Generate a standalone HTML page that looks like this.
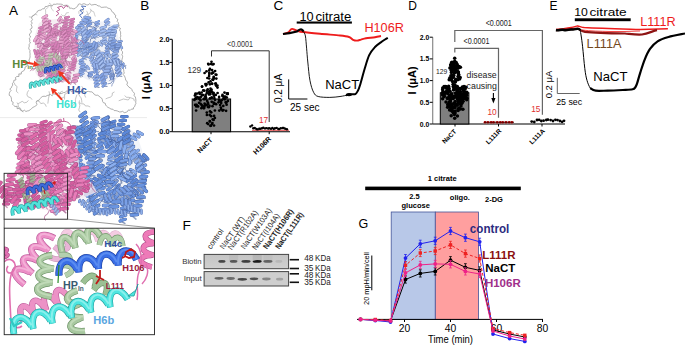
<!DOCTYPE html>
<html><head><meta charset="utf-8"><style>
html,body{margin:0;padding:0;background:#fff;}
svg{display:block;}
text{font-family:"Liberation Sans",sans-serif;}
</style></head><body>
<svg width="685" height="345" viewBox="0 0 685 345">
<defs><path id="r2" d="M-1.00,-0.6 Q-0.75,0.05 -0.45,0.6M0.00,-0.6 Q0.25,0.05 0.55,0.6" fill="none" stroke-linecap="round"/><path id="b2" d="M-0.45,0.6 L0.00,-0.6M0.55,0.6 L1.00,-0.6" fill="none" stroke-linecap="round"/><path id="r3" d="M-1.50,-0.6 Q-1.25,0.05 -0.95,0.6M-0.50,-0.6 Q-0.25,0.05 0.05,0.6M0.50,-0.6 Q0.75,0.05 1.05,0.6" fill="none" stroke-linecap="round"/><path id="b3" d="M-0.95,0.6 L-0.50,-0.6M0.05,0.6 L0.50,-0.6M1.05,0.6 L1.50,-0.6" fill="none" stroke-linecap="round"/><path id="r4" d="M-2.00,-0.6 Q-1.75,0.05 -1.45,0.6M-1.00,-0.6 Q-0.75,0.05 -0.45,0.6M0.00,-0.6 Q0.25,0.05 0.55,0.6M1.00,-0.6 Q1.25,0.05 1.55,0.6" fill="none" stroke-linecap="round"/><path id="b4" d="M-1.45,0.6 L-1.00,-0.6M-0.45,0.6 L0.00,-0.6M0.55,0.6 L1.00,-0.6M1.55,0.6 L2.00,-0.6" fill="none" stroke-linecap="round"/><path id="r5" d="M-2.50,-0.6 Q-2.25,0.05 -1.95,0.6M-1.50,-0.6 Q-1.25,0.05 -0.95,0.6M-0.50,-0.6 Q-0.25,0.05 0.05,0.6M0.50,-0.6 Q0.75,0.05 1.05,0.6M1.50,-0.6 Q1.75,0.05 2.05,0.6" fill="none" stroke-linecap="round"/><path id="b5" d="M-1.95,0.6 L-1.50,-0.6M-0.95,0.6 L-0.50,-0.6M0.05,0.6 L0.50,-0.6M1.05,0.6 L1.50,-0.6M2.05,0.6 L2.50,-0.6" fill="none" stroke-linecap="round"/><path id="r6" d="M-3.00,-0.6 Q-2.75,0.05 -2.45,0.6M-2.00,-0.6 Q-1.75,0.05 -1.45,0.6M-1.00,-0.6 Q-0.75,0.05 -0.45,0.6M0.00,-0.6 Q0.25,0.05 0.55,0.6M1.00,-0.6 Q1.25,0.05 1.55,0.6M2.00,-0.6 Q2.25,0.05 2.55,0.6" fill="none" stroke-linecap="round"/><path id="b6" d="M-2.45,0.6 L-2.00,-0.6M-1.45,0.6 L-1.00,-0.6M-0.45,0.6 L0.00,-0.6M0.55,0.6 L1.00,-0.6M1.55,0.6 L2.00,-0.6M2.55,0.6 L3.00,-0.6" fill="none" stroke-linecap="round"/><path id="r7" d="M-3.50,-0.6 Q-3.25,0.05 -2.95,0.6M-2.50,-0.6 Q-2.25,0.05 -1.95,0.6M-1.50,-0.6 Q-1.25,0.05 -0.95,0.6M-0.50,-0.6 Q-0.25,0.05 0.05,0.6M0.50,-0.6 Q0.75,0.05 1.05,0.6M1.50,-0.6 Q1.75,0.05 2.05,0.6M2.50,-0.6 Q2.75,0.05 3.05,0.6" fill="none" stroke-linecap="round"/><path id="b7" d="M-2.95,0.6 L-2.50,-0.6M-1.95,0.6 L-1.50,-0.6M-0.95,0.6 L-0.50,-0.6M0.05,0.6 L0.50,-0.6M1.05,0.6 L1.50,-0.6M2.05,0.6 L2.50,-0.6M3.05,0.6 L3.50,-0.6" fill="none" stroke-linecap="round"/><path id="r8" d="M-4.00,-0.6 Q-3.75,0.05 -3.45,0.6M-3.00,-0.6 Q-2.75,0.05 -2.45,0.6M-2.00,-0.6 Q-1.75,0.05 -1.45,0.6M-1.00,-0.6 Q-0.75,0.05 -0.45,0.6M0.00,-0.6 Q0.25,0.05 0.55,0.6M1.00,-0.6 Q1.25,0.05 1.55,0.6M2.00,-0.6 Q2.25,0.05 2.55,0.6M3.00,-0.6 Q3.25,0.05 3.55,0.6" fill="none" stroke-linecap="round"/><path id="b8" d="M-3.45,0.6 L-3.00,-0.6M-2.45,0.6 L-2.00,-0.6M-1.45,0.6 L-1.00,-0.6M-0.45,0.6 L0.00,-0.6M0.55,0.6 L1.00,-0.6M1.55,0.6 L2.00,-0.6M2.55,0.6 L3.00,-0.6M3.55,0.6 L4.00,-0.6" fill="none" stroke-linecap="round"/></defs>
<path d="M62.0,4.3 60.3,4.1 58.6,4.1 57.0,3.9 55.3,4.4 53.6,4.1 52.3,5.9 50.4,5.7 48.5,5.4 47.1,6.5 45.3,6.6 44.3,8.7 42.4,8.9 41.0,10.1 39.2,10.3 37.5,11.1 36.8,12.5 35.5,13.8 34.4,15.2 32.3,16.0 31.5,17.9 32.5,19.7 31.1,21.3 32.2,23.1 31.1,24.6 31.9,26.4 32.0,28.1 30.1,29.4 31.3,31.0 31.2,32.5 29.5,33.9 29.6,35.4 30.7,37.0 29.2,38.4 29.9,40.0 29.6,41.5 30.5,43.0 28.9,44.5 29.4,46.0 28.8,47.5 28.8,49.0 30.0,50.5 29.8,52.0 30.1,53.7 30.0,55.4 30.1,57.0 29.6,58.7 28.9,60.3 29.8,62.5 27.9,63.1 27.6,64.8 26.8,66.2 25.1,67.0 24.9,68.7 24.3,70.3 22.9,71.2 21.4,72.0 21.2,74.1 18.8,73.9 19.0,76.4 16.8,76.5 15.4,77.6 16.0,79.8 13.8,80.4 13.7,82.1 12.5,83.3 12.7,85.2 11.9,86.1 11.5,87.6 9.8,88.9 11.1,90.6 9.8,91.9 9.3,93.4 9.2,95.3 10.8,96.4 11.3,97.9 11.5,99.5 11.5,101.2 13.2,102.3 12.7,104.4 13.8,105.5 14.9,106.5 17.1,106.3 17.1,108.7 19.4,108.4 20.0,109.7 21.5,110.4 22.9,111.2 24.5,110.2 25.9,111.5 27.5,110.9 28.8,110.7 30.3,109.7 31.6,108.5 33.0,107.3 34.4,106.7 35.9,105.7 37.1,104.6 36.2,102.5 36.6,101.0 38.5,100.8 39.5,99.1 40.9,97.8 42.2,96.6 44.0,96.2 45.7,96.4 47.2,95.5 48.8,95.2 50.3,94.3 52.2,95.8 53.4,93.7 55.2,94.2 57.0,94.5 58.2,92.7 60.1,93.5 61.8,93.5 63.4,92.6 65.1,92.6 66.5,90.9 68.3,91.2 70.0,90.3 71.7,91.7 73.3,90.6 75.0,90.9 76.7,92.0 78.3,91.7 79.9,91.9 81.7,91.1 83.3,91.3 85.0,92.0 86.7,91.6 88.4,91.4 90.1,91.8 91.8,91.9 93.3,93.0 94.5,94.7 96.1,95.3 97.8,95.2 99.0,96.2 100.2,97.2 101.6,98.1 102.3,99.5 102.6,101.4 103.4,102.7 105.2,103.2 105.6,105.0 106.6,106.2 107.8,107.3 109.5,108.1 111.0,109.1 112.9,109.2 114.2,110.6 116.0,110.6 117.7,111.1 119.3,111.9 121.0,111.9 122.7,111.3 124.2,112.7 126.1,112.3 127.5,111.5 128.4,109.9 130.2,110.3 131.4,109.1 133.3,109.1 133.5,107.6 134.8,106.4 135.1,104.9 135.9,103.6 135.7,102.1 135.9,100.3 135.7,98.7 135.4,97.0 134.1,95.7 134.5,93.6 133.6,92.2 132.3,91.1 131.8,89.4 130.7,88.1 129.0,87.3 128.1,86.0 126.8,84.8 127.5,82.9 127.1,81.4 125.7,80.3 125.5,78.7 125.0,77.3 124.5,76.0 123.2,74.6 124.3,73.0 123.8,71.5 123.8,70.0 123.2,68.5 123.5,67.0 123.7,65.5 123.3,64.0 123.3,62.4 121.8,61.0 122.0,59.4 122.4,57.8 122.7,56.2 121.8,54.7 122.6,53.1 122.4,51.5 121.1,50.1 121.8,48.4 121.2,46.9 120.8,45.4 120.8,43.8 121.1,42.2 120.7,40.7 120.6,39.2 120.2,37.6 120.9,36.0 120.5,34.5 120.7,33.0 120.4,31.5 119.5,30.1 120.5,28.4 118.5,27.2 119.1,25.5 118.6,24.2 118.3,22.6 117.1,21.4 117.9,19.5 116.5,18.4 115.3,17.2 115.8,15.3 114.5,14.6 113.9,12.9 112.5,12.2 111.6,10.9 110.9,9.3 109.6,8.5 108.0,8.2 106.5,7.1 104.7,7.1 102.9,7.3 101.2,7.4 99.7,6.1 98.0,5.9 96.5,4.8 94.9,4.4 93.0,4.8 91.3,5.0 89.8,3.6 88.0,5.0 86.4,4.8 84.8,3.9 83.2,3.8 81.6,4.7 79.8,3.8 78.3,4.4 77.7,6.2 76.3,7.1 75.1,8.5 73.1,8.9 71.6,8.2 69.5,8.2 68.9,6.3 67.2,5.2 65.4,5.3 63.5,5.5 Z" fill="#fff" stroke="#7a7a7a" stroke-width="0.6"/>
<path d="M129.8,97.9 128.3,100.0 125.9,99.5 123.4,99.0 121.1,99.9 118.7,100.8" stroke="#8a8a8a" stroke-width="0.5" fill="none" stroke-linejoin="round"/>
<path d="M28.4,100.4 26.7,102.3 24.3,102.8 22.2,101.3 20.1,102.6 17.9,103.8" stroke="#8a8a8a" stroke-width="0.5" fill="none" stroke-linejoin="round"/>
<path d="M46.3,106.7 45.3,104.4 43.3,103.0 40.8,103.6 39.4,101.5 37.1,100.4" stroke="#8a8a8a" stroke-width="0.5" fill="none" stroke-linejoin="round"/>
<path d="M85.7,97.5 84.7,95.2 85.2,92.7 83.5,90.9 83.2,88.4 81.8,86.3" stroke="#8a8a8a" stroke-width="0.5" fill="none" stroke-linejoin="round"/>
<path d="M77.0,94.7 76.1,97.1 75.4,99.5 75.5,102.0 74.2,104.1 72.5,105.9" stroke="#8a8a8a" stroke-width="0.5" fill="none" stroke-linejoin="round"/>
<path d="M18.3,93.0 16.4,91.4 16.6,88.9 17.1,86.5 15.0,85.0 14.3,82.7" stroke="#8a8a8a" stroke-width="0.5" fill="none" stroke-linejoin="round"/>
<path d="M64.5,99.5 64.6,97.0 64.6,94.5 66.7,93.2 68.4,91.3 69.5,89.1" stroke="#8a8a8a" stroke-width="0.5" fill="none" stroke-linejoin="round"/>
<path d="M114.5,91.9 112.3,93.1 112.2,95.6 110.3,97.2 107.9,97.9 105.6,98.9" stroke="#8a8a8a" stroke-width="0.5" fill="none" stroke-linejoin="round"/>
<path d="M47.8,103.6 48.2,101.1 48.4,98.7 49.0,96.2 49.5,93.8 49.0,91.3" stroke="#8a8a8a" stroke-width="0.5" fill="none" stroke-linejoin="round"/>
<path d="M32.1,99.7 30.6,97.7 28.2,97.0 26.9,94.9 27.4,92.4 28.7,90.3" stroke="#8a8a8a" stroke-width="0.5" fill="none" stroke-linejoin="round"/>
<path d="M17.0,102.5 18.2,104.6 18.3,107.1 20.5,108.2 21.2,110.6 23.3,112.1" stroke="#8a8a8a" stroke-width="0.5" fill="none" stroke-linejoin="round"/>
<path d="M90.2,107.0 88.0,105.9 85.5,106.0 84.0,104.0 81.5,103.7 79.2,102.7" stroke="#8a8a8a" stroke-width="0.5" fill="none" stroke-linejoin="round"/>
<path d="M62.8,91.2 60.5,92.0 59.7,94.4 59.7,96.9 61.8,98.2 64.0,97.0" stroke="#8a8a8a" stroke-width="0.5" fill="none" stroke-linejoin="round"/>
<path d="M81.9,102.8 81.7,100.4 81.1,97.9 79.6,96.0 78.5,93.7 77.4,91.5" stroke="#8a8a8a" stroke-width="0.5" fill="none" stroke-linejoin="round"/>
<path d="M124.7,95.5 126.4,97.3 128.9,97.3 131.3,98.0 133.7,98.8 134.4,101.2" stroke="#8a8a8a" stroke-width="0.5" fill="none" stroke-linejoin="round"/>
<path d="M79.5,100.4 79.0,102.9 79.9,105.2 79.4,107.6 78.7,110.0 80.2,112.1" stroke="#8a8a8a" stroke-width="0.5" fill="none" stroke-linejoin="round"/>
<path d="M53.7,11.0 51.8,9.3 51.0,7.0 51.1,4.5 49.0,3.0" stroke="#9a9a9a" stroke-width="0.5" fill="none" stroke-linejoin="round"/>
<path d="M90.1,8.7 91.4,10.8 93.8,11.8 94.5,14.2 95.3,16.5" stroke="#9a9a9a" stroke-width="0.5" fill="none" stroke-linejoin="round"/>
<path d="M61.2,14.4 63.0,16.0 65.4,15.2 66.3,12.9 68.8,12.6" stroke="#9a9a9a" stroke-width="0.5" fill="none" stroke-linejoin="round"/>
<path d="M91.2,9.8 90.5,12.2 88.9,14.1 86.4,14.4 85.0,16.5" stroke="#9a9a9a" stroke-width="0.5" fill="none" stroke-linejoin="round"/>
<path d="M86.5,10.8 87.7,13.0 88.2,15.5 89.6,17.6 91.5,19.2" stroke="#9a9a9a" stroke-width="0.5" fill="none" stroke-linejoin="round"/>
<path d="M45.5,14.6 45.7,12.2 45.5,9.7 47.3,7.9 49.1,6.2" stroke="#9a9a9a" stroke-width="0.5" fill="none" stroke-linejoin="round"/>
<path d="M83.8,12.6 83.0,10.2 80.6,9.5 78.9,11.3 78.9,13.8" stroke="#9a9a9a" stroke-width="0.5" fill="none" stroke-linejoin="round"/>
<path d="M37.3,15.1 35.1,13.9 33.2,15.5 31.4,17.2 28.9,16.8" stroke="#9a9a9a" stroke-width="0.5" fill="none" stroke-linejoin="round"/>
<path d="M76,27 L80,22 L95,21 L108,22 L116,27 L119,40 L121,60 L120,75 L114,82 L100,82 L88,80 L80,76 L75,65 L73,45 Z" fill="#eceff6" opacity="0.8"/><g transform="translate(93.2,62.3) rotate(68) scale(2.89)"><use href="#b5" stroke="#98a8c8" stroke-width="0.35"/><use href="#r5" stroke="#5670a8" stroke-width="0.80"/><use href="#r5" stroke="#98b4ec" stroke-width="0.60"/></g><g transform="translate(85.3,41.7) rotate(83) scale(3.54)"><use href="#b5" stroke="#98a8c8" stroke-width="0.35"/><use href="#r5" stroke="#6078b0" stroke-width="0.80"/><use href="#r5" stroke="#82a2e2" stroke-width="0.60"/></g><g transform="translate(110.5,73.0) rotate(66) scale(2.86)"><use href="#b5" stroke="#98a8c8" stroke-width="0.35"/><use href="#r5" stroke="#5670a8" stroke-width="0.80"/><use href="#r5" stroke="#98b4ec" stroke-width="0.60"/></g><path d="M118.6,67.9 117.4,71.2 114.8,73.5 113.8,76.8 113.1,80.3 111.1,83.1 107.7,83.9" stroke="#5670a8" stroke-width="0.7" fill="none" stroke-linejoin="round"/><path d="M110.9,75.7 113.0,76.2 113.6,78.3 113.9,80.5 113.5,82.6 112.2,84.3 111.7,86.4" stroke="#6078b0" stroke-width="0.7" fill="none" stroke-linejoin="round"/><g transform="translate(111.4,40.4) rotate(104) scale(3.54)"><use href="#b5" stroke="#8898bb" stroke-width="0.35"/><use href="#r5" stroke="#6078b0" stroke-width="0.80"/><use href="#r5" stroke="#a4bef0" stroke-width="0.60"/></g><path d="M112.8,60.7 113.7,58.2 112.8,55.8 110.6,54.3 108.2,55.5 106.0,54.1 103.5,53.4" stroke="#5670a8" stroke-width="0.7" fill="none" stroke-linejoin="round"/><g transform="translate(75.4,38.0) rotate(91) scale(2.96)"><use href="#b3" stroke="#98a8c8" stroke-width="0.35"/><use href="#r3" stroke="#5670a8" stroke-width="0.80"/><use href="#r3" stroke="#82a2e2" stroke-width="0.60"/></g><g transform="translate(85.9,55.0) rotate(106) scale(2.94)"><use href="#b3" stroke="#98a8c8" stroke-width="0.35"/><use href="#r3" stroke="#6078b0" stroke-width="0.80"/><use href="#r3" stroke="#98b4ec" stroke-width="0.60"/></g><g transform="translate(111.4,35.9) rotate(90) scale(3.55)"><use href="#b5" stroke="#98a8c8" stroke-width="0.35"/><use href="#r5" stroke="#5670a8" stroke-width="0.80"/><use href="#r5" stroke="#a4bef0" stroke-width="0.60"/></g><g transform="translate(93.3,53.0) rotate(178) scale(3.01)"><use href="#b2" stroke="#8898bb" stroke-width="0.35"/><use href="#r2" stroke="#6078b0" stroke-width="0.80"/><use href="#r2" stroke="#98b4ec" stroke-width="0.60"/></g><g transform="translate(108.5,33.3) rotate(108) scale(3.54)"><use href="#b2" stroke="#98a8c8" stroke-width="0.35"/><use href="#r2" stroke="#5670a8" stroke-width="0.80"/><use href="#r2" stroke="#98b4ec" stroke-width="0.60"/></g><path d="M113.2,62.2 113.3,58.9 115.6,56.4 115.4,53.0 115.1,49.6 111.8,48.7" stroke="#6078b0" stroke-width="0.7" fill="none" stroke-linejoin="round"/><g transform="translate(81.5,44.4) rotate(65) scale(2.90)"><use href="#b2" stroke="#98a8c8" stroke-width="0.35"/><use href="#r2" stroke="#5670a8" stroke-width="0.80"/><use href="#r2" stroke="#98b4ec" stroke-width="0.60"/></g><g transform="translate(106.8,55.6) rotate(170) scale(3.34)"><use href="#b2" stroke="#8898bb" stroke-width="0.35"/><use href="#r2" stroke="#5670a8" stroke-width="0.80"/><use href="#r2" stroke="#a4bef0" stroke-width="0.60"/></g><path d="M104.4,67.2 102.6,67.8 100.6,67.7 98.6,68.0" stroke="#5670a8" stroke-width="0.7" fill="none" stroke-linejoin="round"/><g transform="translate(102.3,42.8) rotate(151) scale(3.12)"><use href="#b3" stroke="#98a8c8" stroke-width="0.35"/><use href="#r3" stroke="#5670a8" stroke-width="0.80"/><use href="#r3" stroke="#a4bef0" stroke-width="0.60"/></g><g transform="translate(81.5,62.0) rotate(90) scale(2.91)"><use href="#b2" stroke="#8898bb" stroke-width="0.35"/><use href="#r2" stroke="#5670a8" stroke-width="0.80"/><use href="#r2" stroke="#8caae8" stroke-width="0.60"/></g><path d="M99.4,80.3 97.6,81.2 95.8,80.1 93.8,79.7 92.6,78.1 91.4,76.4 89.4,76.1" stroke="#5670a8" stroke-width="0.7" fill="none" stroke-linejoin="round"/><g transform="translate(96.2,66.4) rotate(68) scale(2.77)"><use href="#b3" stroke="#98a8c8" stroke-width="0.35"/><use href="#r3" stroke="#6078b0" stroke-width="0.80"/><use href="#r3" stroke="#82a2e2" stroke-width="0.60"/></g><g transform="translate(86.2,67.7) rotate(169) scale(2.66)"><use href="#b2" stroke="#8898bb" stroke-width="0.35"/><use href="#r2" stroke="#6078b0" stroke-width="0.80"/><use href="#r2" stroke="#98b4ec" stroke-width="0.60"/></g><g transform="translate(117.6,66.9) rotate(84) scale(2.82)"><use href="#b5" stroke="#98a8c8" stroke-width="0.35"/><use href="#r5" stroke="#6078b0" stroke-width="0.80"/><use href="#r5" stroke="#98b4ec" stroke-width="0.60"/></g><path d="M113.5,56.5 116.0,58.5 116.8,61.6 119.7,62.7" stroke="#6078b0" stroke-width="0.7" fill="none" stroke-linejoin="round"/><path d="M93.4,58.9 94.0,56.7 94.5,54.5 96.7,53.9 98.5,52.5 98.0,50.3 97.1,48.3" stroke="#5670a8" stroke-width="0.7" fill="none" stroke-linejoin="round"/><path d="M85.4,42.8 86.4,40.3 88.8,38.8 90.4,36.6 89.5,34.1 89.5,31.3" stroke="#5670a8" stroke-width="0.7" fill="none" stroke-linejoin="round"/><g transform="translate(107.4,49.3) rotate(95) scale(2.69)"><use href="#b4" stroke="#8898bb" stroke-width="0.35"/><use href="#r4" stroke="#5670a8" stroke-width="0.80"/><use href="#r4" stroke="#8caae8" stroke-width="0.60"/></g><g transform="translate(82.2,71.8) rotate(108) scale(2.85)"><use href="#b3" stroke="#8898bb" stroke-width="0.35"/><use href="#r3" stroke="#5670a8" stroke-width="0.80"/><use href="#r3" stroke="#a4bef0" stroke-width="0.60"/></g><g transform="translate(118.6,71.9) rotate(76) scale(3.37)"><use href="#b3" stroke="#98a8c8" stroke-width="0.35"/><use href="#r3" stroke="#5670a8" stroke-width="0.80"/><use href="#r3" stroke="#98b4ec" stroke-width="0.60"/></g><g transform="translate(118.6,62.5) rotate(35) scale(3.07)"><use href="#b5" stroke="#98a8c8" stroke-width="0.35"/><use href="#r5" stroke="#6078b0" stroke-width="0.80"/><use href="#r5" stroke="#8caae8" stroke-width="0.60"/></g><path d="M100.0,51.7 97.2,51.2 95.7,48.8 93.2,47.5 90.6,48.7" stroke="#5670a8" stroke-width="0.7" fill="none" stroke-linejoin="round"/><g transform="translate(90.4,74.6) rotate(106) scale(2.76)"><use href="#b2" stroke="#8898bb" stroke-width="0.35"/><use href="#r2" stroke="#6078b0" stroke-width="0.80"/><use href="#r2" stroke="#82a2e2" stroke-width="0.60"/></g><g transform="translate(114.7,46.8) rotate(172) scale(3.43)"><use href="#b4" stroke="#8898bb" stroke-width="0.35"/><use href="#r4" stroke="#5670a8" stroke-width="0.80"/><use href="#r4" stroke="#98b4ec" stroke-width="0.60"/></g><g transform="translate(97.2,23.9) rotate(92) scale(2.75)"><use href="#b2" stroke="#98a8c8" stroke-width="0.35"/><use href="#r2" stroke="#6078b0" stroke-width="0.80"/><use href="#r2" stroke="#8caae8" stroke-width="0.60"/></g><path d="M100.9,34.6 102.7,32.8 105.2,33.1 107.8,33.6" stroke="#6078b0" stroke-width="0.7" fill="none" stroke-linejoin="round"/><g transform="translate(95.6,46.9) rotate(67) scale(3.16)"><use href="#b2" stroke="#98a8c8" stroke-width="0.35"/><use href="#r2" stroke="#6078b0" stroke-width="0.80"/><use href="#r2" stroke="#82a2e2" stroke-width="0.60"/></g><g transform="translate(104.5,39.7) rotate(94) scale(2.66)"><use href="#b3" stroke="#98a8c8" stroke-width="0.35"/><use href="#r3" stroke="#6078b0" stroke-width="0.80"/><use href="#r3" stroke="#a4bef0" stroke-width="0.60"/></g><g transform="translate(85.0,35.0) rotate(72) scale(3.41)"><use href="#b3" stroke="#8898bb" stroke-width="0.35"/><use href="#r3" stroke="#6078b0" stroke-width="0.80"/><use href="#r3" stroke="#98b4ec" stroke-width="0.60"/></g><g transform="translate(84.6,33.2) rotate(74) scale(3.35)"><use href="#b3" stroke="#8898bb" stroke-width="0.35"/><use href="#r3" stroke="#6078b0" stroke-width="0.80"/><use href="#r3" stroke="#a4bef0" stroke-width="0.60"/></g><g transform="translate(84.0,52.2) rotate(86) scale(3.24)"><use href="#b3" stroke="#8898bb" stroke-width="0.35"/><use href="#r3" stroke="#6078b0" stroke-width="0.80"/><use href="#r3" stroke="#98b4ec" stroke-width="0.60"/></g><g transform="translate(115.2,55.7) rotate(89) scale(3.49)"><use href="#b4" stroke="#8898bb" stroke-width="0.35"/><use href="#r4" stroke="#5670a8" stroke-width="0.80"/><use href="#r4" stroke="#98b4ec" stroke-width="0.60"/></g><g transform="translate(93.6,33.3) rotate(81) scale(3.19)"><use href="#b3" stroke="#98a8c8" stroke-width="0.35"/><use href="#r3" stroke="#6078b0" stroke-width="0.80"/><use href="#r3" stroke="#a4bef0" stroke-width="0.60"/></g><path d="M114.2,74.8 112.2,74.2 110.6,75.6 109.9,77.5 110.7,79.4 109.4,81.1" stroke="#6078b0" stroke-width="0.7" fill="none" stroke-linejoin="round"/><g transform="translate(113.3,44.8) rotate(98) scale(2.99)"><use href="#b3" stroke="#98a8c8" stroke-width="0.35"/><use href="#r3" stroke="#6078b0" stroke-width="0.80"/><use href="#r3" stroke="#82a2e2" stroke-width="0.60"/></g><g transform="translate(78.6,30.7) rotate(83) scale(3.31)"><use href="#b3" stroke="#98a8c8" stroke-width="0.35"/><use href="#r3" stroke="#6078b0" stroke-width="0.80"/><use href="#r3" stroke="#98b4ec" stroke-width="0.60"/></g><g transform="translate(89.1,34.3) rotate(73) scale(3.47)"><use href="#b2" stroke="#98a8c8" stroke-width="0.35"/><use href="#r2" stroke="#6078b0" stroke-width="0.80"/><use href="#r2" stroke="#82a2e2" stroke-width="0.60"/></g><g transform="translate(98.9,58.3) rotate(114) scale(3.27)"><use href="#b4" stroke="#8898bb" stroke-width="0.35"/><use href="#r4" stroke="#6078b0" stroke-width="0.80"/><use href="#r4" stroke="#98b4ec" stroke-width="0.60"/></g><g transform="translate(117.9,46.8) rotate(111) scale(2.64)"><use href="#b5" stroke="#98a8c8" stroke-width="0.35"/><use href="#r5" stroke="#5670a8" stroke-width="0.80"/><use href="#r5" stroke="#8caae8" stroke-width="0.60"/></g><g transform="translate(81.4,70.3) rotate(107) scale(2.68)"><use href="#b5" stroke="#8898bb" stroke-width="0.35"/><use href="#r5" stroke="#6078b0" stroke-width="0.80"/><use href="#r5" stroke="#8caae8" stroke-width="0.60"/></g><path d="M113.4,74.4 113.2,71.5 112.4,68.7 111.1,66.1 112.8,63.8 112.2,61.0" stroke="#5670a8" stroke-width="0.7" fill="none" stroke-linejoin="round"/><path d="M95.4,48.0 93.2,49.2 90.8,49.2 89.4,51.2 87.6,52.8 86.0,54.6" stroke="#6078b0" stroke-width="0.7" fill="none" stroke-linejoin="round"/><path d="M87.5,31.2 87.4,28.2 86.6,25.4 88.6,23.1" stroke="#5670a8" stroke-width="0.7" fill="none" stroke-linejoin="round"/><g transform="translate(106.3,69.5) rotate(83) scale(3.35)"><use href="#b2" stroke="#8898bb" stroke-width="0.35"/><use href="#r2" stroke="#5670a8" stroke-width="0.80"/><use href="#r2" stroke="#8caae8" stroke-width="0.60"/></g><g transform="translate(102.3,62.0) rotate(83) scale(3.40)"><use href="#b2" stroke="#98a8c8" stroke-width="0.35"/><use href="#r2" stroke="#6078b0" stroke-width="0.80"/><use href="#r2" stroke="#8caae8" stroke-width="0.60"/></g><path d="M111.0,68.1 109.9,69.9 110.3,71.9 108.6,73.1 106.6,72.6 104.7,73.4" stroke="#5670a8" stroke-width="0.7" fill="none" stroke-linejoin="round"/><path d="M115.5,43.8 114.1,45.8 114.8,48.1 116.6,49.6 118.8,48.6 120.0,46.5" stroke="#6078b0" stroke-width="0.7" fill="none" stroke-linejoin="round"/><g transform="translate(96.6,81.3) rotate(84) scale(3.15)"><use href="#b4" stroke="#8898bb" stroke-width="0.35"/><use href="#r4" stroke="#6078b0" stroke-width="0.80"/><use href="#r4" stroke="#8caae8" stroke-width="0.60"/></g><g transform="translate(79.5,53.1) rotate(73) scale(3.32)"><use href="#b2" stroke="#98a8c8" stroke-width="0.35"/><use href="#r2" stroke="#5670a8" stroke-width="0.80"/><use href="#r2" stroke="#a4bef0" stroke-width="0.60"/></g><path d="M90.4,25.6 91.9,27.2 94.0,26.8 95.2,28.6 96.2,30.5 97.5,32.2 99.5,33.0" stroke="#5670a8" stroke-width="0.7" fill="none" stroke-linejoin="round"/><g transform="translate(112.1,62.2) rotate(4) scale(3.44)"><use href="#b5" stroke="#98a8c8" stroke-width="0.35"/><use href="#r5" stroke="#5670a8" stroke-width="0.80"/><use href="#r5" stroke="#a4bef0" stroke-width="0.60"/></g><path d="M95.3,30.5 97.1,27.5 95.6,24.5 93.1,22.1 89.8,23.0" stroke="#6078b0" stroke-width="0.7" fill="none" stroke-linejoin="round"/><g transform="translate(99.3,66.9) rotate(14) scale(3.00)"><use href="#b4" stroke="#98a8c8" stroke-width="0.35"/><use href="#r4" stroke="#6078b0" stroke-width="0.80"/><use href="#r4" stroke="#98b4ec" stroke-width="0.60"/></g><g transform="translate(106.2,71.6) rotate(110) scale(3.53)"><use href="#b5" stroke="#98a8c8" stroke-width="0.35"/><use href="#r5" stroke="#6078b0" stroke-width="0.80"/><use href="#r5" stroke="#98b4ec" stroke-width="0.60"/></g><g transform="translate(96.5,71.7) rotate(27) scale(2.74)"><use href="#b2" stroke="#8898bb" stroke-width="0.35"/><use href="#r2" stroke="#6078b0" stroke-width="0.80"/><use href="#r2" stroke="#82a2e2" stroke-width="0.60"/></g><g transform="translate(107.2,22.6) rotate(78) scale(3.13)"><use href="#b2" stroke="#98a8c8" stroke-width="0.35"/><use href="#r2" stroke="#6078b0" stroke-width="0.80"/><use href="#r2" stroke="#98b4ec" stroke-width="0.60"/></g><g transform="translate(113.6,31.7) rotate(109) scale(2.84)"><use href="#b5" stroke="#8898bb" stroke-width="0.35"/><use href="#r5" stroke="#5670a8" stroke-width="0.80"/><use href="#r5" stroke="#a4bef0" stroke-width="0.60"/></g><g transform="translate(100.0,60.1) rotate(70) scale(3.55)"><use href="#b5" stroke="#8898bb" stroke-width="0.35"/><use href="#r5" stroke="#5670a8" stroke-width="0.80"/><use href="#r5" stroke="#a4bef0" stroke-width="0.60"/></g><path d="M118.9,62.5 119.8,64.5 122.0,64.3 123.8,65.5 125.6,66.7 125.6,68.9" stroke="#6078b0" stroke-width="0.7" fill="none" stroke-linejoin="round"/><path d="M106.4,64.1 105.6,66.0 104.6,67.8 102.6,68.3" stroke="#6078b0" stroke-width="0.7" fill="none" stroke-linejoin="round"/><path d="M87.4,54.7 88.9,53.1 90.7,51.8 92.6,50.7 92.6,48.5 93.8,46.7 93.1,44.6" stroke="#6078b0" stroke-width="0.7" fill="none" stroke-linejoin="round"/><path d="M81.0,69.1 83.8,69.9 86.3,71.3 88.6,73.1 88.4,76.0 89.3,78.7" stroke="#6078b0" stroke-width="0.7" fill="none" stroke-linejoin="round"/><g transform="translate(76.1,46.8) rotate(70) scale(3.38)"><use href="#b4" stroke="#98a8c8" stroke-width="0.35"/><use href="#r4" stroke="#5670a8" stroke-width="0.80"/><use href="#r4" stroke="#82a2e2" stroke-width="0.60"/></g><g transform="translate(96.4,34.6) rotate(89) scale(2.99)"><use href="#b2" stroke="#98a8c8" stroke-width="0.35"/><use href="#r2" stroke="#5670a8" stroke-width="0.80"/><use href="#r2" stroke="#98b4ec" stroke-width="0.60"/></g><path d="M96.1,39.2 93.4,38.0 90.6,38.9 90.2,41.8 89.3,44.6 88.6,47.5" stroke="#5670a8" stroke-width="0.7" fill="none" stroke-linejoin="round"/><g transform="translate(90.9,48.5) rotate(89) scale(3.02)"><use href="#b3" stroke="#98a8c8" stroke-width="0.35"/><use href="#r3" stroke="#6078b0" stroke-width="0.80"/><use href="#r3" stroke="#82a2e2" stroke-width="0.60"/></g><g transform="translate(88.9,22.6) rotate(80) scale(3.10)"><use href="#b3" stroke="#8898bb" stroke-width="0.35"/><use href="#r3" stroke="#6078b0" stroke-width="0.80"/><use href="#r3" stroke="#82a2e2" stroke-width="0.60"/></g><path d="M78.9,48.8 81.9,48.7 84.8,47.9 87.8,47.3 90.7,46.4 93.6,46.0 96.7,45.8" stroke="#5670a8" stroke-width="0.7" fill="none" stroke-linejoin="round"/><g transform="translate(102.6,31.8) rotate(98) scale(3.54)"><use href="#b3" stroke="#98a8c8" stroke-width="0.35"/><use href="#r3" stroke="#5670a8" stroke-width="0.80"/><use href="#r3" stroke="#a4bef0" stroke-width="0.60"/></g><g transform="translate(103.0,80.8) rotate(71) scale(3.30)"><use href="#b4" stroke="#8898bb" stroke-width="0.35"/><use href="#r4" stroke="#6078b0" stroke-width="0.80"/><use href="#r4" stroke="#82a2e2" stroke-width="0.60"/></g><g transform="translate(95.4,45.7) rotate(42) scale(3.26)"><use href="#b2" stroke="#8898bb" stroke-width="0.35"/><use href="#r2" stroke="#6078b0" stroke-width="0.80"/><use href="#r2" stroke="#8caae8" stroke-width="0.60"/></g><g transform="translate(83.5,22.3) rotate(126) scale(3.39)"><use href="#b4" stroke="#8898bb" stroke-width="0.35"/><use href="#r4" stroke="#5670a8" stroke-width="0.80"/><use href="#r4" stroke="#8caae8" stroke-width="0.60"/></g>
<path d="M39,23 L45,20 L58,19 L70,21 L74,26 L75,35 L75,50 L76,62 L79,74 L76,80 L68,79 L60,77 L50,80 L40,80 L35,72 L34,55 L35,35 Z" fill="#f3e9ef" opacity="0.8"/><g transform="translate(42.0,73.6) rotate(77) scale(2.80)"><use href="#b2" stroke="#b87aa4" stroke-width="0.35"/><use href="#r2" stroke="#a8608e" stroke-width="0.80"/><use href="#r2" stroke="#eaaad2" stroke-width="0.60"/></g><g transform="translate(49.9,34.8) rotate(85) scale(3.31)"><use href="#b3" stroke="#c89ab8" stroke-width="0.35"/><use href="#r3" stroke="#a8608e" stroke-width="0.80"/><use href="#r3" stroke="#de8ec2" stroke-width="0.60"/></g><g transform="translate(48.7,24.2) rotate(81) scale(3.04)"><use href="#b2" stroke="#b87aa4" stroke-width="0.35"/><use href="#r2" stroke="#a8608e" stroke-width="0.80"/><use href="#r2" stroke="#de8ec2" stroke-width="0.60"/></g><g transform="translate(54.5,38.0) rotate(105) scale(2.83)"><use href="#b4" stroke="#c89ab8" stroke-width="0.35"/><use href="#r4" stroke="#b06a98" stroke-width="0.80"/><use href="#r4" stroke="#e59dca" stroke-width="0.60"/></g><g transform="translate(47.5,66.3) rotate(91) scale(2.77)"><use href="#b4" stroke="#c89ab8" stroke-width="0.35"/><use href="#r4" stroke="#b06a98" stroke-width="0.80"/><use href="#r4" stroke="#de8ec2" stroke-width="0.60"/></g><g transform="translate(60.0,75.8) rotate(79) scale(3.27)"><use href="#b4" stroke="#c89ab8" stroke-width="0.35"/><use href="#r4" stroke="#a8608e" stroke-width="0.80"/><use href="#r4" stroke="#d680b8" stroke-width="0.60"/></g><path d="M57.7,59.6 54.9,60.8 51.8,61.2 49.0,60.1 46.4,61.6" stroke="#a8608e" stroke-width="0.7" fill="none" stroke-linejoin="round"/><path d="M42.7,76.0 40.6,76.8 38.8,75.6 38.8,73.5 38.6,71.3" stroke="#a8608e" stroke-width="0.7" fill="none" stroke-linejoin="round"/><g transform="translate(54.7,54.4) rotate(114) scale(3.08)"><use href="#b5" stroke="#c89ab8" stroke-width="0.35"/><use href="#r5" stroke="#a8608e" stroke-width="0.80"/><use href="#r5" stroke="#eaaad2" stroke-width="0.60"/></g><g transform="translate(71.1,34.7) rotate(134) scale(2.96)"><use href="#b4" stroke="#b87aa4" stroke-width="0.35"/><use href="#r4" stroke="#b06a98" stroke-width="0.80"/><use href="#r4" stroke="#eaaad2" stroke-width="0.60"/></g><g transform="translate(69.5,30.5) rotate(88) scale(3.34)"><use href="#b2" stroke="#c89ab8" stroke-width="0.35"/><use href="#r2" stroke="#a8608e" stroke-width="0.80"/><use href="#r2" stroke="#de8ec2" stroke-width="0.60"/></g><g transform="translate(40.1,35.6) rotate(110) scale(3.36)"><use href="#b2" stroke="#b87aa4" stroke-width="0.35"/><use href="#r2" stroke="#a8608e" stroke-width="0.80"/><use href="#r2" stroke="#d680b8" stroke-width="0.60"/></g><g transform="translate(43.0,63.1) rotate(64) scale(2.73)"><use href="#b3" stroke="#b87aa4" stroke-width="0.35"/><use href="#r3" stroke="#a8608e" stroke-width="0.80"/><use href="#r3" stroke="#d680b8" stroke-width="0.60"/></g><g transform="translate(74.3,59.3) rotate(65) scale(2.86)"><use href="#b2" stroke="#b87aa4" stroke-width="0.35"/><use href="#r2" stroke="#b06a98" stroke-width="0.80"/><use href="#r2" stroke="#e59dca" stroke-width="0.60"/></g><path d="M71.5,36.5 69.6,34.0 66.5,34.6 64.2,36.7 62.4,39.2 60.0,41.2 56.9,41.3" stroke="#a8608e" stroke-width="0.7" fill="none" stroke-linejoin="round"/><path d="M39.1,65.6 36.9,67.2 34.5,68.5 31.9,69.1 30.2,71.2" stroke="#a8608e" stroke-width="0.7" fill="none" stroke-linejoin="round"/><g transform="translate(54.7,64.3) rotate(103) scale(2.94)"><use href="#b3" stroke="#c89ab8" stroke-width="0.35"/><use href="#r3" stroke="#b06a98" stroke-width="0.80"/><use href="#r3" stroke="#d680b8" stroke-width="0.60"/></g><g transform="translate(43.6,36.5) rotate(78) scale(2.80)"><use href="#b2" stroke="#b87aa4" stroke-width="0.35"/><use href="#r2" stroke="#b06a98" stroke-width="0.80"/><use href="#r2" stroke="#eaaad2" stroke-width="0.60"/></g><g transform="translate(67.2,77.2) rotate(104) scale(3.12)"><use href="#b3" stroke="#b87aa4" stroke-width="0.35"/><use href="#r3" stroke="#a8608e" stroke-width="0.80"/><use href="#r3" stroke="#eaaad2" stroke-width="0.60"/></g><path d="M70.3,42.6 73.8,42.4 76.2,39.9 79.6,40.0 82.7,41.5 84.2,44.6" stroke="#b06a98" stroke-width="0.7" fill="none" stroke-linejoin="round"/><g transform="translate(40.4,52.9) rotate(8) scale(3.10)"><use href="#b4" stroke="#c89ab8" stroke-width="0.35"/><use href="#r4" stroke="#a8608e" stroke-width="0.80"/><use href="#r4" stroke="#d680b8" stroke-width="0.60"/></g><path d="M42.8,64.1 41.7,66.9 42.6,69.8 45.4,70.8 47.6,68.7 50.4,69.7 50.9,72.7" stroke="#b06a98" stroke-width="0.7" fill="none" stroke-linejoin="round"/><path d="M51.5,26.6 51.9,28.7 50.3,30.1 49.0,31.7" stroke="#b06a98" stroke-width="0.7" fill="none" stroke-linejoin="round"/><g transform="translate(65.9,44.0) rotate(170) scale(3.39)"><use href="#b5" stroke="#c89ab8" stroke-width="0.35"/><use href="#r5" stroke="#a8608e" stroke-width="0.80"/><use href="#r5" stroke="#eaaad2" stroke-width="0.60"/></g><g transform="translate(48.6,71.7) rotate(101) scale(3.21)"><use href="#b2" stroke="#b87aa4" stroke-width="0.35"/><use href="#r2" stroke="#b06a98" stroke-width="0.80"/><use href="#r2" stroke="#de8ec2" stroke-width="0.60"/></g><path d="M63.3,52.0 62.9,49.8 64.0,47.8 62.9,45.8 64.2,44.0 66.5,44.2" stroke="#a8608e" stroke-width="0.7" fill="none" stroke-linejoin="round"/><g transform="translate(57.6,72.6) rotate(84) scale(3.48)"><use href="#b3" stroke="#b87aa4" stroke-width="0.35"/><use href="#r3" stroke="#b06a98" stroke-width="0.80"/><use href="#r3" stroke="#d680b8" stroke-width="0.60"/></g><path d="M50.2,60.9 49.8,63.6 48.0,65.6 45.5,66.7 43.2,68.3 40.7,67.4 38.7,69.3" stroke="#b06a98" stroke-width="0.7" fill="none" stroke-linejoin="round"/><g transform="translate(50.2,29.7) rotate(44) scale(3.47)"><use href="#b5" stroke="#b87aa4" stroke-width="0.35"/><use href="#r5" stroke="#b06a98" stroke-width="0.80"/><use href="#r5" stroke="#de8ec2" stroke-width="0.60"/></g><g transform="translate(63.2,30.6) rotate(91) scale(3.56)"><use href="#b2" stroke="#b87aa4" stroke-width="0.35"/><use href="#r2" stroke="#a8608e" stroke-width="0.80"/><use href="#r2" stroke="#e59dca" stroke-width="0.60"/></g><g transform="translate(47.8,41.8) rotate(65) scale(2.85)"><use href="#b4" stroke="#c89ab8" stroke-width="0.35"/><use href="#r4" stroke="#a8608e" stroke-width="0.80"/><use href="#r4" stroke="#de8ec2" stroke-width="0.60"/></g><path d="M55.3,73.8 55.2,70.9 56.5,68.4 56.9,65.7" stroke="#b06a98" stroke-width="0.7" fill="none" stroke-linejoin="round"/><path d="M58.1,71.4 59.7,69.7 61.8,68.7 64.1,68.5" stroke="#a8608e" stroke-width="0.7" fill="none" stroke-linejoin="round"/><g transform="translate(69.8,69.1) rotate(109) scale(2.68)"><use href="#b2" stroke="#b87aa4" stroke-width="0.35"/><use href="#r2" stroke="#b06a98" stroke-width="0.80"/><use href="#r2" stroke="#e59dca" stroke-width="0.60"/></g><g transform="translate(45.0,47.8) rotate(92) scale(3.20)"><use href="#b3" stroke="#c89ab8" stroke-width="0.35"/><use href="#r3" stroke="#a8608e" stroke-width="0.80"/><use href="#r3" stroke="#de8ec2" stroke-width="0.60"/></g><g transform="translate(71.4,24.2) rotate(99) scale(2.82)"><use href="#b4" stroke="#c89ab8" stroke-width="0.35"/><use href="#r4" stroke="#a8608e" stroke-width="0.80"/><use href="#r4" stroke="#d680b8" stroke-width="0.60"/></g><g transform="translate(60.6,20.6) rotate(61) scale(3.01)"><use href="#b2" stroke="#b87aa4" stroke-width="0.35"/><use href="#r2" stroke="#a8608e" stroke-width="0.80"/><use href="#r2" stroke="#eaaad2" stroke-width="0.60"/></g><g transform="translate(40.8,38.2) rotate(142) scale(2.77)"><use href="#b4" stroke="#c89ab8" stroke-width="0.35"/><use href="#r4" stroke="#b06a98" stroke-width="0.80"/><use href="#r4" stroke="#eaaad2" stroke-width="0.60"/></g><g transform="translate(71.6,48.4) rotate(114) scale(3.51)"><use href="#b5" stroke="#c89ab8" stroke-width="0.35"/><use href="#r5" stroke="#a8608e" stroke-width="0.80"/><use href="#r5" stroke="#eaaad2" stroke-width="0.60"/></g><g transform="translate(60.1,33.4) rotate(17) scale(3.27)"><use href="#b5" stroke="#c89ab8" stroke-width="0.35"/><use href="#r5" stroke="#a8608e" stroke-width="0.80"/><use href="#r5" stroke="#de8ec2" stroke-width="0.60"/></g><path d="M44.6,66.9 45.1,64.8 46.1,62.9 48.1,62.4" stroke="#b06a98" stroke-width="0.7" fill="none" stroke-linejoin="round"/><g transform="translate(57.0,60.0) rotate(78) scale(3.39)"><use href="#b4" stroke="#c89ab8" stroke-width="0.35"/><use href="#r4" stroke="#a8608e" stroke-width="0.80"/><use href="#r4" stroke="#e59dca" stroke-width="0.60"/></g><g transform="translate(62.3,39.3) rotate(111) scale(3.45)"><use href="#b5" stroke="#b87aa4" stroke-width="0.35"/><use href="#r5" stroke="#a8608e" stroke-width="0.80"/><use href="#r5" stroke="#e59dca" stroke-width="0.60"/></g><path d="M59.9,26.0 60.8,29.2 59.2,32.2 56.3,33.8 52.9,33.3" stroke="#b06a98" stroke-width="0.7" fill="none" stroke-linejoin="round"/><path d="M50.5,58.7 48.9,57.6 46.8,57.5 45.0,56.6 43.0,56.3 41.8,57.9 42.1,59.9" stroke="#b06a98" stroke-width="0.7" fill="none" stroke-linejoin="round"/><g transform="translate(47.0,60.3) rotate(175) scale(3.42)"><use href="#b5" stroke="#b87aa4" stroke-width="0.35"/><use href="#r5" stroke="#b06a98" stroke-width="0.80"/><use href="#r5" stroke="#eaaad2" stroke-width="0.60"/></g><g transform="translate(53.5,48.4) rotate(92) scale(3.30)"><use href="#b3" stroke="#b87aa4" stroke-width="0.35"/><use href="#r3" stroke="#a8608e" stroke-width="0.80"/><use href="#r3" stroke="#d680b8" stroke-width="0.60"/></g><g transform="translate(63.2,52.8) rotate(90) scale(2.94)"><use href="#b3" stroke="#c89ab8" stroke-width="0.35"/><use href="#r3" stroke="#b06a98" stroke-width="0.80"/><use href="#r3" stroke="#e59dca" stroke-width="0.60"/></g><path d="M59.8,61.7 63.1,61.9 64.8,64.7 68.0,65.1" stroke="#a8608e" stroke-width="0.7" fill="none" stroke-linejoin="round"/><path d="M69.6,75.8 70.5,78.8 71.4,81.9 70.6,85.0" stroke="#b06a98" stroke-width="0.7" fill="none" stroke-linejoin="round"/><g transform="translate(62.7,67.5) rotate(89) scale(2.88)"><use href="#b4" stroke="#b87aa4" stroke-width="0.35"/><use href="#r4" stroke="#a8608e" stroke-width="0.80"/><use href="#r4" stroke="#de8ec2" stroke-width="0.60"/></g><g transform="translate(73.4,39.5) rotate(178) scale(2.65)"><use href="#b2" stroke="#c89ab8" stroke-width="0.35"/><use href="#r2" stroke="#b06a98" stroke-width="0.80"/><use href="#r2" stroke="#d680b8" stroke-width="0.60"/></g><g transform="translate(55.7,28.2) rotate(96) scale(2.68)"><use href="#b3" stroke="#b87aa4" stroke-width="0.35"/><use href="#r3" stroke="#b06a98" stroke-width="0.80"/><use href="#r3" stroke="#de8ec2" stroke-width="0.60"/></g><g transform="translate(64.8,55.7) rotate(102) scale(2.94)"><use href="#b5" stroke="#b87aa4" stroke-width="0.35"/><use href="#r5" stroke="#b06a98" stroke-width="0.80"/><use href="#r5" stroke="#e59dca" stroke-width="0.60"/></g><path d="M51.4,27.0 49.6,25.6 47.6,26.7 45.4,27.3" stroke="#a8608e" stroke-width="0.7" fill="none" stroke-linejoin="round"/><g transform="translate(65.9,51.6) rotate(104) scale(3.43)"><use href="#b5" stroke="#c89ab8" stroke-width="0.35"/><use href="#r5" stroke="#b06a98" stroke-width="0.80"/><use href="#r5" stroke="#de8ec2" stroke-width="0.60"/></g><g transform="translate(70.4,63.7) rotate(1) scale(2.76)"><use href="#b4" stroke="#c89ab8" stroke-width="0.35"/><use href="#r4" stroke="#a8608e" stroke-width="0.80"/><use href="#r4" stroke="#eaaad2" stroke-width="0.60"/></g><path d="M56.3,49.1 55.6,51.8 57.7,53.7 57.5,56.5 59.8,58.2 62.2,56.7 63.9,54.4" stroke="#a8608e" stroke-width="0.7" fill="none" stroke-linejoin="round"/><g transform="translate(50.4,56.1) rotate(106) scale(3.55)"><use href="#b2" stroke="#c89ab8" stroke-width="0.35"/><use href="#r2" stroke="#b06a98" stroke-width="0.80"/><use href="#r2" stroke="#eaaad2" stroke-width="0.60"/></g><g transform="translate(75.3,78.9) rotate(107) scale(3.33)"><use href="#b3" stroke="#c89ab8" stroke-width="0.35"/><use href="#r3" stroke="#a8608e" stroke-width="0.80"/><use href="#r3" stroke="#e59dca" stroke-width="0.60"/></g><g transform="translate(39.8,68.1) rotate(81) scale(2.92)"><use href="#b5" stroke="#c89ab8" stroke-width="0.35"/><use href="#r5" stroke="#b06a98" stroke-width="0.80"/><use href="#r5" stroke="#de8ec2" stroke-width="0.60"/></g><path d="M53.0,47.7 52.3,50.1 51.4,52.4 49.4,53.9 47.2,55.1 44.8,55.8" stroke="#a8608e" stroke-width="0.7" fill="none" stroke-linejoin="round"/><g transform="translate(73.5,65.4) rotate(100) scale(2.71)"><use href="#b4" stroke="#b87aa4" stroke-width="0.35"/><use href="#r4" stroke="#b06a98" stroke-width="0.80"/><use href="#r4" stroke="#d680b8" stroke-width="0.60"/></g><g transform="translate(45.5,24.4) rotate(85) scale(3.42)"><use href="#b5" stroke="#c89ab8" stroke-width="0.35"/><use href="#r5" stroke="#a8608e" stroke-width="0.80"/><use href="#r5" stroke="#eaaad2" stroke-width="0.60"/></g><g transform="translate(67.4,33.9) rotate(102) scale(2.98)"><use href="#b3" stroke="#b87aa4" stroke-width="0.35"/><use href="#r3" stroke="#b06a98" stroke-width="0.80"/><use href="#r3" stroke="#d680b8" stroke-width="0.60"/></g><path d="M71.6,42.3 73.0,44.1 71.9,46.2 71.9,48.4 73.9,49.5 76.1,50.1" stroke="#b06a98" stroke-width="0.7" fill="none" stroke-linejoin="round"/><path d="M67.6,76.0 68.5,78.0 68.3,80.2 69.4,82.2 71.5,82.9" stroke="#a8608e" stroke-width="0.7" fill="none" stroke-linejoin="round"/><g transform="translate(50.0,75.0) rotate(108) scale(3.44)"><use href="#b5" stroke="#b87aa4" stroke-width="0.35"/><use href="#r5" stroke="#b06a98" stroke-width="0.80"/><use href="#r5" stroke="#e59dca" stroke-width="0.60"/></g><g transform="translate(59.2,64.3) rotate(98) scale(2.74)"><use href="#b5" stroke="#b87aa4" stroke-width="0.35"/><use href="#r5" stroke="#b06a98" stroke-width="0.80"/><use href="#r5" stroke="#de8ec2" stroke-width="0.60"/></g><g transform="translate(38.1,57.8) rotate(74) scale(2.95)"><use href="#b2" stroke="#b87aa4" stroke-width="0.35"/><use href="#r2" stroke="#a8608e" stroke-width="0.80"/><use href="#r2" stroke="#de8ec2" stroke-width="0.60"/></g><g transform="translate(41.1,29.5) rotate(93) scale(2.99)"><use href="#b2" stroke="#c89ab8" stroke-width="0.35"/><use href="#r2" stroke="#b06a98" stroke-width="0.80"/><use href="#r2" stroke="#d680b8" stroke-width="0.60"/></g><g transform="translate(65.6,23.6) rotate(102) scale(2.89)"><use href="#b5" stroke="#c89ab8" stroke-width="0.35"/><use href="#r5" stroke="#a8608e" stroke-width="0.80"/><use href="#r5" stroke="#d680b8" stroke-width="0.60"/></g><g transform="translate(53.4,75.8) rotate(54) scale(3.26)"><use href="#b5" stroke="#b87aa4" stroke-width="0.35"/><use href="#r5" stroke="#b06a98" stroke-width="0.80"/><use href="#r5" stroke="#d680b8" stroke-width="0.60"/></g><g transform="translate(59.5,48.3) rotate(49) scale(3.28)"><use href="#b4" stroke="#c89ab8" stroke-width="0.35"/><use href="#r4" stroke="#b06a98" stroke-width="0.80"/><use href="#r4" stroke="#d680b8" stroke-width="0.60"/></g><g transform="translate(41.9,69.2) rotate(20) scale(3.12)"><use href="#b3" stroke="#b87aa4" stroke-width="0.35"/><use href="#r3" stroke="#a8608e" stroke-width="0.80"/><use href="#r3" stroke="#eaaad2" stroke-width="0.60"/></g><g transform="translate(74.7,50.4) rotate(96) scale(3.38)"><use href="#b3" stroke="#c89ab8" stroke-width="0.35"/><use href="#r3" stroke="#a8608e" stroke-width="0.80"/><use href="#r3" stroke="#de8ec2" stroke-width="0.60"/></g><g transform="translate(66.0,39.4) rotate(74) scale(3.26)"><use href="#b5" stroke="#b87aa4" stroke-width="0.35"/><use href="#r5" stroke="#a8608e" stroke-width="0.80"/><use href="#r5" stroke="#de8ec2" stroke-width="0.60"/></g><path d="M69.6,54.9 66.7,54.8 65.0,57.1 65.6,59.9 66.3,62.7" stroke="#a8608e" stroke-width="0.7" fill="none" stroke-linejoin="round"/><g transform="translate(38.9,43.8) rotate(56) scale(3.43)"><use href="#b4" stroke="#b87aa4" stroke-width="0.35"/><use href="#r4" stroke="#b06a98" stroke-width="0.80"/><use href="#r4" stroke="#eaaad2" stroke-width="0.60"/></g><path d="M49.7,44.2 47.5,46.6 44.3,46.3 42.8,43.4 39.6,43.3 36.3,43.6" stroke="#a8608e" stroke-width="0.7" fill="none" stroke-linejoin="round"/><path d="M70.0,78.3 66.9,79.8 63.5,79.1 60.3,80.3 57.2,78.6 57.2,75.2 60.2,73.4" stroke="#b06a98" stroke-width="0.7" fill="none" stroke-linejoin="round"/><path d="M43.9,58.0 42.0,60.9 40.1,63.7 38.3,66.6 35.4,68.5 32.6,70.5" stroke="#b06a98" stroke-width="0.7" fill="none" stroke-linejoin="round"/><g transform="translate(48.1,54.8) rotate(105) scale(3.29)"><use href="#b3" stroke="#c89ab8" stroke-width="0.35"/><use href="#r3" stroke="#b06a98" stroke-width="0.80"/><use href="#r3" stroke="#eaaad2" stroke-width="0.60"/></g>
<path d="M56,16 L59,13.5 L56.5,11.5 L60,9.5 L57.5,7.5 L61.5,6 L63.5,8.5 L66,5.5 L68,7" stroke="#b04888" stroke-width="0.9" fill="none"/>
<path d="M82,18 L79.5,15 L83,13 L80,10.5 L84,9 L81.5,6 L86,6.5" stroke="#4a6ab4" stroke-width="0.9" fill="none"/>
<g opacity="0.75"><g transform="translate(57.9,66.3) rotate(177) scale(3.11)"><use href="#b3" stroke="#9aaa96" stroke-width="0.35"/><use href="#r3" stroke="#7a9a72" stroke-width="0.75"/><use href="#r3" stroke="#b8d4b0" stroke-width="0.60"/></g><g transform="translate(40.8,68.5) rotate(0) scale(3.09)"><use href="#b3" stroke="#9aaa96" stroke-width="0.35"/><use href="#r3" stroke="#7a9a72" stroke-width="0.75"/><use href="#r3" stroke="#b8d4b0" stroke-width="0.60"/></g><g transform="translate(46.8,64.5) rotate(113) scale(2.85)"><use href="#b3" stroke="#9aaa96" stroke-width="0.35"/><use href="#r3" stroke="#7a9a72" stroke-width="0.75"/><use href="#r3" stroke="#b8d4b0" stroke-width="0.60"/></g><g transform="translate(40.0,61.0) rotate(124) scale(2.85)"><use href="#b3" stroke="#9aaa96" stroke-width="0.35"/><use href="#r3" stroke="#7a9a72" stroke-width="0.75"/><use href="#r3" stroke="#b8d4b0" stroke-width="0.60"/></g><g transform="translate(57.9,57.7) rotate(43) scale(2.63)"><use href="#b3" stroke="#9aaa96" stroke-width="0.35"/><use href="#r3" stroke="#7a9a72" stroke-width="0.75"/><use href="#r3" stroke="#b8d4b0" stroke-width="0.60"/></g><g transform="translate(54.3,71.4) rotate(11) scale(2.54)"><use href="#b2" stroke="#9aaa96" stroke-width="0.35"/><use href="#r2" stroke="#7a9a72" stroke-width="0.75"/><use href="#r2" stroke="#a8c8a0" stroke-width="0.60"/></g><g transform="translate(50.5,62.6) rotate(33) scale(2.60)"><use href="#b2" stroke="#9aaa96" stroke-width="0.35"/><use href="#r2" stroke="#7a9a72" stroke-width="0.75"/><use href="#r2" stroke="#b8d4b0" stroke-width="0.60"/></g><g transform="translate(50.7,56.4) rotate(98) scale(2.75)"><use href="#b2" stroke="#9aaa96" stroke-width="0.35"/><use href="#r2" stroke="#7a9a72" stroke-width="0.75"/><use href="#r2" stroke="#b8d4b0" stroke-width="0.60"/></g><g transform="translate(49.4,68.1) rotate(87) scale(2.98)"><use href="#b2" stroke="#9aaa96" stroke-width="0.35"/><use href="#r2" stroke="#7a9a72" stroke-width="0.75"/><use href="#r2" stroke="#b8d4b0" stroke-width="0.60"/></g></g>
<path d="M45.6,73.2 C44.3,67.6 47.2,66.6 49.3,71.3M49.7,72.1 C48.5,66.5 51.3,65.5 53.5,70.2M53.9,71.0 C52.6,65.4 55.5,64.4 57.6,69.1M58.1,69.9 C56.8,64.3 59.6,63.3 61.8,68.0" stroke="#1f3f98" stroke-width="2.9" fill="none" stroke-linecap="butt"/><path d="M45.6,73.2 C44.3,67.6 47.2,66.6 49.3,71.3M49.7,72.1 C48.5,66.5 51.3,65.5 53.5,70.2M53.9,71.0 C52.6,65.4 55.5,64.4 57.6,69.1M58.1,69.9 C56.8,64.3 59.6,63.3 61.8,68.0" stroke="#3f6ad8" stroke-width="1.7" fill="none" stroke-linecap="butt"/>
<path d="M30.6,88.5 C29.3,82.2 32.4,81.2 34.6,86.5M35.1,87.5 C33.8,81.1 36.9,80.1 39.1,85.5M39.6,86.4 C38.3,80.1 41.4,79.1 43.6,84.4M44.0,85.4 C42.8,79.0 45.8,78.0 48.0,83.4M48.5,84.3 C47.2,78.0 50.3,77.0 52.5,82.3M53.0,83.3 C51.7,76.9 54.8,75.9 57.0,81.3M57.5,82.2 C56.2,75.9 59.3,74.9 61.5,80.2" stroke="#2a9a98" stroke-width="3.0" fill="none" stroke-linecap="butt"/><path d="M30.6,88.5 C29.3,82.2 32.4,81.2 34.6,86.5M35.1,87.5 C33.8,81.1 36.9,80.1 39.1,85.5M39.6,86.4 C38.3,80.1 41.4,79.1 43.6,84.4M44.0,85.4 C42.8,79.0 45.8,78.0 48.0,83.4M48.5,84.3 C47.2,78.0 50.3,77.0 52.5,82.3M53.0,83.3 C51.7,76.9 54.8,75.9 57.0,81.3M57.5,82.2 C56.2,75.9 59.3,74.9 61.5,80.2" stroke="#5ee2da" stroke-width="1.8" fill="none" stroke-linecap="butt"/>
<line x1="22.6" y1="61.7" x2="33.6" y2="63.9" stroke="#f0341e" stroke-width="2.0"/><path d="M39.5,65 L33.0,67.0 L34.2,60.7 Z" fill="#f0341e"/>
<line x1="69.7" y1="83.9" x2="62.0" y2="75.2" stroke="#f0341e" stroke-width="2.0"/><path d="M58,70.7 L64.4,73.1 L59.6,77.3 Z" fill="#f0341e"/>
<line x1="62.1" y1="99.9" x2="54.9" y2="92.1" stroke="#f0341e" stroke-width="2.0"/><path d="M50.8,87.7 L57.2,89.9 L52.5,94.3 Z" fill="#f0341e"/>
<text x="12.3" y="67.9" font-size="11" font-weight="bold" fill="#5b8a3a">HP<tspan font-size="6" dy="1.5">in</tspan></text>
<text x="67" y="93.7" font-size="10.8" font-weight="bold" fill="#3a5ba6">H4c</text>
<text x="56.2" y="108.4" font-size="10.8" font-weight="bold" fill="#3fe3d2">H6b</text>
<line x1="0" y1="117.6" x2="147" y2="117.6" stroke="#e6e6e6" stroke-width="0.8"/>
<path d="M86,124 L100,121 L115,122 L128,127 L137,135 L142,150 L145,170 L146,190 L143,207 L132,214 L115,212 L100,208 L84,203 L78,192 L76,175 L72,150 L72,138 L78,128 Z" fill="#eef1f8" opacity="0.8"/><g transform="translate(119.3,147.5) rotate(35) scale(5.25)"><use href="#b5" stroke="#8898bb" stroke-width="0.35"/><use href="#r5" stroke="#46629e" stroke-width="0.75"/><use href="#r5" stroke="#8aaeee" stroke-width="0.60"/></g><g transform="translate(120.4,171.8) rotate(77) scale(4.42)"><use href="#b3" stroke="#98a8c8" stroke-width="0.35"/><use href="#r3" stroke="#46629e" stroke-width="0.75"/><use href="#r3" stroke="#7aa0e6" stroke-width="0.60"/></g><path d="M79.1,136.1 81.1,138.8 79.4,141.6 80.3,144.8" stroke="#46629e" stroke-width="0.7" fill="none" stroke-linejoin="round"/><g transform="translate(116.0,139.9) rotate(34) scale(4.56)"><use href="#b4" stroke="#8898bb" stroke-width="0.35"/><use href="#r4" stroke="#3b5793" stroke-width="0.75"/><use href="#r4" stroke="#7aa0e6" stroke-width="0.60"/></g><g transform="translate(118.8,163.5) rotate(88) scale(4.68)"><use href="#b2" stroke="#98a8c8" stroke-width="0.35"/><use href="#r2" stroke="#3b5793" stroke-width="0.75"/><use href="#r2" stroke="#8aaeee" stroke-width="0.60"/></g><g transform="translate(142.4,163.2) rotate(82) scale(4.63)"><use href="#b3" stroke="#98a8c8" stroke-width="0.35"/><use href="#r3" stroke="#3b5793" stroke-width="0.75"/><use href="#r3" stroke="#7aa0e6" stroke-width="0.60"/></g><g transform="translate(114.4,182.0) rotate(66) scale(4.69)"><use href="#b4" stroke="#8898bb" stroke-width="0.35"/><use href="#r4" stroke="#46629e" stroke-width="0.75"/><use href="#r4" stroke="#6a94e0" stroke-width="0.60"/></g><g transform="translate(110.0,148.2) rotate(73) scale(4.71)"><use href="#b2" stroke="#98a8c8" stroke-width="0.35"/><use href="#r2" stroke="#46629e" stroke-width="0.75"/><use href="#r2" stroke="#5c88d8" stroke-width="0.60"/></g><g transform="translate(90.0,182.0) rotate(72) scale(4.11)"><use href="#b5" stroke="#98a8c8" stroke-width="0.35"/><use href="#r5" stroke="#3b5793" stroke-width="0.75"/><use href="#r5" stroke="#7aa0e6" stroke-width="0.60"/></g><g transform="translate(109.8,166.1) rotate(104) scale(4.22)"><use href="#b4" stroke="#98a8c8" stroke-width="0.35"/><use href="#r4" stroke="#3b5793" stroke-width="0.75"/><use href="#r4" stroke="#8aaeee" stroke-width="0.60"/></g><path d="M139.8,159.5 142.5,157.6 145.8,158.3 146.5,161.6" stroke="#3b5793" stroke-width="0.7" fill="none" stroke-linejoin="round"/><g transform="translate(128.2,178.8) rotate(67) scale(3.92)"><use href="#b2" stroke="#98a8c8" stroke-width="0.35"/><use href="#r2" stroke="#3b5793" stroke-width="0.75"/><use href="#r2" stroke="#5c88d8" stroke-width="0.60"/></g><g transform="translate(104.9,134.2) rotate(96) scale(4.67)"><use href="#b4" stroke="#8898bb" stroke-width="0.35"/><use href="#r4" stroke="#3b5793" stroke-width="0.75"/><use href="#r4" stroke="#6a94e0" stroke-width="0.60"/></g><path d="M122.6,178.9 121.6,181.8 120.3,184.5 117.5,185.7 116.4,188.5 114.4,190.8" stroke="#46629e" stroke-width="0.7" fill="none" stroke-linejoin="round"/><g transform="translate(124.7,198.9) rotate(84) scale(4.67)"><use href="#b5" stroke="#8898bb" stroke-width="0.35"/><use href="#r5" stroke="#3b5793" stroke-width="0.75"/><use href="#r5" stroke="#6a94e0" stroke-width="0.60"/></g><g transform="translate(93.1,156.8) rotate(93) scale(5.21)"><use href="#b2" stroke="#8898bb" stroke-width="0.35"/><use href="#r2" stroke="#46629e" stroke-width="0.75"/><use href="#r2" stroke="#5c88d8" stroke-width="0.60"/></g><g transform="translate(112.0,125.4) rotate(94) scale(4.31)"><use href="#b2" stroke="#98a8c8" stroke-width="0.35"/><use href="#r2" stroke="#3b5793" stroke-width="0.75"/><use href="#r2" stroke="#5c88d8" stroke-width="0.60"/></g><g transform="translate(105.5,127.1) rotate(88) scale(4.87)"><use href="#b4" stroke="#8898bb" stroke-width="0.35"/><use href="#r4" stroke="#46629e" stroke-width="0.75"/><use href="#r4" stroke="#6a94e0" stroke-width="0.60"/></g><path d="M115.9,144.1 117.6,141.9 119.8,140.1 122.6,139.9" stroke="#46629e" stroke-width="0.7" fill="none" stroke-linejoin="round"/><g transform="translate(100.8,177.7) rotate(140) scale(5.07)"><use href="#b5" stroke="#98a8c8" stroke-width="0.35"/><use href="#r5" stroke="#46629e" stroke-width="0.75"/><use href="#r5" stroke="#5c88d8" stroke-width="0.60"/></g><path d="M120.3,174.9 121.6,171.9 123.1,169.1 125.7,167.3 126.4,164.1 129.3,162.8 132.4,163.4" stroke="#3b5793" stroke-width="0.7" fill="none" stroke-linejoin="round"/><g transform="translate(74.6,159.5) rotate(97) scale(4.10)"><use href="#b5" stroke="#8898bb" stroke-width="0.35"/><use href="#r5" stroke="#3b5793" stroke-width="0.75"/><use href="#r5" stroke="#6a94e0" stroke-width="0.60"/></g><g transform="translate(118.9,157.5) rotate(79) scale(4.99)"><use href="#b4" stroke="#98a8c8" stroke-width="0.35"/><use href="#r4" stroke="#46629e" stroke-width="0.75"/><use href="#r4" stroke="#5c88d8" stroke-width="0.60"/></g><path d="M136.6,190.8 137.1,193.7 137.4,196.5 138.9,199.0" stroke="#3b5793" stroke-width="0.7" fill="none" stroke-linejoin="round"/><g transform="translate(85.0,125.2) rotate(78) scale(4.96)"><use href="#b5" stroke="#98a8c8" stroke-width="0.35"/><use href="#r5" stroke="#3b5793" stroke-width="0.75"/><use href="#r5" stroke="#6a94e0" stroke-width="0.60"/></g><g transform="translate(128.9,141.4) rotate(67) scale(4.18)"><use href="#b5" stroke="#8898bb" stroke-width="0.35"/><use href="#r5" stroke="#3b5793" stroke-width="0.75"/><use href="#r5" stroke="#6a94e0" stroke-width="0.60"/></g><g transform="translate(75.7,138.9) rotate(113) scale(4.79)"><use href="#b5" stroke="#8898bb" stroke-width="0.35"/><use href="#r5" stroke="#46629e" stroke-width="0.75"/><use href="#r5" stroke="#5c88d8" stroke-width="0.60"/></g><g transform="translate(142.7,185.4) rotate(96) scale(3.92)"><use href="#b3" stroke="#8898bb" stroke-width="0.35"/><use href="#r3" stroke="#46629e" stroke-width="0.75"/><use href="#r3" stroke="#5c88d8" stroke-width="0.60"/></g><path d="M100.6,188.7 97.9,186.7 95.1,184.8 92.0,183.4 89.3,185.4" stroke="#46629e" stroke-width="0.7" fill="none" stroke-linejoin="round"/><g transform="translate(88.0,154.9) rotate(71) scale(4.48)"><use href="#b2" stroke="#98a8c8" stroke-width="0.35"/><use href="#r2" stroke="#46629e" stroke-width="0.75"/><use href="#r2" stroke="#6a94e0" stroke-width="0.60"/></g><g transform="translate(92.5,144.0) rotate(83) scale(4.29)"><use href="#b2" stroke="#8898bb" stroke-width="0.35"/><use href="#r2" stroke="#3b5793" stroke-width="0.75"/><use href="#r2" stroke="#7aa0e6" stroke-width="0.60"/></g><path d="M103.2,168.5 100.6,170.8 97.2,170.9 94.9,168.3 91.4,168.8 89.7,165.8" stroke="#46629e" stroke-width="0.7" fill="none" stroke-linejoin="round"/><g transform="translate(88.7,190.9) rotate(101) scale(4.23)"><use href="#b3" stroke="#8898bb" stroke-width="0.35"/><use href="#r3" stroke="#3b5793" stroke-width="0.75"/><use href="#r3" stroke="#5c88d8" stroke-width="0.60"/></g><g transform="translate(90.6,197.9) rotate(81) scale(4.61)"><use href="#b4" stroke="#98a8c8" stroke-width="0.35"/><use href="#r4" stroke="#46629e" stroke-width="0.75"/><use href="#r4" stroke="#8aaeee" stroke-width="0.60"/></g><g transform="translate(127.1,175.7) rotate(143) scale(4.37)"><use href="#b4" stroke="#8898bb" stroke-width="0.35"/><use href="#r4" stroke="#3b5793" stroke-width="0.75"/><use href="#r4" stroke="#8aaeee" stroke-width="0.60"/></g><g transform="translate(130.4,202.0) rotate(101) scale(4.70)"><use href="#b5" stroke="#8898bb" stroke-width="0.35"/><use href="#r5" stroke="#3b5793" stroke-width="0.75"/><use href="#r5" stroke="#6a94e0" stroke-width="0.60"/></g><path d="M91.0,203.7 89.3,201.6 90.1,199.0 88.8,196.7 89.6,194.2 89.0,191.6 86.5,190.8" stroke="#3b5793" stroke-width="0.7" fill="none" stroke-linejoin="round"/><g transform="translate(78.9,182.3) rotate(115) scale(4.85)"><use href="#b4" stroke="#8898bb" stroke-width="0.35"/><use href="#r4" stroke="#46629e" stroke-width="0.75"/><use href="#r4" stroke="#8aaeee" stroke-width="0.60"/></g><g transform="translate(141.1,169.5) rotate(47) scale(4.31)"><use href="#b3" stroke="#98a8c8" stroke-width="0.35"/><use href="#r3" stroke="#46629e" stroke-width="0.75"/><use href="#r3" stroke="#6a94e0" stroke-width="0.60"/></g><path d="M138.6,189.8 140.9,192.0 140.5,195.2 143.1,197.1 146.0,198.5" stroke="#46629e" stroke-width="0.7" fill="none" stroke-linejoin="round"/><g transform="translate(91.0,171.3) rotate(82) scale(5.22)"><use href="#b2" stroke="#8898bb" stroke-width="0.35"/><use href="#r2" stroke="#3b5793" stroke-width="0.75"/><use href="#r2" stroke="#6a94e0" stroke-width="0.60"/></g><path d="M79.9,127.9 78.7,126.2 76.7,126.1 74.7,125.8 72.6,125.6 70.9,126.8" stroke="#3b5793" stroke-width="0.7" fill="none" stroke-linejoin="round"/><path d="M94.0,168.9 92.8,166.9 91.7,165.0 89.5,164.7 87.8,163.2" stroke="#46629e" stroke-width="0.7" fill="none" stroke-linejoin="round"/><path d="M93.7,155.6 95.9,155.1 97.5,156.7 99.2,158.2 99.5,160.4 97.8,161.9" stroke="#46629e" stroke-width="0.7" fill="none" stroke-linejoin="round"/><path d="M116.5,199.7 115.3,201.9 113.5,203.7 112.3,205.8 113.7,207.9 115.8,209.3" stroke="#3b5793" stroke-width="0.7" fill="none" stroke-linejoin="round"/><g transform="translate(103.4,142.4) rotate(174) scale(4.12)"><use href="#b3" stroke="#98a8c8" stroke-width="0.35"/><use href="#r3" stroke="#46629e" stroke-width="0.75"/><use href="#r3" stroke="#6a94e0" stroke-width="0.60"/></g><g transform="translate(135.1,192.5) rotate(161) scale(4.45)"><use href="#b5" stroke="#98a8c8" stroke-width="0.35"/><use href="#r5" stroke="#3b5793" stroke-width="0.75"/><use href="#r5" stroke="#6a94e0" stroke-width="0.60"/></g><g transform="translate(123.5,212.7) rotate(96) scale(4.21)"><use href="#b5" stroke="#8898bb" stroke-width="0.35"/><use href="#r5" stroke="#46629e" stroke-width="0.75"/><use href="#r5" stroke="#6a94e0" stroke-width="0.60"/></g><path d="M112.3,174.5 114.3,172.4 116.9,171.2 119.3,172.8 120.9,175.2" stroke="#3b5793" stroke-width="0.7" fill="none" stroke-linejoin="round"/><g transform="translate(102.5,197.8) rotate(96) scale(4.08)"><use href="#b2" stroke="#98a8c8" stroke-width="0.35"/><use href="#r2" stroke="#46629e" stroke-width="0.75"/><use href="#r2" stroke="#8aaeee" stroke-width="0.60"/></g><g transform="translate(142.4,179.9) rotate(109) scale(4.68)"><use href="#b4" stroke="#98a8c8" stroke-width="0.35"/><use href="#r4" stroke="#3b5793" stroke-width="0.75"/><use href="#r4" stroke="#6a94e0" stroke-width="0.60"/></g><path d="M119.5,135.6 122.1,137.3 121.9,140.4 124.6,141.9 126.3,144.6 129.3,144.0" stroke="#3b5793" stroke-width="0.7" fill="none" stroke-linejoin="round"/><g transform="translate(90.8,148.0) rotate(85) scale(4.79)"><use href="#b3" stroke="#98a8c8" stroke-width="0.35"/><use href="#r3" stroke="#46629e" stroke-width="0.75"/><use href="#r3" stroke="#8aaeee" stroke-width="0.60"/></g><path d="M117.3,165.7 119.6,167.4 122.1,168.9 125.0,168.7 126.6,171.1 129.5,170.5 132.4,170.5" stroke="#46629e" stroke-width="0.7" fill="none" stroke-linejoin="round"/><path d="M80.9,148.6 84.0,150.3 87.4,151.2 90.7,150.1 94.0,151.0 97.5,151.0 99.0,147.9" stroke="#46629e" stroke-width="0.7" fill="none" stroke-linejoin="round"/><path d="M90.9,153.1 88.2,152.3 85.5,152.1 83.1,153.5 80.3,153.4" stroke="#46629e" stroke-width="0.7" fill="none" stroke-linejoin="round"/><path d="M111.7,134.7 113.3,136.3 113.6,138.6 111.9,140.1 109.7,139.7 107.8,138.4" stroke="#3b5793" stroke-width="0.7" fill="none" stroke-linejoin="round"/><g transform="translate(135.9,136.1) rotate(143) scale(4.18)"><use href="#b3" stroke="#98a8c8" stroke-width="0.35"/><use href="#r3" stroke="#46629e" stroke-width="0.75"/><use href="#r3" stroke="#8aaeee" stroke-width="0.60"/></g><g transform="translate(123.0,201.5) rotate(21) scale(4.17)"><use href="#b5" stroke="#8898bb" stroke-width="0.35"/><use href="#r5" stroke="#46629e" stroke-width="0.75"/><use href="#r5" stroke="#7aa0e6" stroke-width="0.60"/></g><g transform="translate(105.1,172.1) rotate(52) scale(4.21)"><use href="#b3" stroke="#8898bb" stroke-width="0.35"/><use href="#r3" stroke="#3b5793" stroke-width="0.75"/><use href="#r3" stroke="#7aa0e6" stroke-width="0.60"/></g><g transform="translate(110.1,191.1) rotate(80) scale(4.03)"><use href="#b4" stroke="#98a8c8" stroke-width="0.35"/><use href="#r4" stroke="#46629e" stroke-width="0.75"/><use href="#r4" stroke="#6a94e0" stroke-width="0.60"/></g><g transform="translate(110.3,178.1) rotate(107) scale(5.24)"><use href="#b3" stroke="#98a8c8" stroke-width="0.35"/><use href="#r3" stroke="#3b5793" stroke-width="0.75"/><use href="#r3" stroke="#6a94e0" stroke-width="0.60"/></g><g transform="translate(79.4,166.5) rotate(83) scale(4.09)"><use href="#b5" stroke="#8898bb" stroke-width="0.35"/><use href="#r5" stroke="#46629e" stroke-width="0.75"/><use href="#r5" stroke="#6a94e0" stroke-width="0.60"/></g><g transform="translate(79.3,150.3) rotate(107) scale(5.07)"><use href="#b4" stroke="#98a8c8" stroke-width="0.35"/><use href="#r4" stroke="#3b5793" stroke-width="0.75"/><use href="#r4" stroke="#5c88d8" stroke-width="0.60"/></g><path d="M129.6,205.4 127.7,207.1 127.6,209.7 125.4,211.1" stroke="#3b5793" stroke-width="0.7" fill="none" stroke-linejoin="round"/><g transform="translate(106.4,206.5) rotate(114) scale(4.83)"><use href="#b3" stroke="#98a8c8" stroke-width="0.35"/><use href="#r3" stroke="#46629e" stroke-width="0.75"/><use href="#r3" stroke="#7aa0e6" stroke-width="0.60"/></g><g transform="translate(137.3,207.0) rotate(110) scale(4.70)"><use href="#b5" stroke="#98a8c8" stroke-width="0.35"/><use href="#r5" stroke="#3b5793" stroke-width="0.75"/><use href="#r5" stroke="#6a94e0" stroke-width="0.60"/></g><g transform="translate(138.2,161.3) rotate(77) scale(4.27)"><use href="#b5" stroke="#8898bb" stroke-width="0.35"/><use href="#r5" stroke="#46629e" stroke-width="0.75"/><use href="#r5" stroke="#8aaeee" stroke-width="0.60"/></g><g transform="translate(121.8,141.5) rotate(83) scale(4.64)"><use href="#b2" stroke="#8898bb" stroke-width="0.35"/><use href="#r2" stroke="#46629e" stroke-width="0.75"/><use href="#r2" stroke="#6a94e0" stroke-width="0.60"/></g><g transform="translate(120.7,125.2) rotate(113) scale(4.21)"><use href="#b5" stroke="#98a8c8" stroke-width="0.35"/><use href="#r5" stroke="#46629e" stroke-width="0.75"/><use href="#r5" stroke="#5c88d8" stroke-width="0.60"/></g><g transform="translate(100.2,148.1) rotate(82) scale(4.18)"><use href="#b2" stroke="#98a8c8" stroke-width="0.35"/><use href="#r2" stroke="#46629e" stroke-width="0.75"/><use href="#r2" stroke="#6a94e0" stroke-width="0.60"/></g><g transform="translate(98.4,166.0) rotate(83) scale(5.15)"><use href="#b2" stroke="#98a8c8" stroke-width="0.35"/><use href="#r2" stroke="#3b5793" stroke-width="0.75"/><use href="#r2" stroke="#6a94e0" stroke-width="0.60"/></g><g transform="translate(76.1,175.1) rotate(91) scale(4.16)"><use href="#b2" stroke="#98a8c8" stroke-width="0.35"/><use href="#r2" stroke="#3b5793" stroke-width="0.75"/><use href="#r2" stroke="#5c88d8" stroke-width="0.60"/></g><g transform="translate(130.4,188.1) rotate(114) scale(4.61)"><use href="#b4" stroke="#8898bb" stroke-width="0.35"/><use href="#r4" stroke="#46629e" stroke-width="0.75"/><use href="#r4" stroke="#7aa0e6" stroke-width="0.60"/></g><path d="M99.0,131.6 96.6,131.7 95.2,129.8 92.9,129.9 90.6,129.2 89.4,127.2" stroke="#46629e" stroke-width="0.7" fill="none" stroke-linejoin="round"/><g transform="translate(129.0,159.8) rotate(33) scale(4.88)"><use href="#b2" stroke="#98a8c8" stroke-width="0.35"/><use href="#r2" stroke="#46629e" stroke-width="0.75"/><use href="#r2" stroke="#8aaeee" stroke-width="0.60"/></g><path d="M126.2,179.4 124.3,176.5 122.1,173.9 122.5,170.6" stroke="#3b5793" stroke-width="0.7" fill="none" stroke-linejoin="round"/><g transform="translate(95.3,203.6) rotate(78) scale(4.76)"><use href="#b5" stroke="#98a8c8" stroke-width="0.35"/><use href="#r5" stroke="#3b5793" stroke-width="0.75"/><use href="#r5" stroke="#6a94e0" stroke-width="0.60"/></g><g transform="translate(134.1,181.9) rotate(82) scale(3.97)"><use href="#b3" stroke="#8898bb" stroke-width="0.35"/><use href="#r3" stroke="#46629e" stroke-width="0.75"/><use href="#r3" stroke="#5c88d8" stroke-width="0.60"/></g><g transform="translate(101.8,136.5) rotate(97) scale(4.42)"><use href="#b2" stroke="#98a8c8" stroke-width="0.35"/><use href="#r2" stroke="#46629e" stroke-width="0.75"/><use href="#r2" stroke="#5c88d8" stroke-width="0.60"/></g><g transform="translate(92.6,127.4) rotate(108) scale(4.45)"><use href="#b5" stroke="#8898bb" stroke-width="0.35"/><use href="#r5" stroke="#3b5793" stroke-width="0.75"/><use href="#r5" stroke="#7aa0e6" stroke-width="0.60"/></g><g transform="translate(132.2,151.7) rotate(74) scale(4.28)"><use href="#b4" stroke="#8898bb" stroke-width="0.35"/><use href="#r4" stroke="#46629e" stroke-width="0.75"/><use href="#r4" stroke="#8aaeee" stroke-width="0.60"/></g><g transform="translate(123.6,147.7) rotate(39) scale(4.85)"><use href="#b2" stroke="#98a8c8" stroke-width="0.35"/><use href="#r2" stroke="#46629e" stroke-width="0.75"/><use href="#r2" stroke="#8aaeee" stroke-width="0.60"/></g><path d="M83.4,190.8 81.8,188.0 83.5,185.3 86.8,184.9" stroke="#46629e" stroke-width="0.7" fill="none" stroke-linejoin="round"/><g transform="translate(101.3,187.6) rotate(95) scale(4.55)"><use href="#b4" stroke="#98a8c8" stroke-width="0.35"/><use href="#r4" stroke="#3b5793" stroke-width="0.75"/><use href="#r4" stroke="#6a94e0" stroke-width="0.60"/></g><g transform="translate(111.7,154.0) rotate(83) scale(4.70)"><use href="#b2" stroke="#98a8c8" stroke-width="0.35"/><use href="#r2" stroke="#46629e" stroke-width="0.75"/><use href="#r2" stroke="#7aa0e6" stroke-width="0.60"/></g><path d="M110.7,123.8 110.3,121.4 108.4,119.9 109.2,117.7 107.7,115.8" stroke="#3b5793" stroke-width="0.7" fill="none" stroke-linejoin="round"/><path d="M137.0,195.6 137.6,193.7 136.6,191.9 135.0,190.7 133.7,189.1 131.9,188.2" stroke="#46629e" stroke-width="0.7" fill="none" stroke-linejoin="round"/><path d="M118.4,142.7 115.9,142.1 114.0,140.4 111.5,141.1 109.1,142.1" stroke="#3b5793" stroke-width="0.7" fill="none" stroke-linejoin="round"/><g transform="translate(117.2,193.9) rotate(66) scale(4.68)"><use href="#b2" stroke="#98a8c8" stroke-width="0.35"/><use href="#r2" stroke="#46629e" stroke-width="0.75"/><use href="#r2" stroke="#6a94e0" stroke-width="0.60"/></g><g transform="translate(116.1,133.1) rotate(112) scale(4.26)"><use href="#b3" stroke="#8898bb" stroke-width="0.35"/><use href="#r3" stroke="#46629e" stroke-width="0.75"/><use href="#r3" stroke="#8aaeee" stroke-width="0.60"/></g><g transform="translate(100.8,154.7) rotate(114) scale(4.67)"><use href="#b2" stroke="#8898bb" stroke-width="0.35"/><use href="#r2" stroke="#46629e" stroke-width="0.75"/><use href="#r2" stroke="#7aa0e6" stroke-width="0.60"/></g><g transform="translate(98.1,186.2) rotate(87) scale(4.72)"><use href="#b2" stroke="#98a8c8" stroke-width="0.35"/><use href="#r2" stroke="#46629e" stroke-width="0.75"/><use href="#r2" stroke="#6a94e0" stroke-width="0.60"/></g><path d="M82.8,199.7 84.9,200.7 85.3,203.0 84.7,205.3 84.2,207.6" stroke="#3b5793" stroke-width="0.7" fill="none" stroke-linejoin="round"/><g transform="translate(114.5,205.3) rotate(113) scale(5.28)"><use href="#b2" stroke="#98a8c8" stroke-width="0.35"/><use href="#r2" stroke="#3b5793" stroke-width="0.75"/><use href="#r2" stroke="#6a94e0" stroke-width="0.60"/></g><g transform="translate(88.8,167.3) rotate(111) scale(4.01)"><use href="#b5" stroke="#8898bb" stroke-width="0.35"/><use href="#r5" stroke="#46629e" stroke-width="0.75"/><use href="#r5" stroke="#7aa0e6" stroke-width="0.60"/></g><g transform="translate(123.4,163.7) rotate(101) scale(4.32)"><use href="#b2" stroke="#8898bb" stroke-width="0.35"/><use href="#r2" stroke="#3b5793" stroke-width="0.75"/><use href="#r2" stroke="#7aa0e6" stroke-width="0.60"/></g><g transform="translate(92.3,132.2) rotate(78) scale(3.91)"><use href="#b4" stroke="#8898bb" stroke-width="0.35"/><use href="#r4" stroke="#3b5793" stroke-width="0.75"/><use href="#r4" stroke="#6a94e0" stroke-width="0.60"/></g><g transform="translate(142.8,158.0) rotate(160) scale(4.38)"><use href="#b2" stroke="#98a8c8" stroke-width="0.35"/><use href="#r2" stroke="#3b5793" stroke-width="0.75"/><use href="#r2" stroke="#5c88d8" stroke-width="0.60"/></g><path d="M104.0,194.2 103.7,197.2 102.5,200.0 100.6,202.3 98.9,204.8" stroke="#46629e" stroke-width="0.7" fill="none" stroke-linejoin="round"/><g transform="translate(78.4,134.5) rotate(90) scale(3.94)"><use href="#b4" stroke="#98a8c8" stroke-width="0.35"/><use href="#r4" stroke="#3b5793" stroke-width="0.75"/><use href="#r4" stroke="#6a94e0" stroke-width="0.60"/></g><g transform="translate(122.0,190.5) rotate(159) scale(4.21)"><use href="#b3" stroke="#98a8c8" stroke-width="0.35"/><use href="#r3" stroke="#46629e" stroke-width="0.75"/><use href="#r3" stroke="#7aa0e6" stroke-width="0.60"/></g><g transform="translate(113.5,172.5) rotate(83) scale(4.35)"><use href="#b4" stroke="#8898bb" stroke-width="0.35"/><use href="#r4" stroke="#3b5793" stroke-width="0.75"/><use href="#r4" stroke="#8aaeee" stroke-width="0.60"/></g><g transform="translate(80.0,185.4) rotate(67) scale(4.31)"><use href="#b3" stroke="#8898bb" stroke-width="0.35"/><use href="#r3" stroke="#46629e" stroke-width="0.75"/><use href="#r3" stroke="#8aaeee" stroke-width="0.60"/></g><g transform="translate(87.7,141.7) rotate(90) scale(5.14)"><use href="#b4" stroke="#98a8c8" stroke-width="0.35"/><use href="#r4" stroke="#46629e" stroke-width="0.75"/><use href="#r4" stroke="#5c88d8" stroke-width="0.60"/></g><g transform="translate(83.1,169.6) rotate(67) scale(3.93)"><use href="#b2" stroke="#98a8c8" stroke-width="0.35"/><use href="#r2" stroke="#46629e" stroke-width="0.75"/><use href="#r2" stroke="#7aa0e6" stroke-width="0.60"/></g><path d="M94.5,125.0 97.5,124.6 99.0,127.2 101.4,129.2 102.1,132.1" stroke="#3b5793" stroke-width="0.7" fill="none" stroke-linejoin="round"/><g transform="translate(126.3,135.9) rotate(86) scale(4.61)"><use href="#b4" stroke="#8898bb" stroke-width="0.35"/><use href="#r4" stroke="#3b5793" stroke-width="0.75"/><use href="#r4" stroke="#5c88d8" stroke-width="0.60"/></g><g transform="translate(108.8,197.7) rotate(2) scale(4.08)"><use href="#b2" stroke="#8898bb" stroke-width="0.35"/><use href="#r2" stroke="#3b5793" stroke-width="0.75"/><use href="#r2" stroke="#7aa0e6" stroke-width="0.60"/></g>
<path d="M22,132 L30,128 L45,125 L60,125 L72,128 L76,138 L78,150 L79,165 L80,176 L92,183 L97,192 L85,197 L72,202 L68,210 L58,212 L45,210 L30,208 L18,206 L8,202 L2,195 L6,186 L14,178 L20,160 L20,140 Z" fill="#f6e8f0" opacity="0.8"/><g transform="translate(51.9,193.8) rotate(79) scale(5.07)"><use href="#b3" stroke="#c89ab8" stroke-width="0.35"/><use href="#r3" stroke="#a85088" stroke-width="0.75"/><use href="#r3" stroke="#e06aaa" stroke-width="0.60"/></g><path d="M56.8,131.0 56.8,133.8 59.1,135.5 62.0,135.2" stroke="#a04a80" stroke-width="0.7" fill="none" stroke-linejoin="round"/><g transform="translate(9.0,185.7) rotate(105) scale(4.94)"><use href="#b5" stroke="#b87aa4" stroke-width="0.35"/><use href="#r5" stroke="#a04a80" stroke-width="0.75"/><use href="#r5" stroke="#e06aaa" stroke-width="0.60"/></g><path d="M58.7,193.2 56.1,192.3 53.3,192.9 50.8,193.9 48.0,193.8" stroke="#a85088" stroke-width="0.7" fill="none" stroke-linejoin="round"/><g transform="translate(74.7,184.6) rotate(134) scale(4.09)"><use href="#b3" stroke="#c89ab8" stroke-width="0.35"/><use href="#r3" stroke="#a85088" stroke-width="0.75"/><use href="#r3" stroke="#e06aaa" stroke-width="0.60"/></g><g transform="translate(3.4,192.8) rotate(59) scale(5.06)"><use href="#b4" stroke="#c89ab8" stroke-width="0.35"/><use href="#r4" stroke="#a85088" stroke-width="0.75"/><use href="#r4" stroke="#d45c9e" stroke-width="0.60"/></g><path d="M44.5,186.6 41.7,185.1 39.7,182.6 37.6,180.3 37.8,177.1" stroke="#a04a80" stroke-width="0.7" fill="none" stroke-linejoin="round"/><path d="M81.8,183.3 82.7,185.5 82.8,187.9 81.5,190.0 79.2,190.6" stroke="#a85088" stroke-width="0.7" fill="none" stroke-linejoin="round"/><path d="M57.6,187.8 54.7,185.9 51.7,187.7 49.7,190.5 46.6,192.1" stroke="#a04a80" stroke-width="0.7" fill="none" stroke-linejoin="round"/><g transform="translate(69.1,141.4) rotate(76) scale(4.62)"><use href="#b4" stroke="#b87aa4" stroke-width="0.35"/><use href="#r4" stroke="#a04a80" stroke-width="0.75"/><use href="#r4" stroke="#ec90c4" stroke-width="0.60"/></g><path d="M55.6,151.3 57.7,151.8 59.4,153.3 61.4,154.1 62.3,156.1" stroke="#a04a80" stroke-width="0.7" fill="none" stroke-linejoin="round"/><g transform="translate(21.2,192.6) rotate(81) scale(5.25)"><use href="#b2" stroke="#c89ab8" stroke-width="0.35"/><use href="#r2" stroke="#a04a80" stroke-width="0.75"/><use href="#r2" stroke="#e87cb8" stroke-width="0.60"/></g><g transform="translate(26.8,134.7) rotate(104) scale(4.57)"><use href="#b3" stroke="#c89ab8" stroke-width="0.35"/><use href="#r3" stroke="#a04a80" stroke-width="0.75"/><use href="#r3" stroke="#e06aaa" stroke-width="0.60"/></g><g transform="translate(74.7,170.7) rotate(72) scale(5.02)"><use href="#b2" stroke="#c89ab8" stroke-width="0.35"/><use href="#r2" stroke="#a04a80" stroke-width="0.75"/><use href="#r2" stroke="#e06aaa" stroke-width="0.60"/></g><g transform="translate(50.8,132.2) rotate(74) scale(4.65)"><use href="#b4" stroke="#c89ab8" stroke-width="0.35"/><use href="#r4" stroke="#a85088" stroke-width="0.75"/><use href="#r4" stroke="#e06aaa" stroke-width="0.60"/></g><g transform="translate(56.9,159.0) rotate(74) scale(3.95)"><use href="#b4" stroke="#b87aa4" stroke-width="0.35"/><use href="#r4" stroke="#a85088" stroke-width="0.75"/><use href="#r4" stroke="#d45c9e" stroke-width="0.60"/></g><g transform="translate(21.5,149.2) rotate(93) scale(4.40)"><use href="#b4" stroke="#c89ab8" stroke-width="0.35"/><use href="#r4" stroke="#a04a80" stroke-width="0.75"/><use href="#r4" stroke="#ec90c4" stroke-width="0.60"/></g><g transform="translate(86.6,185.1) rotate(85) scale(4.07)"><use href="#b2" stroke="#c89ab8" stroke-width="0.35"/><use href="#r2" stroke="#a85088" stroke-width="0.75"/><use href="#r2" stroke="#d45c9e" stroke-width="0.60"/></g><g transform="translate(27.2,171.8) rotate(6) scale(4.31)"><use href="#b3" stroke="#c89ab8" stroke-width="0.35"/><use href="#r3" stroke="#a04a80" stroke-width="0.75"/><use href="#r3" stroke="#ec90c4" stroke-width="0.60"/></g><path d="M64.2,145.8 62.1,146.8 60.2,145.2 58.1,146.2 55.7,146.7 53.9,148.3" stroke="#a85088" stroke-width="0.7" fill="none" stroke-linejoin="round"/><g transform="translate(52.1,204.1) rotate(28) scale(4.52)"><use href="#b5" stroke="#c89ab8" stroke-width="0.35"/><use href="#r5" stroke="#a85088" stroke-width="0.75"/><use href="#r5" stroke="#e06aaa" stroke-width="0.60"/></g><g transform="translate(78.9,180.9) rotate(84) scale(4.35)"><use href="#b3" stroke="#b87aa4" stroke-width="0.35"/><use href="#r3" stroke="#a85088" stroke-width="0.75"/><use href="#r3" stroke="#e87cb8" stroke-width="0.60"/></g><g transform="translate(57.7,167.0) rotate(133) scale(4.74)"><use href="#b4" stroke="#b87aa4" stroke-width="0.35"/><use href="#r4" stroke="#a85088" stroke-width="0.75"/><use href="#r4" stroke="#d45c9e" stroke-width="0.60"/></g><g transform="translate(53.5,173.1) rotate(114) scale(4.85)"><use href="#b4" stroke="#b87aa4" stroke-width="0.35"/><use href="#r4" stroke="#a04a80" stroke-width="0.75"/><use href="#r4" stroke="#ec90c4" stroke-width="0.60"/></g><g transform="translate(69.9,139.8) rotate(46) scale(4.68)"><use href="#b4" stroke="#c89ab8" stroke-width="0.35"/><use href="#r4" stroke="#a85088" stroke-width="0.75"/><use href="#r4" stroke="#d45c9e" stroke-width="0.60"/></g><g transform="translate(61.6,200.0) rotate(127) scale(3.96)"><use href="#b4" stroke="#c89ab8" stroke-width="0.35"/><use href="#r4" stroke="#a85088" stroke-width="0.75"/><use href="#r4" stroke="#ec90c4" stroke-width="0.60"/></g><g transform="translate(33.6,174.3) rotate(100) scale(4.23)"><use href="#b5" stroke="#b87aa4" stroke-width="0.35"/><use href="#r5" stroke="#a04a80" stroke-width="0.75"/><use href="#r5" stroke="#ec90c4" stroke-width="0.60"/></g><g transform="translate(42.7,157.1) rotate(70) scale(5.28)"><use href="#b4" stroke="#c89ab8" stroke-width="0.35"/><use href="#r4" stroke="#a85088" stroke-width="0.75"/><use href="#r4" stroke="#e87cb8" stroke-width="0.60"/></g><path d="M62.4,148.3 62.0,145.7 59.5,145.0 58.3,142.7 56.9,140.5 54.4,140.3 52.4,138.5" stroke="#a04a80" stroke-width="0.7" fill="none" stroke-linejoin="round"/><g transform="translate(33.5,204.0) rotate(173) scale(5.02)"><use href="#b4" stroke="#c89ab8" stroke-width="0.35"/><use href="#r4" stroke="#a85088" stroke-width="0.75"/><use href="#r4" stroke="#d45c9e" stroke-width="0.60"/></g><g transform="translate(21.5,135.9) rotate(111) scale(4.43)"><use href="#b3" stroke="#b87aa4" stroke-width="0.35"/><use href="#r3" stroke="#a85088" stroke-width="0.75"/><use href="#r3" stroke="#d45c9e" stroke-width="0.60"/></g><g transform="translate(34.4,134.3) rotate(114) scale(4.24)"><use href="#b5" stroke="#c89ab8" stroke-width="0.35"/><use href="#r5" stroke="#a04a80" stroke-width="0.75"/><use href="#r5" stroke="#ec90c4" stroke-width="0.60"/></g><path d="M62.3,189.1 63.6,187.2 65.7,186.2 66.9,184.2 69.2,184.5 71.1,185.9 70.9,188.2" stroke="#a85088" stroke-width="0.7" fill="none" stroke-linejoin="round"/><path d="M47.4,194.5 45.1,196.1 45.6,198.9 46.8,201.5 48.8,203.6 51.6,203.3" stroke="#a04a80" stroke-width="0.7" fill="none" stroke-linejoin="round"/><path d="M48.2,209.5 46.1,207.9 46.1,205.1 44.5,202.9 42.9,200.6 41.2,198.4" stroke="#a85088" stroke-width="0.7" fill="none" stroke-linejoin="round"/><path d="M50.1,159.2 47.5,158.4 45.8,156.3 46.5,153.6 45.8,151.0" stroke="#a04a80" stroke-width="0.7" fill="none" stroke-linejoin="round"/><g transform="translate(42.9,153.3) rotate(106) scale(4.70)"><use href="#b5" stroke="#b87aa4" stroke-width="0.35"/><use href="#r5" stroke="#a85088" stroke-width="0.75"/><use href="#r5" stroke="#e87cb8" stroke-width="0.60"/></g><path d="M53.8,147.0 51.7,147.4 50.4,149.1 51.2,151.0 49.8,152.5 48.9,154.4" stroke="#a04a80" stroke-width="0.7" fill="none" stroke-linejoin="round"/><g transform="translate(28.7,185.6) rotate(110) scale(5.04)"><use href="#b4" stroke="#c89ab8" stroke-width="0.35"/><use href="#r4" stroke="#a85088" stroke-width="0.75"/><use href="#r4" stroke="#d45c9e" stroke-width="0.60"/></g><g transform="translate(71.6,155.5) rotate(91) scale(4.52)"><use href="#b2" stroke="#c89ab8" stroke-width="0.35"/><use href="#r2" stroke="#a85088" stroke-width="0.75"/><use href="#r2" stroke="#e06aaa" stroke-width="0.60"/></g><g transform="translate(25.7,145.0) rotate(87) scale(4.88)"><use href="#b5" stroke="#b87aa4" stroke-width="0.35"/><use href="#r5" stroke="#a04a80" stroke-width="0.75"/><use href="#r5" stroke="#d45c9e" stroke-width="0.60"/></g><g transform="translate(67.9,158.3) rotate(90) scale(4.51)"><use href="#b2" stroke="#c89ab8" stroke-width="0.35"/><use href="#r2" stroke="#a04a80" stroke-width="0.75"/><use href="#r2" stroke="#ec90c4" stroke-width="0.60"/></g><g transform="translate(8.2,199.4) rotate(114) scale(3.94)"><use href="#b4" stroke="#c89ab8" stroke-width="0.35"/><use href="#r4" stroke="#a04a80" stroke-width="0.75"/><use href="#r4" stroke="#d45c9e" stroke-width="0.60"/></g><g transform="translate(55.9,207.9) rotate(112) scale(4.47)"><use href="#b3" stroke="#c89ab8" stroke-width="0.35"/><use href="#r3" stroke="#a85088" stroke-width="0.75"/><use href="#r3" stroke="#ec90c4" stroke-width="0.60"/></g><g transform="translate(38.0,148.9) rotate(164) scale(4.66)"><use href="#b2" stroke="#c89ab8" stroke-width="0.35"/><use href="#r2" stroke="#a04a80" stroke-width="0.75"/><use href="#r2" stroke="#e87cb8" stroke-width="0.60"/></g><g transform="translate(66.8,153.7) rotate(174) scale(4.75)"><use href="#b5" stroke="#b87aa4" stroke-width="0.35"/><use href="#r5" stroke="#a04a80" stroke-width="0.75"/><use href="#r5" stroke="#e87cb8" stroke-width="0.60"/></g><path d="M23.0,178.5 23.6,175.9 21.7,174.1 19.1,174.3 16.7,173.2" stroke="#a04a80" stroke-width="0.7" fill="none" stroke-linejoin="round"/><g transform="translate(43.5,139.3) rotate(73) scale(4.87)"><use href="#b4" stroke="#c89ab8" stroke-width="0.35"/><use href="#r4" stroke="#a85088" stroke-width="0.75"/><use href="#r4" stroke="#ec90c4" stroke-width="0.60"/></g><g transform="translate(42.9,129.2) rotate(96) scale(4.12)"><use href="#b4" stroke="#b87aa4" stroke-width="0.35"/><use href="#r4" stroke="#a04a80" stroke-width="0.75"/><use href="#r4" stroke="#d45c9e" stroke-width="0.60"/></g><g transform="translate(17.2,193.8) rotate(114) scale(4.51)"><use href="#b5" stroke="#c89ab8" stroke-width="0.35"/><use href="#r5" stroke="#a04a80" stroke-width="0.75"/><use href="#r5" stroke="#d45c9e" stroke-width="0.60"/></g><g transform="translate(28.9,153.9) rotate(108) scale(4.87)"><use href="#b3" stroke="#c89ab8" stroke-width="0.35"/><use href="#r3" stroke="#a85088" stroke-width="0.75"/><use href="#r3" stroke="#e06aaa" stroke-width="0.60"/></g><g transform="translate(29.8,187.7) rotate(105) scale(5.10)"><use href="#b3" stroke="#c89ab8" stroke-width="0.35"/><use href="#r3" stroke="#a04a80" stroke-width="0.75"/><use href="#r3" stroke="#e87cb8" stroke-width="0.60"/></g><g transform="translate(23.7,161.3) rotate(67) scale(5.23)"><use href="#b5" stroke="#b87aa4" stroke-width="0.35"/><use href="#r5" stroke="#a85088" stroke-width="0.75"/><use href="#r5" stroke="#e87cb8" stroke-width="0.60"/></g><g transform="translate(34.7,162.0) rotate(73) scale(4.14)"><use href="#b5" stroke="#c89ab8" stroke-width="0.35"/><use href="#r5" stroke="#a04a80" stroke-width="0.75"/><use href="#r5" stroke="#ec90c4" stroke-width="0.60"/></g><g transform="translate(54.9,139.5) rotate(25) scale(4.17)"><use href="#b4" stroke="#b87aa4" stroke-width="0.35"/><use href="#r4" stroke="#a85088" stroke-width="0.75"/><use href="#r4" stroke="#ec90c4" stroke-width="0.60"/></g><g transform="translate(73.6,158.4) rotate(96) scale(5.01)"><use href="#b2" stroke="#b87aa4" stroke-width="0.35"/><use href="#r2" stroke="#a04a80" stroke-width="0.75"/><use href="#r2" stroke="#ec90c4" stroke-width="0.60"/></g><g transform="translate(84.9,187.2) rotate(14) scale(5.26)"><use href="#b2" stroke="#c89ab8" stroke-width="0.35"/><use href="#r2" stroke="#a04a80" stroke-width="0.75"/><use href="#r2" stroke="#e87cb8" stroke-width="0.60"/></g><g transform="translate(38.8,173.7) rotate(94) scale(4.42)"><use href="#b3" stroke="#b87aa4" stroke-width="0.35"/><use href="#r3" stroke="#a04a80" stroke-width="0.75"/><use href="#r3" stroke="#d45c9e" stroke-width="0.60"/></g><g transform="translate(66.8,136.6) rotate(93) scale(4.97)"><use href="#b2" stroke="#b87aa4" stroke-width="0.35"/><use href="#r2" stroke="#a85088" stroke-width="0.75"/><use href="#r2" stroke="#e87cb8" stroke-width="0.60"/></g><path d="M49.6,209.6 48.6,212.0 47.3,214.3 45.0,215.6 44.3,218.1 45.5,220.5" stroke="#a85088" stroke-width="0.7" fill="none" stroke-linejoin="round"/><g transform="translate(57.5,199.8) rotate(20) scale(4.37)"><use href="#b2" stroke="#b87aa4" stroke-width="0.35"/><use href="#r2" stroke="#a85088" stroke-width="0.75"/><use href="#r2" stroke="#e06aaa" stroke-width="0.60"/></g><path d="M31.1,172.2 29.0,173.2 27.2,171.8 25.6,170.2" stroke="#a85088" stroke-width="0.7" fill="none" stroke-linejoin="round"/><path d="M24.7,187.7 26.9,186.9 28.6,185.2 29.1,183.0 30.3,181.0 29.5,178.8" stroke="#a04a80" stroke-width="0.7" fill="none" stroke-linejoin="round"/><g transform="translate(66.5,203.3) rotate(111) scale(4.55)"><use href="#b4" stroke="#b87aa4" stroke-width="0.35"/><use href="#r4" stroke="#a85088" stroke-width="0.75"/><use href="#r4" stroke="#e06aaa" stroke-width="0.60"/></g><g transform="translate(58.8,177.7) rotate(80) scale(4.74)"><use href="#b5" stroke="#b87aa4" stroke-width="0.35"/><use href="#r5" stroke="#a04a80" stroke-width="0.75"/><use href="#r5" stroke="#e06aaa" stroke-width="0.60"/></g><g transform="translate(70.4,131.0) rotate(109) scale(4.78)"><use href="#b2" stroke="#b87aa4" stroke-width="0.35"/><use href="#r2" stroke="#a04a80" stroke-width="0.75"/><use href="#r2" stroke="#d45c9e" stroke-width="0.60"/></g><path d="M67.5,202.6 64.7,202.5 62.0,203.0 59.4,204.0 56.7,204.6" stroke="#a04a80" stroke-width="0.7" fill="none" stroke-linejoin="round"/><g transform="translate(49.4,146.8) rotate(10) scale(4.47)"><use href="#b2" stroke="#b87aa4" stroke-width="0.35"/><use href="#r2" stroke="#a85088" stroke-width="0.75"/><use href="#r2" stroke="#e06aaa" stroke-width="0.60"/></g><g transform="translate(17.6,186.3) rotate(110) scale(4.36)"><use href="#b3" stroke="#c89ab8" stroke-width="0.35"/><use href="#r3" stroke="#a85088" stroke-width="0.75"/><use href="#r3" stroke="#d45c9e" stroke-width="0.60"/></g><path d="M29.0,151.7 32.2,153.1 35.2,154.9 38.0,152.8 39.8,149.8 42.0,147.1 45.5,147.6" stroke="#a85088" stroke-width="0.7" fill="none" stroke-linejoin="round"/><g transform="translate(77.2,176.0) rotate(72) scale(4.72)"><use href="#b5" stroke="#c89ab8" stroke-width="0.35"/><use href="#r5" stroke="#a04a80" stroke-width="0.75"/><use href="#r5" stroke="#e06aaa" stroke-width="0.60"/></g><g transform="translate(59.8,130.7) rotate(75) scale(4.82)"><use href="#b4" stroke="#c89ab8" stroke-width="0.35"/><use href="#r4" stroke="#a04a80" stroke-width="0.75"/><use href="#r4" stroke="#ec90c4" stroke-width="0.60"/></g><path d="M72.5,189.6 72.4,192.5 73.6,195.1 73.6,198.0 73.9,200.9" stroke="#a85088" stroke-width="0.7" fill="none" stroke-linejoin="round"/><g transform="translate(65.0,171.8) rotate(69) scale(4.74)"><use href="#b5" stroke="#b87aa4" stroke-width="0.35"/><use href="#r5" stroke="#a04a80" stroke-width="0.75"/><use href="#r5" stroke="#e06aaa" stroke-width="0.60"/></g><path d="M27.8,152.9 27.8,156.2 27.7,159.5 29.5,162.2 28.0,165.2 25.8,167.6 25.0,170.8" stroke="#a04a80" stroke-width="0.7" fill="none" stroke-linejoin="round"/><g transform="translate(79.9,191.7) rotate(141) scale(4.30)"><use href="#b4" stroke="#c89ab8" stroke-width="0.35"/><use href="#r4" stroke="#a04a80" stroke-width="0.75"/><use href="#r4" stroke="#d45c9e" stroke-width="0.60"/></g><g transform="translate(47.3,200.5) rotate(105) scale(4.38)"><use href="#b2" stroke="#c89ab8" stroke-width="0.35"/><use href="#r2" stroke="#a04a80" stroke-width="0.75"/><use href="#r2" stroke="#e87cb8" stroke-width="0.60"/></g><g transform="translate(19.6,168.4) rotate(102) scale(4.08)"><use href="#b3" stroke="#b87aa4" stroke-width="0.35"/><use href="#r3" stroke="#a85088" stroke-width="0.75"/><use href="#r3" stroke="#e87cb8" stroke-width="0.60"/></g><path d="M34.6,155.0 36.7,157.1 39.6,157.4 42.5,156.4 45.5,156.4" stroke="#a04a80" stroke-width="0.7" fill="none" stroke-linejoin="round"/><g transform="translate(34.6,142.1) rotate(81) scale(5.14)"><use href="#b3" stroke="#c89ab8" stroke-width="0.35"/><use href="#r3" stroke="#a04a80" stroke-width="0.75"/><use href="#r3" stroke="#e06aaa" stroke-width="0.60"/></g><g transform="translate(48.9,182.3) rotate(88) scale(5.07)"><use href="#b3" stroke="#c89ab8" stroke-width="0.35"/><use href="#r3" stroke="#a04a80" stroke-width="0.75"/><use href="#r3" stroke="#d45c9e" stroke-width="0.60"/></g><g transform="translate(58.7,141.4) rotate(173) scale(4.41)"><use href="#b3" stroke="#b87aa4" stroke-width="0.35"/><use href="#r3" stroke="#a04a80" stroke-width="0.75"/><use href="#r3" stroke="#e87cb8" stroke-width="0.60"/></g><path d="M30.9,149.9 33.6,150.5 36.3,150.0 37.7,147.6 39.5,145.5" stroke="#a04a80" stroke-width="0.7" fill="none" stroke-linejoin="round"/><g transform="translate(25.9,195.1) rotate(73) scale(4.04)"><use href="#b3" stroke="#b87aa4" stroke-width="0.35"/><use href="#r3" stroke="#a04a80" stroke-width="0.75"/><use href="#r3" stroke="#d45c9e" stroke-width="0.60"/></g><g transform="translate(63.1,165.6) rotate(88) scale(3.94)"><use href="#b5" stroke="#c89ab8" stroke-width="0.35"/><use href="#r5" stroke="#a85088" stroke-width="0.75"/><use href="#r5" stroke="#d45c9e" stroke-width="0.60"/></g><g transform="translate(39.3,202.7) rotate(18) scale(4.52)"><use href="#b3" stroke="#b87aa4" stroke-width="0.35"/><use href="#r3" stroke="#a85088" stroke-width="0.75"/><use href="#r3" stroke="#e87cb8" stroke-width="0.60"/></g><g transform="translate(70.5,191.4) rotate(89) scale(4.39)"><use href="#b4" stroke="#b87aa4" stroke-width="0.35"/><use href="#r4" stroke="#a85088" stroke-width="0.75"/><use href="#r4" stroke="#d45c9e" stroke-width="0.60"/></g><path d="M36.1,178.1 38.5,179.2 40.5,177.5 40.9,175.0" stroke="#a85088" stroke-width="0.7" fill="none" stroke-linejoin="round"/><path d="M51.4,150.4 50.9,152.9 50.4,155.4 48.5,157.0 48.6,159.5 49.0,162.0 48.7,164.5" stroke="#a85088" stroke-width="0.7" fill="none" stroke-linejoin="round"/><g transform="translate(37.4,183.5) rotate(66) scale(5.07)"><use href="#b3" stroke="#c89ab8" stroke-width="0.35"/><use href="#r3" stroke="#a85088" stroke-width="0.75"/><use href="#r3" stroke="#ec90c4" stroke-width="0.60"/></g><g transform="translate(39.4,166.4) rotate(90) scale(5.21)"><use href="#b4" stroke="#c89ab8" stroke-width="0.35"/><use href="#r4" stroke="#a04a80" stroke-width="0.75"/><use href="#r4" stroke="#ec90c4" stroke-width="0.60"/></g><g transform="translate(50.7,161.1) rotate(90) scale(4.59)"><use href="#b5" stroke="#c89ab8" stroke-width="0.35"/><use href="#r5" stroke="#a04a80" stroke-width="0.75"/><use href="#r5" stroke="#ec90c4" stroke-width="0.60"/></g><g transform="translate(58.9,189.9) rotate(97) scale(5.19)"><use href="#b2" stroke="#b87aa4" stroke-width="0.35"/><use href="#r2" stroke="#a04a80" stroke-width="0.75"/><use href="#r2" stroke="#e87cb8" stroke-width="0.60"/></g><g transform="translate(53.3,186.1) rotate(146) scale(3.97)"><use href="#b5" stroke="#b87aa4" stroke-width="0.35"/><use href="#r5" stroke="#a04a80" stroke-width="0.75"/><use href="#r5" stroke="#e06aaa" stroke-width="0.60"/></g><path d="M95.7,192.3 93.5,190.2 91.8,187.5 91.6,184.4 92.2,181.3" stroke="#a85088" stroke-width="0.7" fill="none" stroke-linejoin="round"/><path d="M33.0,185.6 31.5,183.9 29.3,183.5 27.1,184.3" stroke="#a04a80" stroke-width="0.7" fill="none" stroke-linejoin="round"/><path d="M66.6,163.3 69.2,164.2 71.7,164.9 73.5,166.8 76.1,167.4 77.7,165.3 77.7,162.6" stroke="#a04a80" stroke-width="0.7" fill="none" stroke-linejoin="round"/><g transform="translate(46.6,164.7) rotate(71) scale(4.40)"><use href="#b4" stroke="#c89ab8" stroke-width="0.35"/><use href="#r4" stroke="#a04a80" stroke-width="0.75"/><use href="#r4" stroke="#e06aaa" stroke-width="0.60"/></g><g transform="translate(17.9,197.6) rotate(107) scale(4.19)"><use href="#b3" stroke="#c89ab8" stroke-width="0.35"/><use href="#r3" stroke="#a04a80" stroke-width="0.75"/><use href="#r3" stroke="#d45c9e" stroke-width="0.60"/></g><g transform="translate(82.0,177.5) rotate(106) scale(4.48)"><use href="#b5" stroke="#b87aa4" stroke-width="0.35"/><use href="#r5" stroke="#a04a80" stroke-width="0.75"/><use href="#r5" stroke="#e87cb8" stroke-width="0.60"/></g><g transform="translate(25.0,169.1) rotate(89) scale(4.95)"><use href="#b2" stroke="#b87aa4" stroke-width="0.35"/><use href="#r2" stroke="#a04a80" stroke-width="0.75"/><use href="#r2" stroke="#e06aaa" stroke-width="0.60"/></g><path d="M30.9,165.3 29.1,168.1 25.8,168.2 22.7,166.8 19.5,167.6" stroke="#a04a80" stroke-width="0.7" fill="none" stroke-linejoin="round"/><g transform="translate(29.9,130.4) rotate(113) scale(4.89)"><use href="#b3" stroke="#b87aa4" stroke-width="0.35"/><use href="#r3" stroke="#a85088" stroke-width="0.75"/><use href="#r3" stroke="#ec90c4" stroke-width="0.60"/></g><g transform="translate(43.9,187.9) rotate(71) scale(4.57)"><use href="#b2" stroke="#c89ab8" stroke-width="0.35"/><use href="#r2" stroke="#a85088" stroke-width="0.75"/><use href="#r2" stroke="#d45c9e" stroke-width="0.60"/></g><g transform="translate(36.8,199.5) rotate(72) scale(4.72)"><use href="#b3" stroke="#c89ab8" stroke-width="0.35"/><use href="#r3" stroke="#a04a80" stroke-width="0.75"/><use href="#r3" stroke="#d45c9e" stroke-width="0.60"/></g><g transform="translate(73.8,195.3) rotate(40) scale(4.97)"><use href="#b2" stroke="#b87aa4" stroke-width="0.35"/><use href="#r2" stroke="#a04a80" stroke-width="0.75"/><use href="#r2" stroke="#e87cb8" stroke-width="0.60"/></g><path d="M45.4,180.4 45.3,178.3 44.7,176.3 42.6,175.8 40.5,175.4" stroke="#a04a80" stroke-width="0.7" fill="none" stroke-linejoin="round"/><g transform="translate(15.3,202.7) rotate(65) scale(4.73)"><use href="#b2" stroke="#c89ab8" stroke-width="0.35"/><use href="#r2" stroke="#a85088" stroke-width="0.75"/><use href="#r2" stroke="#e06aaa" stroke-width="0.60"/></g><g transform="translate(43.9,144.9) rotate(82) scale(4.50)"><use href="#b5" stroke="#c89ab8" stroke-width="0.35"/><use href="#r5" stroke="#a85088" stroke-width="0.75"/><use href="#r5" stroke="#d45c9e" stroke-width="0.60"/></g><g transform="translate(66.8,180.2) rotate(98) scale(4.47)"><use href="#b5" stroke="#b87aa4" stroke-width="0.35"/><use href="#r5" stroke="#a85088" stroke-width="0.75"/><use href="#r5" stroke="#ec90c4" stroke-width="0.60"/></g><g transform="translate(56.6,153.2) rotate(82) scale(5.09)"><use href="#b3" stroke="#b87aa4" stroke-width="0.35"/><use href="#r3" stroke="#a04a80" stroke-width="0.75"/><use href="#r3" stroke="#e06aaa" stroke-width="0.60"/></g>
<path d="M28,131 C30,126 36,124 43,125.4 C50,124 56,122 64.5,121.3 C70,122 72,126 70,130 M63.6,118 L64,122" stroke="#c0508a" stroke-width="0.9" fill="none"/>
<path d="M90.5,118.2 C92,121 95,122 98,124 C104,122 110,121 116,124" stroke="#4a6ab4" stroke-width="0.9" fill="none"/>
<g opacity="0.85"><g transform="translate(43.0,184.4) rotate(72) scale(3.74)"><use href="#b3" stroke="#9aaa96" stroke-width="0.35"/><use href="#r3" stroke="#6a8a64" stroke-width="0.75"/><use href="#r3" stroke="#b0cca9" stroke-width="0.60"/></g><g transform="translate(26.0,196.5) rotate(12) scale(3.08)"><use href="#b2" stroke="#9aaa96" stroke-width="0.35"/><use href="#r2" stroke="#5e805a" stroke-width="0.75"/><use href="#r2" stroke="#98b990" stroke-width="0.60"/></g><g transform="translate(32.5,178.2) rotate(92) scale(3.08)"><use href="#b3" stroke="#9aaa96" stroke-width="0.35"/><use href="#r3" stroke="#5e805a" stroke-width="0.75"/><use href="#r3" stroke="#98b990" stroke-width="0.60"/></g><g transform="translate(21.7,183.3) rotate(72) scale(3.24)"><use href="#b3" stroke="#9aaa96" stroke-width="0.35"/><use href="#r3" stroke="#5e805a" stroke-width="0.75"/><use href="#r3" stroke="#98b990" stroke-width="0.60"/></g><g transform="translate(44.8,194.4) rotate(158) scale(3.52)"><use href="#b2" stroke="#9aaa96" stroke-width="0.35"/><use href="#r2" stroke="#6a8a64" stroke-width="0.75"/><use href="#r2" stroke="#98b990" stroke-width="0.60"/></g><g transform="translate(27.0,194.1) rotate(112) scale(3.24)"><use href="#b2" stroke="#9aaa96" stroke-width="0.35"/><use href="#r2" stroke="#6a8a64" stroke-width="0.75"/><use href="#r2" stroke="#b0cca9" stroke-width="0.60"/></g><g transform="translate(40.7,189.9) rotate(169) scale(2.94)"><use href="#b2" stroke="#9aaa96" stroke-width="0.35"/><use href="#r2" stroke="#6a8a64" stroke-width="0.75"/><use href="#r2" stroke="#a3c29b" stroke-width="0.60"/></g><g transform="translate(29.5,202.3) rotate(88) scale(3.37)"><use href="#b2" stroke="#9aaa96" stroke-width="0.35"/><use href="#r2" stroke="#5e805a" stroke-width="0.75"/><use href="#r2" stroke="#a3c29b" stroke-width="0.60"/></g><g transform="translate(44.2,201.3) rotate(80) scale(3.08)"><use href="#b3" stroke="#9aaa96" stroke-width="0.35"/><use href="#r3" stroke="#6a8a64" stroke-width="0.75"/><use href="#r3" stroke="#98b990" stroke-width="0.60"/></g></g>
<path d="M27.8,195.1 C26.1,187.3 30.4,185.8 33.5,192.3M34.1,193.4 C32.4,185.6 36.7,184.1 39.7,190.6M40.4,191.7 C38.6,183.9 43.0,182.4 46.0,188.9M46.7,190.1 C44.9,182.3 49.2,180.8 52.3,187.2" stroke="#1f3f98" stroke-width="3.7" fill="none" stroke-linecap="butt"/><path d="M27.8,195.1 C26.1,187.3 30.4,185.8 33.5,192.3M34.1,193.4 C32.4,185.6 36.7,184.1 39.7,190.6M40.4,191.7 C38.6,183.9 43.0,182.4 46.0,188.9M46.7,190.1 C44.9,182.3 49.2,180.8 52.3,187.2" stroke="#3f6ad8" stroke-width="2.5" fill="none" stroke-linecap="butt"/>
<path d="M12.9,215.3 C11.0,207.0 15.5,205.4 18.8,212.3M19.4,213.5 C17.6,205.2 22.1,203.7 25.3,210.6M26.0,211.8 C24.2,203.5 28.7,201.9 31.9,208.8M32.6,210.1 C30.7,201.8 35.3,200.2 38.5,207.1M39.2,208.3 C37.3,200.0 41.8,198.5 45.1,205.3M45.7,206.6 C43.9,198.3 48.4,196.7 51.6,203.6M52.3,204.8 C50.5,196.5 55.0,195.0 58.2,201.9" stroke="#1f9c9c" stroke-width="3.8" fill="none" stroke-linecap="butt"/><path d="M12.9,215.3 C11.0,207.0 15.5,205.4 18.8,212.3M19.4,213.5 C17.6,205.2 22.1,203.7 25.3,210.6M26.0,211.8 C24.2,203.5 28.7,201.9 31.9,208.8M32.6,210.1 C30.7,201.8 35.3,200.2 38.5,207.1M39.2,208.3 C37.3,200.0 41.8,198.5 45.1,205.3M45.7,206.6 C43.9,198.3 48.4,196.7 51.6,203.6M52.3,204.8 C50.5,196.5 55.0,195.0 58.2,201.9" stroke="#52e2da" stroke-width="2.6" fill="none" stroke-linecap="butt"/>
<path d="M52,183 l2,-2 l2,1 l-1,3 z" fill="#d02020"/><path d="M44,190 l1,4" stroke="#c02020" stroke-width="1.2"/>
<path d="M51.2,206.5 51.6,206.6 52.1,206.4 52.9,206.2 53.6,206.0 54.2,205.8 54.6,205.9M53.0,208.9 53.4,209.0 53.9,208.8 54.7,208.6 55.5,208.4 56.0,208.2 56.4,208.3M54.8,211.3 55.2,211.4 55.8,211.2 56.5,211.0 57.2,210.8 57.8,210.6 58.2,210.7M56.6,213.7 56.7,213.7 56.7,213.8 56.8,213.8 56.8,213.8 56.9,213.8 57.0,213.8" stroke="#7090c8" stroke-width="0.7" fill="none" stroke-linecap="round"/><path d="M52.0,205.0 51.8,205.3 51.5,205.6 51.4,205.9 51.3,206.2 51.2,206.4 51.2,206.5M54.6,205.9 54.5,206.2 54.2,206.8 53.8,207.4 53.4,208.0 53.1,208.6 53.0,208.9M56.4,208.3 56.3,208.6 56.1,209.2 55.6,209.8 55.1,210.4 54.9,211.0 54.8,211.3M58.2,210.7 58.1,211.0 57.8,211.6 57.4,212.2 56.9,212.8 56.7,213.4 56.6,213.7" stroke="#7090c8" stroke-width="2.3" fill="none" stroke-linecap="round"/><path d="M52.0,205.0 51.8,205.3 51.5,205.6 51.4,205.9 51.3,206.2 51.2,206.4 51.2,206.5M54.6,205.9 54.5,206.2 54.2,206.8 53.8,207.4 53.4,208.0 53.1,208.6 53.0,208.9M56.4,208.3 56.3,208.6 56.1,209.2 55.6,209.8 55.1,210.4 54.9,211.0 54.8,211.3M58.2,210.7 58.1,211.0 57.8,211.6 57.4,212.2 56.9,212.8 56.7,213.4 56.6,213.7" stroke="#a8c0ea" stroke-width="1.3" fill="none" stroke-linecap="round"/>
<rect x="4.1" y="173.3" width="63.5" height="45.9" fill="none" stroke="#222" stroke-width="0.9"/>
<line x1="67.6" y1="219.2" x2="154.5" y2="228.2" stroke="#555" stroke-width="0.6"/>
<line x1="4.2" y1="219.2" x2="4.2" y2="228.2" stroke="#333" stroke-width="0.8"/>
<path d="M90.3,210.0 90.7,209.8 91.1,209.3 91.7,208.5 92.2,207.7 92.7,207.2 93.0,207.0M93.7,211.0 94.0,210.8 94.5,210.3 95.0,209.5 95.6,208.7 96.0,208.2 96.4,208.0M97.0,212.0 97.4,211.8 97.8,211.3 98.4,210.5 98.9,209.7 99.4,209.2 99.7,209.0M100.4,213.0 100.7,212.8 101.2,212.3 101.7,211.5 102.3,210.7 102.7,210.2 103.1,210.0M103.7,214.0 104.1,213.9 104.5,213.3 105.1,212.5 105.6,211.7 106.1,211.2 106.4,211.1M107.1,215.0 107.4,214.9 107.9,214.3 108.4,213.5 109.0,212.8 109.4,212.2 109.8,212.1" stroke="#5a78b8" stroke-width="0.9" fill="none" stroke-linecap="round"/><path d="M90.0,208.0 90.0,208.5 90.0,208.9 90.1,209.3 90.1,209.7 90.2,209.9 90.3,210.0M93.0,207.0 93.2,207.3 93.3,208.1 93.4,209.0 93.4,210.0 93.5,210.7 93.7,211.0M96.4,208.0 96.6,208.4 96.7,209.1 96.7,210.0 96.7,211.0 96.8,211.7 97.0,212.0M99.7,209.0 99.9,209.4 100.0,210.1 100.1,211.0 100.1,212.0 100.2,212.7 100.4,213.0M103.1,210.0 103.3,210.4 103.4,211.1 103.4,212.0 103.4,213.0 103.5,213.7 103.7,214.0M106.4,211.1 106.7,211.4 106.7,212.1 106.8,213.0 106.8,214.0 106.9,214.7 107.1,215.0M109.8,212.1 109.9,212.1 110.0,212.3 110.0,212.5 110.1,212.9 110.1,213.2 110.1,213.6" stroke="#5a78b8" stroke-width="2.6" fill="none" stroke-linecap="round"/><path d="M90.0,208.0 90.0,208.5 90.0,208.9 90.1,209.3 90.1,209.7 90.2,209.9 90.3,210.0M93.0,207.0 93.2,207.3 93.3,208.1 93.4,209.0 93.4,210.0 93.5,210.7 93.7,211.0M96.4,208.0 96.6,208.4 96.7,209.1 96.7,210.0 96.7,211.0 96.8,211.7 97.0,212.0M99.7,209.0 99.9,209.4 100.0,210.1 100.1,211.0 100.1,212.0 100.2,212.7 100.4,213.0M103.1,210.0 103.3,210.4 103.4,211.1 103.4,212.0 103.4,213.0 103.5,213.7 103.7,214.0M106.4,211.1 106.7,211.4 106.7,212.1 106.8,213.0 106.8,214.0 106.9,214.7 107.1,215.0M109.8,212.1 109.9,212.1 110.0,212.3 110.0,212.5 110.1,212.9 110.1,213.2 110.1,213.6" stroke="#8fb0ea" stroke-width="1.6" fill="none" stroke-linecap="round"/>
<path d="M108.5,211.9 108.8,211.8 109.3,211.2 109.7,210.3 110.2,209.5 110.6,208.9 110.9,208.7M111.9,212.6 112.3,212.4 112.7,211.9 113.1,211.0 113.6,210.2 114.0,209.6 114.4,209.4M115.4,213.3 115.7,213.1 116.1,212.5 116.6,211.7 117.0,210.9 117.5,210.3 117.8,210.1M118.8,214.0 119.1,213.8 119.5,213.2 120.0,212.4 120.5,211.6 120.9,211.0 121.2,210.8M122.2,214.7 122.6,214.5 123.0,213.9 123.4,213.1 123.9,212.3 124.3,211.7 124.7,211.5M125.7,215.4 126.0,215.2 126.4,214.6 126.9,213.8 127.3,212.9 127.8,212.4 128.1,212.2" stroke="#5a78b8" stroke-width="0.9" fill="none" stroke-linecap="round"/><path d="M108.0,210.0 108.1,210.5 108.1,210.9 108.2,211.3 108.3,211.6 108.4,211.8 108.5,211.9M110.9,208.7 111.2,209.0 111.3,209.7 111.4,210.7 111.5,211.6 111.7,212.3 111.9,212.6M114.4,209.4 114.6,209.7 114.8,210.4 114.9,211.4 115.0,212.3 115.1,213.0 115.4,213.3M117.8,210.1 118.0,210.4 118.2,211.1 118.3,212.1 118.4,213.0 118.6,213.7 118.8,214.0M121.2,210.8 121.5,211.1 121.6,211.8 121.7,212.7 121.8,213.7 122.0,214.4 122.2,214.7M124.7,211.5 124.9,211.8 125.1,212.5 125.2,213.4 125.3,214.4 125.4,215.1 125.7,215.4M128.1,212.2 128.1,212.2 128.2,212.2 128.2,212.3 128.2,212.3 128.3,212.4 128.3,212.4" stroke="#5a78b8" stroke-width="2.6" fill="none" stroke-linecap="round"/><path d="M108.0,210.0 108.1,210.5 108.1,210.9 108.2,211.3 108.3,211.6 108.4,211.8 108.5,211.9M110.9,208.7 111.2,209.0 111.3,209.7 111.4,210.7 111.5,211.6 111.7,212.3 111.9,212.6M114.4,209.4 114.6,209.7 114.8,210.4 114.9,211.4 115.0,212.3 115.1,213.0 115.4,213.3M117.8,210.1 118.0,210.4 118.2,211.1 118.3,212.1 118.4,213.0 118.6,213.7 118.8,214.0M121.2,210.8 121.5,211.1 121.6,211.8 121.7,212.7 121.8,213.7 122.0,214.4 122.2,214.7M124.7,211.5 124.9,211.8 125.1,212.5 125.2,213.4 125.3,214.4 125.4,215.1 125.7,215.4M128.1,212.2 128.1,212.2 128.2,212.2 128.2,212.3 128.2,212.3 128.3,212.4 128.3,212.4" stroke="#8fb0ea" stroke-width="1.6" fill="none" stroke-linecap="round"/>
<path d="M125.2,208.0 125.6,207.9 126.1,207.3 126.7,206.6 127.2,205.8 127.7,205.3 128.1,205.2M128.5,209.2 128.9,209.0 129.4,208.5 130.0,207.7 130.5,207.0 131.0,206.5 131.4,206.3M131.8,210.3 132.2,210.2 132.7,209.7 133.3,208.9 133.8,208.2 134.3,207.6 134.7,207.5M135.1,211.5 135.5,211.4 136.0,210.8 136.6,210.1 137.1,209.3 137.6,208.8 138.0,208.7M138.4,212.6 138.8,212.5 139.3,212.0 139.9,211.2 140.4,210.5 140.9,210.0 141.3,209.8" stroke="#5a78b8" stroke-width="0.9" fill="none" stroke-linecap="round"/><path d="M125.0,206.0 125.0,206.5 125.0,206.9 125.0,207.3 125.0,207.7 125.1,207.9 125.2,208.0M128.1,205.2 128.3,205.5 128.3,206.2 128.3,207.2 128.3,208.1 128.3,208.8 128.5,209.2M131.4,206.3 131.6,206.7 131.6,207.4 131.6,208.3 131.6,209.3 131.6,210.0 131.8,210.3M134.7,207.5 134.9,207.8 134.9,208.5 134.9,209.5 134.9,210.4 134.9,211.2 135.1,211.5M138.0,208.7 138.2,209.0 138.2,209.7 138.2,210.7 138.2,211.6 138.2,212.3 138.4,212.6M141.3,209.8 141.4,210.1 141.5,210.6 141.5,211.2 141.5,212.0 141.5,212.8 141.5,213.4" stroke="#5a78b8" stroke-width="2.6" fill="none" stroke-linecap="round"/><path d="M125.0,206.0 125.0,206.5 125.0,206.9 125.0,207.3 125.0,207.7 125.1,207.9 125.2,208.0M128.1,205.2 128.3,205.5 128.3,206.2 128.3,207.2 128.3,208.1 128.3,208.8 128.5,209.2M131.4,206.3 131.6,206.7 131.6,207.4 131.6,208.3 131.6,209.3 131.6,210.0 131.8,210.3M134.7,207.5 134.9,207.8 134.9,208.5 134.9,209.5 134.9,210.4 134.9,211.2 135.1,211.5M138.0,208.7 138.2,209.0 138.2,209.7 138.2,210.7 138.2,211.6 138.2,212.3 138.4,212.6M141.3,209.8 141.4,210.1 141.5,210.6 141.5,211.2 141.5,212.0 141.5,212.8 141.5,213.4" stroke="#8fb0ea" stroke-width="1.6" fill="none" stroke-linecap="round"/>
<path d="M79.3,201.9 79.7,201.9 80.4,201.7 81.2,201.2 82.1,200.8 82.8,200.5 83.1,200.6M81.8,204.4 82.2,204.4 82.9,204.1 83.7,203.7 84.6,203.3 85.2,203.0 85.6,203.1M84.3,206.8 84.7,206.9 85.3,206.6 86.2,206.2 87.0,205.8 87.7,205.5 88.1,205.5M86.8,209.3 87.1,209.4 87.8,209.1 88.7,208.7 89.5,208.2 90.2,208.0 90.6,208.0M89.2,211.8 89.6,211.8 90.3,211.6 91.1,211.1 92.0,210.7 92.7,210.4 93.0,210.5" stroke="#5a78b8" stroke-width="0.9" fill="none" stroke-linecap="round"/><path d="M80.0,200.0 79.8,200.4 79.6,200.8 79.4,201.2 79.3,201.5 79.3,201.7 79.3,201.9M83.1,200.6 83.2,201.0 82.9,201.6 82.5,202.5 82.0,203.3 81.8,204.0 81.8,204.4M85.6,203.1 85.6,203.4 85.4,204.1 84.9,204.9 84.5,205.8 84.3,206.5 84.3,206.8M88.1,205.5 88.1,205.9 87.9,206.6 87.4,207.4 87.0,208.3 86.7,208.9 86.8,209.3M90.6,208.0 90.6,208.4 90.3,209.1 89.9,209.9 89.5,210.7 89.2,211.4 89.2,211.8M93.0,210.5 93.1,210.5 93.1,210.6 93.1,210.7 93.1,210.8 93.1,210.9 93.0,211.0" stroke="#5a78b8" stroke-width="2.6" fill="none" stroke-linecap="round"/><path d="M80.0,200.0 79.8,200.4 79.6,200.8 79.4,201.2 79.3,201.5 79.3,201.7 79.3,201.9M83.1,200.6 83.2,201.0 82.9,201.6 82.5,202.5 82.0,203.3 81.8,204.0 81.8,204.4M85.6,203.1 85.6,203.4 85.4,204.1 84.9,204.9 84.5,205.8 84.3,206.5 84.3,206.8M88.1,205.5 88.1,205.9 87.9,206.6 87.4,207.4 87.0,208.3 86.7,208.9 86.8,209.3M90.6,208.0 90.6,208.4 90.3,209.1 89.9,209.9 89.5,210.7 89.2,211.4 89.2,211.8M93.0,210.5 93.1,210.5 93.1,210.6 93.1,210.7 93.1,210.8 93.1,210.9 93.0,211.0" stroke="#8fb0ea" stroke-width="1.6" fill="none" stroke-linecap="round"/>
<defs><clipPath id="zc"><rect x="4.2" y="228.2" width="150.3" height="106.5"/></clipPath></defs>
<g clip-path="url(#zc)">
<path d="M61.8,241.0 C62.8,228.5 71.2,228.3 73.3,239.3M73.8,241.4 C74.8,228.9 83.2,228.6 85.3,239.7M85.8,241.7 C86.8,229.2 95.2,229.0 97.3,240.1M97.8,242.1 C98.8,229.6 107.2,229.4 109.3,240.4M109.8,242.5 C110.8,230.0 119.2,229.7 121.3,240.8" stroke="#dcb0cc" stroke-width="5.2" fill="none" stroke-linecap="butt"/><path d="M61.8,241.0 C62.8,228.5 71.2,228.3 73.3,239.3M73.8,241.4 C74.8,228.9 83.2,228.6 85.3,239.7M85.8,241.7 C86.8,229.2 95.2,229.0 97.3,240.1M97.8,242.1 C98.8,229.6 107.2,229.4 109.3,240.4M109.8,242.5 C110.8,230.0 119.2,229.7 121.3,240.8" stroke="#f4cce2" stroke-width="4.0" fill="none" stroke-linecap="butt"/>
<path d="M61.1,236.6 C73.1,245.6 68.8,252.9 56.6,247.3M54.2,246.5 C66.2,255.5 61.9,262.7 49.7,257.2" stroke="#c898b8" stroke-width="5.7" fill="none" stroke-linecap="butt"/><path d="M61.1,236.6 C73.1,245.6 68.8,252.9 56.6,247.3M54.2,246.5 C66.2,255.5 61.9,262.7 49.7,257.2" stroke="#e8b4d6" stroke-width="4.5" fill="none" stroke-linecap="butt"/>
<path d="M24.5,284.7 C8.7,272.4 13.9,264.0 29.7,272.1M32.7,273.4 C17.0,261.1 22.1,252.7 38.0,260.8M41.0,262.1 C25.2,249.7 30.4,241.4 46.2,249.5M49.2,250.8 C33.5,238.4 38.6,230.1 54.5,238.2" stroke="#b85a98" stroke-width="6.7" fill="none" stroke-linecap="butt"/><path d="M24.5,284.7 C8.7,272.4 13.9,264.0 29.7,272.1M32.7,273.4 C17.0,261.1 22.1,252.7 38.0,260.8M41.0,262.1 C25.2,249.7 30.4,241.4 46.2,249.5M49.2,250.8 C33.5,238.4 38.6,230.1 54.5,238.2" stroke="#ec8ec6" stroke-width="5.5" fill="none" stroke-linecap="butt"/><path d="M24.5,284.7 C8.7,272.4 13.9,264.0 29.7,272.1M32.7,273.4 C17.0,261.1 22.1,252.7 38.0,260.8M41.0,262.1 C25.2,249.7 30.4,241.4 46.2,249.5M49.2,250.8 C33.5,238.4 38.6,230.1 54.5,238.2" stroke="#f4b0d8" stroke-width="1.9" fill="none" stroke-linecap="butt" transform="translate(0,-1)"/>
<path d="M4,262 C10,256 18,262 14,270 C10,276 4,272 8,266 M12,272 C8,282 10,300 11,322 C12,328 18,329 22,326" stroke="#e070b0" stroke-width="1.6" fill="none"/>
<path d="M1.0,248.4 C8.5,247.6 9.3,251.0 2.9,253.0M1.7,253.4 C9.2,252.6 10.0,256.0 3.6,257.9" stroke="#a04080" stroke-width="3.7" fill="none" stroke-linecap="butt"/><path d="M1.0,248.4 C8.5,247.6 9.3,251.0 2.9,253.0M1.7,253.4 C9.2,252.6 10.0,256.0 3.6,257.9" stroke="#e070b0" stroke-width="2.5" fill="none" stroke-linecap="butt"/>
<path d="M22.9,321.4 C16.2,305.2 24.2,300.8 33.0,313.7M34.7,315.9 C28.0,299.8 36.0,295.3 44.8,308.2M46.5,310.5 C39.8,294.3 47.8,289.9 56.6,302.8M58.4,305.1 C51.6,288.9 59.6,284.5 68.4,297.4" stroke="#b85a98" stroke-width="6.2" fill="none" stroke-linecap="butt"/><path d="M22.9,321.4 C16.2,305.2 24.2,300.8 33.0,313.7M34.7,315.9 C28.0,299.8 36.0,295.3 44.8,308.2M46.5,310.5 C39.8,294.3 47.8,289.9 56.6,302.8M58.4,305.1 C51.6,288.9 59.6,284.5 68.4,297.4" stroke="#ec92c6" stroke-width="5.0" fill="none" stroke-linecap="butt"/>
<path d="M151.9,267.0 C137.2,263.9 138.1,255.5 151.5,255.4M154.0,255.2 C139.3,252.0 140.2,243.7 153.6,243.6M156.0,243.4 C141.4,240.2 142.2,231.8 155.6,231.8" stroke="#b2508c" stroke-width="5.7" fill="none" stroke-linecap="butt"/><path d="M151.9,267.0 C137.2,263.9 138.1,255.5 151.5,255.4M154.0,255.2 C139.3,252.0 140.2,243.7 153.6,243.6M156.0,243.4 C141.4,240.2 142.2,231.8 155.6,231.8" stroke="#ee7ab8" stroke-width="4.5" fill="none" stroke-linecap="butt"/>
<path d="M136,244 C142,250 143,262 139,272 C135,282 139,292 137,300 M146,264 C150,272 146,280 142,284" stroke="#e070b0" stroke-width="1.5" fill="none"/>
<path d="M51.5,296.6 C32.9,294.3 33.0,284.5 49.6,283.1M52.7,282.7 C34.1,280.4 34.2,270.6 50.8,269.2M53.9,268.8 C35.3,266.4 35.4,256.6 52.1,255.2" stroke="#6a9064" stroke-width="6.7" fill="none" stroke-linecap="butt"/><path d="M51.5,296.6 C32.9,294.3 33.0,284.5 49.6,283.1M52.7,282.7 C34.1,280.4 34.2,270.6 50.8,269.2M53.9,268.8 C35.3,266.4 35.4,256.6 52.1,255.2" stroke="#a8c8a0" stroke-width="5.5" fill="none" stroke-linecap="butt"/><path d="M51.5,296.6 C32.9,294.3 33.0,284.5 49.6,283.1M52.7,282.7 C34.1,280.4 34.2,270.6 50.8,269.2M53.9,268.8 C35.3,266.4 35.4,256.6 52.1,255.2" stroke="#c0dab8" stroke-width="1.9" fill="none" stroke-linecap="butt" transform="translate(0,-1)"/>
<path d="M62.3,252.6 C57.3,235.8 66.3,232.0 73.9,245.7M75.5,248.1 C70.5,231.3 79.6,227.5 87.2,241.2M88.8,243.6 C83.8,226.8 92.8,223.0 100.4,236.6" stroke="#6a9064" stroke-width="6.7" fill="none" stroke-linecap="butt"/><path d="M62.3,252.6 C57.3,235.8 66.3,232.0 73.9,245.7M75.5,248.1 C70.5,231.3 79.6,227.5 87.2,241.2M88.8,243.6 C83.8,226.8 92.8,223.0 100.4,236.6" stroke="#a8c8a0" stroke-width="5.5" fill="none" stroke-linecap="butt"/><path d="M62.3,252.6 C57.3,235.8 66.3,232.0 73.9,245.7M75.5,248.1 C70.5,231.3 79.6,227.5 87.2,241.2M88.8,243.6 C83.8,226.8 92.8,223.0 100.4,236.6" stroke="#c0dab8" stroke-width="1.9" fill="none" stroke-linecap="butt" transform="translate(0,-1)"/>
<path d="M99.3,245.0 C101.6,232.6 110.0,233.3 110.9,244.5M111.2,246.5 C113.5,234.2 121.9,234.8 122.8,246.1" stroke="#7a9a72" stroke-width="5.7" fill="none" stroke-linecap="butt"/><path d="M99.3,245.0 C101.6,232.6 110.0,233.3 110.9,244.5M111.2,246.5 C113.5,234.2 121.9,234.8 122.8,246.1" stroke="#b0d0a8" stroke-width="4.5" fill="none" stroke-linecap="butt"/>
<path d="M85.0,331.2 C67.5,332.6 65.6,322.9 80.6,318.3M83.3,317.3 C65.8,318.7 64.0,309.0 78.9,304.4M81.6,303.4 C64.2,304.8 62.3,295.1 77.2,290.5" stroke="#6a9064" stroke-width="6.7" fill="none" stroke-linecap="butt"/><path d="M85.0,331.2 C67.5,332.6 65.6,322.9 80.6,318.3M83.3,317.3 C65.8,318.7 64.0,309.0 78.9,304.4M81.6,303.4 C64.2,304.8 62.3,295.1 77.2,290.5" stroke="#a8c8a0" stroke-width="5.5" fill="none" stroke-linecap="butt"/><path d="M85.0,331.2 C67.5,332.6 65.6,322.9 80.6,318.3M83.3,317.3 C65.8,318.7 64.0,309.0 78.9,304.4M81.6,303.4 C64.2,304.8 62.3,295.1 77.2,290.5" stroke="#c0dab8" stroke-width="1.9" fill="none" stroke-linecap="butt" transform="translate(0,-1)"/>
<path d="M82.7,283.0 C91.4,270.8 99.4,275.2 94.4,287.7M93.7,290.1 C102.3,277.8 110.3,282.3 105.3,294.8" stroke="#6a9064" stroke-width="6.2" fill="none" stroke-linecap="butt"/><path d="M82.7,283.0 C91.4,270.8 99.4,275.2 94.4,287.7M93.7,290.1 C102.3,277.8 110.3,282.3 105.3,294.8" stroke="#9cc094" stroke-width="5.0" fill="none" stroke-linecap="butt"/>
<path d="M59.1,255.0 C71.5,253.1 73.5,260.5 63.1,264.8M61.3,265.8 C73.6,263.9 75.6,271.3 65.3,275.6" stroke="#7ea078" stroke-width="5.7" fill="none" stroke-linecap="butt"/><path d="M59.1,255.0 C71.5,253.1 73.5,260.5 63.1,264.8M61.3,265.8 C73.6,263.9 75.6,271.3 65.3,275.6" stroke="#b4d0ae" stroke-width="4.5" fill="none" stroke-linecap="butt"/>
<path d="M59.1,275.7 C57.3,258.8 71.0,255.8 77.4,269.8M78.9,272.3 C77.0,255.4 90.7,252.4 97.1,266.5M98.6,269.0 C96.7,252.0 110.4,249.0 116.8,263.1M118.3,265.6 C116.4,248.7 130.1,245.7 136.6,259.7" stroke="#1c3f9c" stroke-width="7.2" fill="none" stroke-linecap="butt"/><path d="M59.1,275.7 C57.3,258.8 71.0,255.8 77.4,269.8M78.9,272.3 C77.0,255.4 90.7,252.4 97.1,266.5M98.6,269.0 C96.7,252.0 110.4,249.0 116.8,263.1M118.3,265.6 C116.4,248.7 130.1,245.7 136.6,259.7" stroke="#3a6ee6" stroke-width="6.0" fill="none" stroke-linecap="butt"/><path d="M59.1,275.7 C57.3,258.8 71.0,255.8 77.4,269.8M78.9,272.3 C77.0,255.4 90.7,252.4 97.1,266.5M98.6,269.0 C96.7,252.0 110.4,249.0 116.8,263.1M118.3,265.6 C116.4,248.7 130.1,245.7 136.6,259.7" stroke="#5a8cf0" stroke-width="2.1" fill="none" stroke-linecap="butt" transform="translate(0,-1)"/>
<path d="M100,270 L100,278 M96,276 L104,280 M100,278 L96,284" stroke="#c01818" stroke-width="1.8" fill="none"/>
<path d="M126,252 L131,249 L135,252 L134,257 L129,258 L125,256 Z M122,258 L126,256" stroke="#c01818" stroke-width="1.8" fill="none"/>
<line x1="59" y1="265" x2="58" y2="283" stroke="#2a8a2a" stroke-width="1.2"/>
<path d="M14.0,334.2 C9.9,315.9 23.2,311.4 31.5,326.2M33.3,328.9 C29.2,310.5 42.5,306.0 50.8,320.9M52.5,323.5 C48.5,305.2 61.8,300.7 70.0,315.5M71.8,318.1 C67.7,299.8 81.0,295.3 89.3,310.1M91.1,312.7 C87.0,294.4 100.3,289.9 108.6,304.8M110.3,307.4 C106.3,289.0 119.6,284.6 127.8,299.4" stroke="#1f9c9c" stroke-width="6.7" fill="none" stroke-linecap="butt"/><path d="M14.0,334.2 C9.9,315.9 23.2,311.4 31.5,326.2M33.3,328.9 C29.2,310.5 42.5,306.0 50.8,320.9M52.5,323.5 C48.5,305.2 61.8,300.7 70.0,315.5M71.8,318.1 C67.7,299.8 81.0,295.3 89.3,310.1M91.1,312.7 C87.0,294.4 100.3,289.9 108.6,304.8M110.3,307.4 C106.3,289.0 119.6,284.6 127.8,299.4" stroke="#4ee6e0" stroke-width="5.5" fill="none" stroke-linecap="butt"/><path d="M14.0,334.2 C9.9,315.9 23.2,311.4 31.5,326.2M33.3,328.9 C29.2,310.5 42.5,306.0 50.8,320.9M52.5,323.5 C48.5,305.2 61.8,300.7 70.0,315.5M71.8,318.1 C67.7,299.8 81.0,295.3 89.3,310.1M91.1,312.7 C87.0,294.4 100.3,289.9 108.6,304.8M110.3,307.4 C106.3,289.0 119.6,284.6 127.8,299.4" stroke="#8af0ec" stroke-width="1.9" fill="none" stroke-linecap="butt" transform="translate(0,-1)"/>
<path d="M128,296 L136,290 L138,284 L134,296 Z" fill="#4ee6e0" stroke="#1f9c9c" stroke-width="0.8"/>
<path d="M10,318 L14,326 L22,322" stroke="#30c8c4" stroke-width="2.4" fill="none"/>
</g>
<rect x="4.2" y="228.2" width="150.3" height="106.5" fill="none" stroke="#222" stroke-width="0.9"/>
<text x="104.3" y="247.4" font-size="9.5" font-weight="bold" fill="#2f4f9f" textLength="18" lengthAdjust="spacingAndGlyphs">H4c</text>
<text x="122.3" y="270.8" font-size="9.3" font-weight="bold" fill="#9a2040" textLength="22.2" lengthAdjust="spacingAndGlyphs">H106</text>
<text x="105.8" y="288.7" font-size="9.3" font-weight="bold" fill="#9a2040" textLength="18.2" lengthAdjust="spacingAndGlyphs">L111</text>
<text x="63" y="288.7" font-size="10.8" font-weight="bold" fill="#3a5a70">HP<tspan font-size="6.5" dy="1.8">In</tspan></text>
<text x="93.3" y="323.7" font-size="11.5" font-weight="bold" fill="#5aa6e0" textLength="21" lengthAdjust="spacingAndGlyphs">H6b</text>
<text x="9" y="14.8" font-size="13.5" fill="#000" text-anchor="start" font-weight="normal" >A</text>
<text x="140.3" y="9.8" font-size="13.5" fill="#000" text-anchor="start" font-weight="normal" >B</text>
<text x="273.6" y="9.8" font-size="13.5" fill="#000" text-anchor="start" font-weight="normal" >C</text>
<text x="408.2" y="9.6" font-size="12" fill="#000" text-anchor="start" font-weight="normal" >D</text>
<text x="549.6" y="9.7" font-size="12" fill="#000" text-anchor="start" font-weight="normal" >E</text>
<text x="182.4" y="229.7" font-size="12.5" fill="#000" text-anchor="start" font-weight="normal"  textLength="8.4" lengthAdjust="spacingAndGlyphs">F</text>
<text x="358.6" y="228.3" font-size="12.5" fill="#000" text-anchor="start" font-weight="normal" >G</text>
<line x1="172.3" y1="39.5" x2="172.3" y2="131.7" stroke="#000" stroke-width="1.1" />
<line x1="169.70000000000002" y1="131.7" x2="172.3" y2="131.7" stroke="#000" stroke-width="1" />
<text x="169.5" y="134.29999999999998" font-size="7.3" fill="#000" text-anchor="end" font-weight="bold" >0.0</text>
<line x1="169.70000000000002" y1="108.6" x2="172.3" y2="108.6" stroke="#000" stroke-width="1" />
<text x="169.5" y="111.19999999999999" font-size="7.3" fill="#000" text-anchor="end" font-weight="bold" >0.5</text>
<line x1="169.70000000000002" y1="85.49999999999999" x2="172.3" y2="85.49999999999999" stroke="#000" stroke-width="1" />
<text x="169.5" y="88.09999999999998" font-size="7.3" fill="#000" text-anchor="end" font-weight="bold" >1.0</text>
<line x1="169.70000000000002" y1="62.39999999999998" x2="172.3" y2="62.39999999999998" stroke="#000" stroke-width="1" />
<text x="169.5" y="64.99999999999997" font-size="7.3" fill="#000" text-anchor="end" font-weight="bold" >1.5</text>
<line x1="169.70000000000002" y1="39.29999999999998" x2="172.3" y2="39.29999999999998" stroke="#000" stroke-width="1" />
<text x="169.5" y="41.899999999999984" font-size="7.3" fill="#000" text-anchor="end" font-weight="bold" >2.0</text>
<line x1="172.3" y1="131.7" x2="290" y2="131.7" stroke="#000" stroke-width="1.1" />
<line x1="211" y1="131.7" x2="211" y2="134.2" stroke="#000" stroke-width="1" />
<line x1="269.2" y1="131.7" x2="269.2" y2="134.2" stroke="#000" stroke-width="1" />
<text x="0" y="0" font-size="11" fill="#000" text-anchor="middle" font-weight="bold" transform="translate(150.3,85.2) rotate(-90)" >I (μA)</text>
<rect x="192.2" y="99" width="38.4" height="32.69999999999999" fill="#7f7f7f" stroke="#000" stroke-width="1"/>
<circle cx="212.5" cy="106.2" r="1.35" fill="#000"/>
<circle cx="214.5" cy="103.6" r="1.35" fill="#000"/>
<circle cx="196.2" cy="98.5" r="1.35" fill="#000"/>
<circle cx="222.5" cy="110.6" r="1.35" fill="#000"/>
<circle cx="202.0" cy="105.8" r="1.35" fill="#000"/>
<circle cx="210.0" cy="91.1" r="1.35" fill="#000"/>
<circle cx="210.2" cy="94.3" r="1.35" fill="#000"/>
<circle cx="199.1" cy="98.2" r="1.35" fill="#000"/>
<circle cx="223.5" cy="98.3" r="1.35" fill="#000"/>
<circle cx="219.2" cy="100.5" r="1.35" fill="#000"/>
<circle cx="196.2" cy="97.6" r="1.35" fill="#000"/>
<circle cx="214.1" cy="95.8" r="1.35" fill="#000"/>
<circle cx="195.1" cy="104.9" r="1.35" fill="#000"/>
<circle cx="210.1" cy="93.7" r="1.35" fill="#000"/>
<circle cx="223.9" cy="96.6" r="1.35" fill="#000"/>
<circle cx="225.3" cy="96.7" r="1.35" fill="#000"/>
<circle cx="221.2" cy="103.1" r="1.35" fill="#000"/>
<circle cx="225.8" cy="102.1" r="1.35" fill="#000"/>
<circle cx="197.3" cy="93.5" r="1.35" fill="#000"/>
<circle cx="201.4" cy="108.2" r="1.35" fill="#000"/>
<circle cx="208.8" cy="91.7" r="1.35" fill="#000"/>
<circle cx="204.2" cy="98.5" r="1.35" fill="#000"/>
<circle cx="207.1" cy="100.8" r="1.35" fill="#000"/>
<circle cx="213.9" cy="103.9" r="1.35" fill="#000"/>
<circle cx="224.7" cy="99.3" r="1.35" fill="#000"/>
<circle cx="225.6" cy="97.4" r="1.35" fill="#000"/>
<circle cx="227.7" cy="93.9" r="1.35" fill="#000"/>
<circle cx="199.5" cy="97.6" r="1.35" fill="#000"/>
<circle cx="226.8" cy="93.8" r="1.35" fill="#000"/>
<circle cx="213.3" cy="92.9" r="1.35" fill="#000"/>
<circle cx="201.2" cy="96.7" r="1.35" fill="#000"/>
<circle cx="213.5" cy="94.4" r="1.35" fill="#000"/>
<circle cx="196.2" cy="105.2" r="1.35" fill="#000"/>
<circle cx="227.7" cy="93.9" r="1.35" fill="#000"/>
<circle cx="221.2" cy="109.2" r="1.35" fill="#000"/>
<circle cx="199.1" cy="102.8" r="1.35" fill="#000"/>
<circle cx="220.1" cy="105.1" r="1.35" fill="#000"/>
<circle cx="195.5" cy="93.6" r="1.35" fill="#000"/>
<circle cx="195.5" cy="98.7" r="1.35" fill="#000"/>
<circle cx="205.3" cy="96.6" r="1.35" fill="#000"/>
<circle cx="227.3" cy="93.4" r="1.35" fill="#000"/>
<circle cx="227.9" cy="100.9" r="1.35" fill="#000"/>
<circle cx="196.6" cy="104.8" r="1.35" fill="#000"/>
<circle cx="195.1" cy="99.0" r="1.35" fill="#000"/>
<circle cx="207.9" cy="107.0" r="1.35" fill="#000"/>
<circle cx="199.3" cy="98.8" r="1.35" fill="#000"/>
<circle cx="223.5" cy="110.1" r="1.35" fill="#000"/>
<circle cx="226.6" cy="104.7" r="1.35" fill="#000"/>
<circle cx="206.8" cy="93.1" r="1.35" fill="#000"/>
<circle cx="211.7" cy="101.8" r="1.35" fill="#000"/>
<circle cx="214.3" cy="98.1" r="1.35" fill="#000"/>
<circle cx="215.1" cy="99.8" r="1.35" fill="#000"/>
<circle cx="211.2" cy="92.2" r="1.35" fill="#000"/>
<circle cx="218.5" cy="102.3" r="1.35" fill="#000"/>
<circle cx="204.2" cy="106.2" r="1.35" fill="#000"/>
<circle cx="211.7" cy="91.5" r="1.35" fill="#000"/>
<circle cx="194.4" cy="100.0" r="1.35" fill="#000"/>
<circle cx="213.7" cy="102.7" r="1.35" fill="#000"/>
<circle cx="214.9" cy="110.5" r="1.35" fill="#000"/>
<circle cx="196.0" cy="98.4" r="1.35" fill="#000"/>
<circle cx="209.9" cy="98.4" r="1.35" fill="#000"/>
<circle cx="206.0" cy="97.4" r="1.35" fill="#000"/>
<circle cx="219.1" cy="96.9" r="1.35" fill="#000"/>
<circle cx="196.1" cy="110.5" r="1.35" fill="#000"/>
<circle cx="226.8" cy="97.5" r="1.35" fill="#000"/>
<circle cx="209.5" cy="105.9" r="1.35" fill="#000"/>
<circle cx="204.9" cy="99.1" r="1.35" fill="#000"/>
<circle cx="204.6" cy="103.7" r="1.35" fill="#000"/>
<circle cx="214.3" cy="103.6" r="1.35" fill="#000"/>
<circle cx="206.8" cy="104.9" r="1.35" fill="#000"/>
<circle cx="194.9" cy="95.6" r="1.35" fill="#000"/>
<circle cx="219.0" cy="99.6" r="1.35" fill="#000"/>
<circle cx="201.6" cy="104.8" r="1.35" fill="#000"/>
<circle cx="202.1" cy="94.9" r="1.35" fill="#000"/>
<circle cx="208.8" cy="107.2" r="1.35" fill="#000"/>
<circle cx="197.5" cy="97.0" r="1.35" fill="#000"/>
<circle cx="205.3" cy="104.5" r="1.35" fill="#000"/>
<circle cx="208.9" cy="94.4" r="1.35" fill="#000"/>
<circle cx="199.8" cy="93.9" r="1.35" fill="#000"/>
<circle cx="216.1" cy="104.2" r="1.35" fill="#000"/>
<circle cx="209.3" cy="93.3" r="1.35" fill="#000"/>
<circle cx="198.1" cy="106.4" r="1.35" fill="#000"/>
<circle cx="200.5" cy="100.4" r="1.35" fill="#000"/>
<circle cx="222.5" cy="94.9" r="1.35" fill="#000"/>
<circle cx="203.5" cy="107.3" r="1.35" fill="#000"/>
<circle cx="215.8" cy="94.9" r="1.35" fill="#000"/>
<circle cx="205.7" cy="94.9" r="1.35" fill="#000"/>
<circle cx="203.9" cy="108.3" r="1.35" fill="#000"/>
<circle cx="203.2" cy="95.1" r="1.35" fill="#000"/>
<circle cx="208.2" cy="104.0" r="1.35" fill="#000"/>
<circle cx="207.9" cy="102.6" r="1.35" fill="#000"/>
<circle cx="199.3" cy="92.6" r="1.35" fill="#000"/>
<circle cx="226.1" cy="110.8" r="1.35" fill="#000"/>
<circle cx="227.6" cy="93.4" r="1.35" fill="#000"/>
<circle cx="226.3" cy="102.3" r="1.35" fill="#000"/>
<circle cx="201.6" cy="92.5" r="1.35" fill="#000"/>
<circle cx="222.4" cy="96.1" r="1.35" fill="#000"/>
<circle cx="211.6" cy="97.7" r="1.35" fill="#000"/>
<circle cx="205.6" cy="105.2" r="1.35" fill="#000"/>
<circle cx="196.3" cy="106.4" r="1.35" fill="#000"/>
<circle cx="203.8" cy="99.2" r="1.35" fill="#000"/>
<circle cx="195.5" cy="94.8" r="1.35" fill="#000"/>
<circle cx="217.6" cy="93.0" r="1.35" fill="#000"/>
<circle cx="224.5" cy="92.6" r="1.35" fill="#000"/>
<circle cx="213.6" cy="93.0" r="1.35" fill="#000"/>
<circle cx="219.3" cy="110.6" r="1.35" fill="#000"/>
<circle cx="204.2" cy="107.5" r="1.35" fill="#000"/>
<circle cx="211.8" cy="97.7" r="1.35" fill="#000"/>
<circle cx="225.9" cy="102.7" r="1.35" fill="#000"/>
<circle cx="205.6" cy="98.7" r="1.35" fill="#000"/>
<circle cx="223.3" cy="105.9" r="1.35" fill="#000"/>
<circle cx="220.6" cy="101.4" r="1.35" fill="#000"/>
<circle cx="200.7" cy="103.9" r="1.35" fill="#000"/>
<circle cx="221.8" cy="100.3" r="1.35" fill="#000"/>
<circle cx="220.9" cy="107.5" r="1.35" fill="#000"/>
<circle cx="216.5" cy="85.9" r="1.35" fill="#000"/>
<circle cx="202.1" cy="86.5" r="1.35" fill="#000"/>
<circle cx="217.5" cy="87.6" r="1.35" fill="#000"/>
<circle cx="206.9" cy="90.8" r="1.35" fill="#000"/>
<circle cx="211.5" cy="89.6" r="1.35" fill="#000"/>
<circle cx="210.5" cy="88.7" r="1.35" fill="#000"/>
<circle cx="202.0" cy="86.7" r="1.35" fill="#000"/>
<circle cx="204.3" cy="90.7" r="1.35" fill="#000"/>
<circle cx="203.2" cy="90.4" r="1.35" fill="#000"/>
<circle cx="217.4" cy="85.6" r="1.35" fill="#000"/>
<circle cx="211.0" cy="90.6" r="1.35" fill="#000"/>
<circle cx="207.7" cy="89.3" r="1.35" fill="#000"/>
<circle cx="213.1" cy="79.8" r="1.35" fill="#000"/>
<circle cx="209.1" cy="76.0" r="1.35" fill="#000"/>
<circle cx="208.6" cy="82.4" r="1.35" fill="#000"/>
<circle cx="211.8" cy="83.5" r="1.35" fill="#000"/>
<circle cx="209.3" cy="73.9" r="1.35" fill="#000"/>
<circle cx="206.5" cy="84.2" r="1.35" fill="#000"/>
<circle cx="212.5" cy="79.5" r="1.35" fill="#000"/>
<circle cx="209.3" cy="72.8" r="1.35" fill="#000"/>
<circle cx="212.7" cy="72.5" r="1.35" fill="#000"/>
<circle cx="209.2" cy="78.5" r="1.35" fill="#000"/>
<circle cx="213.8" cy="77.5" r="1.35" fill="#000"/>
<circle cx="213.7" cy="78.7" r="1.35" fill="#000"/>
<circle cx="207.4" cy="78.0" r="1.35" fill="#000"/>
<circle cx="213.7" cy="76.8" r="1.35" fill="#000"/>
<circle cx="209.9" cy="84.3" r="1.35" fill="#000"/>
<circle cx="216.3" cy="78.6" r="1.35" fill="#000"/>
<circle cx="209.2" cy="70.4" r="1.35" fill="#000"/>
<circle cx="215.1" cy="71.0" r="1.35" fill="#000"/>
<circle cx="210.5" cy="81.3" r="1.35" fill="#000"/>
<circle cx="215.4" cy="83.5" r="1.35" fill="#000"/>
<circle cx="216.4" cy="74.8" r="1.35" fill="#000"/>
<circle cx="213.3" cy="72.7" r="1.35" fill="#000"/>
<circle cx="211.9" cy="73.6" r="1.35" fill="#000"/>
<circle cx="212.2" cy="83.8" r="1.35" fill="#000"/>
<circle cx="206.0" cy="85.4" r="1.35" fill="#000"/>
<circle cx="204.6" cy="73.0" r="1.35" fill="#000"/>
<circle cx="205.4" cy="84.0" r="1.35" fill="#000"/>
<circle cx="206.5" cy="71.3" r="1.35" fill="#000"/>
<circle cx="215.8" cy="85.1" r="1.35" fill="#000"/>
<circle cx="215.8" cy="83.5" r="1.35" fill="#000"/>
<circle cx="215.7" cy="74.6" r="1.35" fill="#000"/>
<circle cx="212.1" cy="70.1" r="1.35" fill="#000"/>
<circle cx="208.2" cy="63.8" r="1.35" fill="#000"/>
<circle cx="211.1" cy="64.0" r="1.35" fill="#000"/>
<circle cx="208.6" cy="64.4" r="1.35" fill="#000"/>
<circle cx="213.6" cy="64.1" r="1.35" fill="#000"/>
<circle cx="209.9" cy="68.9" r="1.35" fill="#000"/>
<circle cx="214.9" cy="118.0" r="1.35" fill="#000"/>
<circle cx="207.2" cy="123.2" r="1.35" fill="#000"/>
<circle cx="212.4" cy="123.0" r="1.35" fill="#000"/>
<circle cx="209.7" cy="114.9" r="1.35" fill="#000"/>
<circle cx="209.8" cy="121.1" r="1.35" fill="#000"/>
<circle cx="210.0" cy="121.4" r="1.35" fill="#000"/>
<circle cx="211.0" cy="125.7" r="1.35" fill="#000"/>
<circle cx="210.0" cy="111.3" r="1.35" fill="#000"/>
<circle cx="206.9" cy="115.0" r="1.35" fill="#000"/>
<circle cx="214.1" cy="115.9" r="1.35" fill="#000"/>
<circle cx="211.2" cy="116.2" r="1.35" fill="#000"/>
<circle cx="212.7" cy="119.3" r="1.35" fill="#000"/>
<circle cx="206.8" cy="112.6" r="1.35" fill="#000"/>
<circle cx="214.0" cy="125.5" r="1.35" fill="#000"/>
<circle cx="211.2" cy="112.3" r="1.35" fill="#000"/>
<circle cx="213.6" cy="119.9" r="1.35" fill="#000"/>
<circle cx="208.2" cy="124.1" r="1.35" fill="#000"/>
<circle cx="212.0" cy="123.9" r="1.35" fill="#000"/>
<circle cx="211.5" cy="61.8" r="1.35" fill="#000"/>
<circle cx="212.5" cy="64.5" r="1.35" fill="#000"/>
<circle cx="210.4" cy="125.8" r="1.35" fill="#000"/>
<line x1="252" y1="130.29999999999998" x2="289" y2="130.29999999999998" stroke="#e02020" stroke-width="0.8" />
<circle cx="250.4" cy="126.5" r="1.2" fill="#000"/>
<circle cx="252.1" cy="125.4" r="1.2" fill="#000"/>
<circle cx="253.3" cy="128.3" r="1.2" fill="#000"/>
<circle cx="254.8" cy="128.0" r="1.2" fill="#000"/>
<circle cx="256.4" cy="129.0" r="1.2" fill="#000"/>
<circle cx="257.6" cy="129.4" r="1.2" fill="#000"/>
<circle cx="259.2" cy="128.8" r="1.2" fill="#000"/>
<circle cx="260.5" cy="128.8" r="1.2" fill="#000"/>
<circle cx="262.0" cy="128.2" r="1.2" fill="#000"/>
<circle cx="263.3" cy="127.8" r="1.2" fill="#000"/>
<circle cx="265.0" cy="128.4" r="1.2" fill="#000"/>
<circle cx="266.4" cy="128.1" r="1.2" fill="#000"/>
<circle cx="268.1" cy="128.5" r="1.2" fill="#000"/>
<circle cx="269.3" cy="128.2" r="1.2" fill="#000"/>
<circle cx="271.0" cy="128.8" r="1.2" fill="#000"/>
<circle cx="272.4" cy="127.9" r="1.2" fill="#000"/>
<circle cx="273.7" cy="129.0" r="1.2" fill="#000"/>
<circle cx="275.0" cy="128.3" r="1.2" fill="#000"/>
<circle cx="276.7" cy="127.9" r="1.2" fill="#000"/>
<circle cx="278.3" cy="129.0" r="1.2" fill="#000"/>
<circle cx="279.3" cy="129.0" r="1.2" fill="#000"/>
<circle cx="280.8" cy="128.3" r="1.2" fill="#000"/>
<circle cx="282.6" cy="128.0" r="1.2" fill="#000"/>
<circle cx="283.7" cy="128.0" r="1.2" fill="#000"/>
<circle cx="285.2" cy="128.7" r="1.2" fill="#000"/>
<circle cx="286.9" cy="129.3" r="1.2" fill="#000"/>
<path d="M211.5,56.5 L211.5,50.8 L269.2,50.8 L269.2,122" stroke="#333" stroke-width="1" fill="none" />
<text x="240" y="46.8" font-size="8.3" fill="#333" text-anchor="middle" font-weight="normal"  textLength="26" lengthAdjust="spacingAndGlyphs">&lt;0.0001</text>
<text x="194.3" y="72.5" font-size="8.3" fill="#333" text-anchor="middle" font-weight="normal" >129</text>
<text x="263.5" y="122.5" font-size="8.3" fill="#e03030" text-anchor="middle" font-weight="normal" >17</text>
<text x="0" y="0" font-size="7" fill="#000" text-anchor="end" font-weight="bold" transform="translate(213,140.5) rotate(-45)" >NaCT</text>
<text x="0" y="0" font-size="7" fill="#000" text-anchor="end" font-weight="bold" transform="translate(271.5,139.5) rotate(-45)" >H106R</text>
<text x="299.4" y="20.5" font-size="12.3" fill="#000" text-anchor="start" font-weight="normal"  textLength="14.2" lengthAdjust="spacingAndGlyphs">10</text>
<text x="315.4" y="20.5" font-size="12.3" fill="#000" text-anchor="start" font-weight="normal"  textLength="35.9" lengthAdjust="spacingAndGlyphs">citrate</text>
<rect x="296.7" y="21.5" width="55.2" height="2.1" fill="#000"/>
<path d="M283.0,34.0 C283.8,33.8 286.6,33.3 288.0,32.5 C289.4,31.7 290.5,29.5 291.5,29.0 C292.5,28.5 292.9,29.2 294.0,29.5 C295.1,29.8 296.5,30.6 298.0,31.0 C299.5,31.4 299.3,31.5 303.0,32.0 C306.7,32.5 313.8,33.2 320.0,33.8 C326.2,34.4 335.2,35.0 340.0,35.5 C344.8,36.0 346.8,36.3 349.0,37.0 C351.2,37.7 351.7,39.2 353.0,39.8 C354.3,40.4 355.7,40.6 357.0,40.6 C358.3,40.6 359.5,40.0 361.0,39.6 C362.5,39.2 363.7,38.7 366.0,38.3 C368.3,37.9 372.5,37.6 375.0,37.2 C377.5,36.8 380.0,36.2 381.0,36.0" stroke="#ee1c1c" stroke-width="1.9" fill="none" />
<path d="M283,34 C289,33.5 293,32.5 297,31.5 C299,30 300,29 301.5,29.5 C302.5,30 303,30.5 303.5,31.5" stroke="#000" stroke-width="2.2" fill="none" />
<path d="M303.5,31.5 C303.8,32.2 304.9,33.2 305.4,36.0 C305.9,38.8 306.2,43.9 306.6,48.2 C307.0,52.5 307.2,56.6 307.8,62.0 C308.4,67.4 309.0,75.7 310.0,80.7 C311.0,85.8 312.2,89.7 313.6,92.3 C315.0,94.9 315.5,95.7 318.2,96.5 C320.9,97.3 326.2,97.4 329.8,97.4 C333.4,97.4 337.0,96.9 340.0,96.5 C343.0,96.1 346.7,95.2 348.0,95.0" stroke="#000" stroke-width="0.9" fill="none" />
<path d="M346.0,95.3 C346.7,95.1 348.4,94.4 350.0,94.2 C351.6,94.0 354.0,94.7 355.3,94.1 C356.6,93.5 357.2,92.0 358.0,90.5 C358.8,89.0 358.9,88.9 360.0,85.3 C361.1,81.7 363.1,74.0 364.6,69.0 C366.1,64.0 367.5,58.9 369.2,55.2 C370.9,51.5 373.1,49.1 375.0,47.0 C376.9,44.9 379.1,43.6 380.8,42.4 C382.5,41.1 383.8,40.3 385.0,39.5 C386.2,38.7 387.3,38.1 387.8,37.8" stroke="#000" stroke-width="2.0" fill="none" />
<ellipse cx="349" cy="94.6" rx="3" ry="1.6" fill="#000"/>
<text x="325.2" y="88.6" font-size="13.3" fill="#000" text-anchor="start" font-weight="normal"  textLength="34" lengthAdjust="spacingAndGlyphs">NaCT</text>
<text x="364.4" y="32.2" font-size="12.8" fill="#ee1c1c" text-anchor="start" font-weight="normal"  textLength="39.5" lengthAdjust="spacingAndGlyphs">H106R</text>
<path d="M288.7,79.4 L288.7,99 L307.4,99" stroke="#000" stroke-width="1" fill="none" />
<text x="290" y="111" font-size="10" fill="#000" text-anchor="start" font-weight="normal" >25 sec</text>
<text x="0" y="0" font-size="10" fill="#000" text-anchor="middle" font-weight="normal" transform="translate(282.3,88.5) rotate(-90)" >0.2 μA</text>
<line x1="432.7" y1="37.3" x2="432.7" y2="124" stroke="#8a8a8a" stroke-width="1.2" />
<line x1="429.7" y1="124.0" x2="432.7" y2="124.0" stroke="#000" stroke-width="1" />
<text x="429.2" y="126.5" font-size="6.8" fill="#000" text-anchor="end" font-weight="bold" >0.0</text>
<line x1="429.7" y1="102.3" x2="432.7" y2="102.3" stroke="#000" stroke-width="1" />
<text x="429.2" y="104.8" font-size="6.8" fill="#000" text-anchor="end" font-weight="bold" >0.5</text>
<line x1="429.7" y1="80.6" x2="432.7" y2="80.6" stroke="#000" stroke-width="1" />
<text x="429.2" y="83.1" font-size="6.8" fill="#000" text-anchor="end" font-weight="bold" >1.0</text>
<line x1="429.7" y1="58.900000000000006" x2="432.7" y2="58.900000000000006" stroke="#000" stroke-width="1" />
<text x="429.2" y="61.400000000000006" font-size="6.8" fill="#000" text-anchor="end" font-weight="bold" >1.5</text>
<line x1="429.7" y1="37.2" x2="432.7" y2="37.2" stroke="#000" stroke-width="1" />
<text x="429.2" y="39.7" font-size="6.8" fill="#000" text-anchor="end" font-weight="bold" >2.0</text>
<line x1="432.7" y1="124" x2="565" y2="124" stroke="#000" stroke-width="1.1" />
<line x1="455" y1="124" x2="455" y2="126.5" stroke="#000" stroke-width="1" />
<line x1="498.5" y1="124" x2="498.5" y2="126.5" stroke="#000" stroke-width="1" />
<line x1="542" y1="124" x2="542" y2="126.5" stroke="#000" stroke-width="1" />
<text x="0" y="0" font-size="11" fill="#000" text-anchor="middle" font-weight="bold" transform="translate(416,80.4) rotate(-90)" >I (μA)</text>
<rect x="440.3" y="92.8" width="28.6" height="31.200000000000003" fill="#7f7f7f" stroke="#000" stroke-width="1"/>
<circle cx="454.7" cy="58.2" r="1.75" fill="#000"/>
<circle cx="454.7" cy="61.3" r="1.75" fill="#000"/>
<circle cx="454.7" cy="118.3" r="1.75" fill="#000"/>
<circle cx="454.3" cy="69.3" r="1.75" fill="#000"/>
<circle cx="458.1" cy="68.1" r="1.75" fill="#000"/>
<circle cx="454.8" cy="69.6" r="1.75" fill="#000"/>
<circle cx="452.2" cy="68.7" r="1.75" fill="#000"/>
<circle cx="455.7" cy="72.3" r="1.75" fill="#000"/>
<circle cx="451.5" cy="65.9" r="1.75" fill="#000"/>
<circle cx="451.4" cy="72.5" r="1.75" fill="#000"/>
<circle cx="456.2" cy="62.5" r="1.75" fill="#000"/>
<circle cx="458.6" cy="74.5" r="1.75" fill="#000"/>
<circle cx="455.9" cy="70.0" r="1.75" fill="#000"/>
<circle cx="452.0" cy="62.2" r="1.75" fill="#000"/>
<circle cx="454.9" cy="62.8" r="1.75" fill="#000"/>
<circle cx="452.2" cy="65.1" r="1.75" fill="#000"/>
<circle cx="450.9" cy="68.0" r="1.75" fill="#000"/>
<circle cx="454.2" cy="73.0" r="1.75" fill="#000"/>
<circle cx="454.9" cy="70.3" r="1.75" fill="#000"/>
<circle cx="454.7" cy="70.6" r="1.75" fill="#000"/>
<circle cx="454.4" cy="65.6" r="1.75" fill="#000"/>
<circle cx="458.7" cy="74.9" r="1.75" fill="#000"/>
<circle cx="457.4" cy="71.2" r="1.75" fill="#000"/>
<circle cx="453.2" cy="65.0" r="1.75" fill="#000"/>
<circle cx="453.0" cy="62.9" r="1.75" fill="#000"/>
<circle cx="456.8" cy="67.2" r="1.75" fill="#000"/>
<circle cx="457.5" cy="67.0" r="1.75" fill="#000"/>
<circle cx="458.4" cy="73.0" r="1.75" fill="#000"/>
<circle cx="450.7" cy="64.7" r="1.75" fill="#000"/>
<circle cx="458.0" cy="68.1" r="1.75" fill="#000"/>
<circle cx="458.5" cy="67.2" r="1.75" fill="#000"/>
<circle cx="451.3" cy="70.2" r="1.75" fill="#000"/>
<circle cx="456.9" cy="65.5" r="1.75" fill="#000"/>
<circle cx="451.4" cy="66.3" r="1.75" fill="#000"/>
<circle cx="458.4" cy="71.9" r="1.75" fill="#000"/>
<circle cx="451.6" cy="65.2" r="1.75" fill="#000"/>
<circle cx="451.5" cy="62.8" r="1.75" fill="#000"/>
<circle cx="457.1" cy="64.3" r="1.75" fill="#000"/>
<circle cx="455.2" cy="67.8" r="1.75" fill="#000"/>
<circle cx="452.2" cy="71.5" r="1.75" fill="#000"/>
<circle cx="451.7" cy="70.4" r="1.75" fill="#000"/>
<circle cx="451.6" cy="67.5" r="1.75" fill="#000"/>
<circle cx="452.4" cy="65.5" r="1.75" fill="#000"/>
<circle cx="460.4" cy="67.2" r="1.75" fill="#000"/>
<circle cx="452.3" cy="67.5" r="1.75" fill="#000"/>
<circle cx="451.2" cy="65.6" r="1.75" fill="#000"/>
<circle cx="459.0" cy="66.6" r="1.75" fill="#000"/>
<circle cx="449.9" cy="68.0" r="1.75" fill="#000"/>
<circle cx="451.3" cy="65.0" r="1.75" fill="#000"/>
<circle cx="458.0" cy="76.6" r="1.75" fill="#000"/>
<circle cx="452.3" cy="75.4" r="1.75" fill="#000"/>
<circle cx="449.8" cy="77.9" r="1.75" fill="#000"/>
<circle cx="451.6" cy="78.0" r="1.75" fill="#000"/>
<circle cx="453.2" cy="77.3" r="1.75" fill="#000"/>
<circle cx="460.2" cy="77.4" r="1.75" fill="#000"/>
<circle cx="455.6" cy="79.3" r="1.75" fill="#000"/>
<circle cx="450.9" cy="75.8" r="1.75" fill="#000"/>
<circle cx="459.6" cy="79.1" r="1.75" fill="#000"/>
<circle cx="451.7" cy="75.9" r="1.75" fill="#000"/>
<circle cx="457.6" cy="79.7" r="1.75" fill="#000"/>
<circle cx="451.1" cy="79.8" r="1.75" fill="#000"/>
<circle cx="459.3" cy="78.0" r="1.75" fill="#000"/>
<circle cx="453.8" cy="75.5" r="1.75" fill="#000"/>
<circle cx="449.2" cy="79.8" r="1.75" fill="#000"/>
<circle cx="451.6" cy="78.5" r="1.75" fill="#000"/>
<circle cx="453.5" cy="84.9" r="1.75" fill="#000"/>
<circle cx="455.2" cy="81.8" r="1.75" fill="#000"/>
<circle cx="453.1" cy="84.3" r="1.75" fill="#000"/>
<circle cx="452.5" cy="81.4" r="1.75" fill="#000"/>
<circle cx="455.0" cy="85.1" r="1.75" fill="#000"/>
<circle cx="455.3" cy="81.7" r="1.75" fill="#000"/>
<circle cx="465.1" cy="88.9" r="1.75" fill="#000"/>
<circle cx="442.6" cy="89.8" r="1.75" fill="#000"/>
<circle cx="453.3" cy="86.8" r="1.75" fill="#000"/>
<circle cx="446.6" cy="91.2" r="1.75" fill="#000"/>
<circle cx="456.5" cy="87.8" r="1.75" fill="#000"/>
<circle cx="451.3" cy="98.5" r="1.75" fill="#000"/>
<circle cx="466.7" cy="95.2" r="1.75" fill="#000"/>
<circle cx="459.5" cy="94.2" r="1.75" fill="#000"/>
<circle cx="445.7" cy="86.5" r="1.75" fill="#000"/>
<circle cx="442.6" cy="98.7" r="1.75" fill="#000"/>
<circle cx="459.7" cy="99.5" r="1.75" fill="#000"/>
<circle cx="442.7" cy="94.9" r="1.75" fill="#000"/>
<circle cx="454.3" cy="96.2" r="1.75" fill="#000"/>
<circle cx="450.2" cy="100.0" r="1.75" fill="#000"/>
<circle cx="444.1" cy="93.6" r="1.75" fill="#000"/>
<circle cx="460.6" cy="98.6" r="1.75" fill="#000"/>
<circle cx="460.6" cy="95.9" r="1.75" fill="#000"/>
<circle cx="462.0" cy="98.8" r="1.75" fill="#000"/>
<circle cx="451.0" cy="95.6" r="1.75" fill="#000"/>
<circle cx="464.7" cy="98.2" r="1.75" fill="#000"/>
<circle cx="452.6" cy="97.1" r="1.75" fill="#000"/>
<circle cx="463.8" cy="94.0" r="1.75" fill="#000"/>
<circle cx="457.8" cy="91.4" r="1.75" fill="#000"/>
<circle cx="456.8" cy="94.5" r="1.75" fill="#000"/>
<circle cx="444.2" cy="95.0" r="1.75" fill="#000"/>
<circle cx="467.0" cy="98.3" r="1.75" fill="#000"/>
<circle cx="460.4" cy="91.4" r="1.75" fill="#000"/>
<circle cx="460.6" cy="94.1" r="1.75" fill="#000"/>
<circle cx="453.2" cy="97.7" r="1.75" fill="#000"/>
<circle cx="444.3" cy="96.5" r="1.75" fill="#000"/>
<circle cx="442.9" cy="94.4" r="1.75" fill="#000"/>
<circle cx="454.2" cy="89.2" r="1.75" fill="#000"/>
<circle cx="459.7" cy="93.0" r="1.75" fill="#000"/>
<circle cx="457.6" cy="98.9" r="1.75" fill="#000"/>
<circle cx="448.6" cy="86.2" r="1.75" fill="#000"/>
<circle cx="449.7" cy="95.5" r="1.75" fill="#000"/>
<circle cx="447.3" cy="88.4" r="1.75" fill="#000"/>
<circle cx="464.8" cy="95.2" r="1.75" fill="#000"/>
<circle cx="453.2" cy="98.5" r="1.75" fill="#000"/>
<circle cx="450.4" cy="95.3" r="1.75" fill="#000"/>
<circle cx="447.2" cy="92.0" r="1.75" fill="#000"/>
<circle cx="462.3" cy="98.8" r="1.75" fill="#000"/>
<circle cx="464.2" cy="91.4" r="1.75" fill="#000"/>
<circle cx="456.8" cy="90.4" r="1.75" fill="#000"/>
<circle cx="445.6" cy="93.0" r="1.75" fill="#000"/>
<circle cx="463.1" cy="97.9" r="1.75" fill="#000"/>
<circle cx="460.0" cy="99.3" r="1.75" fill="#000"/>
<circle cx="449.1" cy="88.4" r="1.75" fill="#000"/>
<circle cx="453.5" cy="89.9" r="1.75" fill="#000"/>
<circle cx="447.6" cy="91.8" r="1.75" fill="#000"/>
<circle cx="457.8" cy="92.9" r="1.75" fill="#000"/>
<circle cx="450.1" cy="97.7" r="1.75" fill="#000"/>
<circle cx="466.8" cy="92.3" r="1.75" fill="#000"/>
<circle cx="444.1" cy="86.4" r="1.75" fill="#000"/>
<circle cx="464.0" cy="86.6" r="1.75" fill="#000"/>
<circle cx="459.9" cy="94.0" r="1.75" fill="#000"/>
<circle cx="449.9" cy="97.1" r="1.75" fill="#000"/>
<circle cx="442.7" cy="87.9" r="1.75" fill="#000"/>
<circle cx="453.6" cy="86.3" r="1.75" fill="#000"/>
<circle cx="462.9" cy="89.3" r="1.75" fill="#000"/>
<circle cx="445.7" cy="86.7" r="1.75" fill="#000"/>
<circle cx="457.9" cy="92.3" r="1.75" fill="#000"/>
<circle cx="457.9" cy="95.2" r="1.75" fill="#000"/>
<circle cx="462.4" cy="99.4" r="1.75" fill="#000"/>
<circle cx="459.3" cy="88.8" r="1.75" fill="#000"/>
<circle cx="454.1" cy="88.5" r="1.75" fill="#000"/>
<circle cx="442.5" cy="92.6" r="1.75" fill="#000"/>
<circle cx="460.1" cy="88.5" r="1.75" fill="#000"/>
<circle cx="449.0" cy="90.8" r="1.75" fill="#000"/>
<circle cx="459.6" cy="93.3" r="1.75" fill="#000"/>
<circle cx="457.6" cy="96.6" r="1.75" fill="#000"/>
<circle cx="452.0" cy="97.1" r="1.75" fill="#000"/>
<circle cx="464.9" cy="87.2" r="1.75" fill="#000"/>
<circle cx="465.5" cy="96.1" r="1.75" fill="#000"/>
<circle cx="445.4" cy="92.3" r="1.75" fill="#000"/>
<circle cx="457.8" cy="98.7" r="1.75" fill="#000"/>
<circle cx="451.6" cy="94.0" r="1.75" fill="#000"/>
<circle cx="464.2" cy="97.2" r="1.75" fill="#000"/>
<circle cx="465.8" cy="92.5" r="1.75" fill="#000"/>
<circle cx="458.5" cy="88.9" r="1.75" fill="#000"/>
<circle cx="460.2" cy="97.5" r="1.75" fill="#000"/>
<circle cx="458.2" cy="96.0" r="1.75" fill="#000"/>
<circle cx="447.5" cy="98.6" r="1.75" fill="#000"/>
<circle cx="466.7" cy="99.7" r="1.75" fill="#000"/>
<circle cx="455.6" cy="97.1" r="1.75" fill="#000"/>
<circle cx="450.2" cy="98.7" r="1.75" fill="#000"/>
<circle cx="463.6" cy="90.9" r="1.75" fill="#000"/>
<circle cx="444.3" cy="92.2" r="1.75" fill="#000"/>
<circle cx="456.0" cy="96.8" r="1.75" fill="#000"/>
<circle cx="454.4" cy="86.4" r="1.75" fill="#000"/>
<circle cx="462.4" cy="86.9" r="1.75" fill="#000"/>
<circle cx="462.2" cy="88.4" r="1.75" fill="#000"/>
<circle cx="450.6" cy="97.0" r="1.75" fill="#000"/>
<circle cx="445.7" cy="88.1" r="1.75" fill="#000"/>
<circle cx="455.1" cy="96.1" r="1.75" fill="#000"/>
<circle cx="463.2" cy="95.7" r="1.75" fill="#000"/>
<circle cx="465.8" cy="92.9" r="1.75" fill="#000"/>
<circle cx="465.9" cy="87.2" r="1.75" fill="#000"/>
<circle cx="447.7" cy="93.4" r="1.75" fill="#000"/>
<circle cx="449.5" cy="96.2" r="1.75" fill="#000"/>
<circle cx="458.2" cy="93.3" r="1.75" fill="#000"/>
<circle cx="463.3" cy="93.8" r="1.75" fill="#000"/>
<circle cx="450.0" cy="91.3" r="1.75" fill="#000"/>
<circle cx="463.3" cy="98.6" r="1.75" fill="#000"/>
<circle cx="447.4" cy="97.9" r="1.75" fill="#000"/>
<circle cx="466.4" cy="93.3" r="1.75" fill="#000"/>
<circle cx="456.5" cy="88.8" r="1.75" fill="#000"/>
<circle cx="455.6" cy="93.0" r="1.75" fill="#000"/>
<circle cx="457.3" cy="86.4" r="1.75" fill="#000"/>
<circle cx="466.4" cy="93.2" r="1.75" fill="#000"/>
<circle cx="452.9" cy="108.0" r="1.75" fill="#000"/>
<circle cx="455.8" cy="104.9" r="1.75" fill="#000"/>
<circle cx="458.1" cy="100.7" r="1.75" fill="#000"/>
<circle cx="455.4" cy="104.1" r="1.75" fill="#000"/>
<circle cx="462.9" cy="109.2" r="1.75" fill="#000"/>
<circle cx="450.5" cy="104.7" r="1.75" fill="#000"/>
<circle cx="448.0" cy="104.3" r="1.75" fill="#000"/>
<circle cx="460.4" cy="109.0" r="1.75" fill="#000"/>
<circle cx="454.3" cy="103.2" r="1.75" fill="#000"/>
<circle cx="449.1" cy="106.2" r="1.75" fill="#000"/>
<circle cx="462.4" cy="101.3" r="1.75" fill="#000"/>
<circle cx="459.7" cy="100.2" r="1.75" fill="#000"/>
<circle cx="449.2" cy="102.3" r="1.75" fill="#000"/>
<circle cx="458.1" cy="103.2" r="1.75" fill="#000"/>
<circle cx="452.1" cy="106.2" r="1.75" fill="#000"/>
<circle cx="447.6" cy="107.3" r="1.75" fill="#000"/>
<circle cx="447.9" cy="105.1" r="1.75" fill="#000"/>
<circle cx="450.2" cy="102.0" r="1.75" fill="#000"/>
<circle cx="455.2" cy="104.4" r="1.75" fill="#000"/>
<circle cx="452.5" cy="104.1" r="1.75" fill="#000"/>
<circle cx="455.2" cy="101.6" r="1.75" fill="#000"/>
<circle cx="449.4" cy="106.3" r="1.75" fill="#000"/>
<circle cx="457.2" cy="105.3" r="1.75" fill="#000"/>
<circle cx="461.0" cy="106.1" r="1.75" fill="#000"/>
<circle cx="461.1" cy="102.3" r="1.75" fill="#000"/>
<circle cx="459.0" cy="108.1" r="1.75" fill="#000"/>
<circle cx="461.9" cy="103.2" r="1.75" fill="#000"/>
<circle cx="451.4" cy="109.2" r="1.75" fill="#000"/>
<circle cx="449.6" cy="110.0" r="1.75" fill="#000"/>
<circle cx="461.7" cy="101.3" r="1.75" fill="#000"/>
<circle cx="450.0" cy="107.3" r="1.75" fill="#000"/>
<circle cx="450.4" cy="101.0" r="1.75" fill="#000"/>
<circle cx="460.7" cy="104.2" r="1.75" fill="#000"/>
<circle cx="459.9" cy="101.3" r="1.75" fill="#000"/>
<circle cx="453.0" cy="106.9" r="1.75" fill="#000"/>
<circle cx="446.0" cy="102.0" r="1.75" fill="#000"/>
<circle cx="458.0" cy="109.1" r="1.75" fill="#000"/>
<circle cx="463.1" cy="101.2" r="1.75" fill="#000"/>
<circle cx="454.8" cy="107.6" r="1.75" fill="#000"/>
<circle cx="454.8" cy="106.9" r="1.75" fill="#000"/>
<circle cx="452.2" cy="110.4" r="1.75" fill="#000"/>
<circle cx="451.5" cy="110.2" r="1.75" fill="#000"/>
<circle cx="455.1" cy="113.1" r="1.75" fill="#000"/>
<circle cx="455.2" cy="110.9" r="1.75" fill="#000"/>
<circle cx="452.2" cy="111.2" r="1.75" fill="#000"/>
<circle cx="457.4" cy="115.9" r="1.75" fill="#000"/>
<circle cx="458.1" cy="110.6" r="1.75" fill="#000"/>
<circle cx="451.2" cy="115.7" r="1.75" fill="#000"/>
<circle cx="454.4" cy="114.6" r="1.75" fill="#000"/>
<circle cx="453.3" cy="112.8" r="1.75" fill="#000"/>
<circle cx="485.0" cy="122.2" r="1.3" fill="#c00"/>
<circle cx="487.9" cy="122.2" r="1.3" fill="#c00"/>
<circle cx="491.1" cy="122.2" r="1.3" fill="#c00"/>
<circle cx="493.5" cy="122.2" r="1.3" fill="#c00"/>
<circle cx="497.2" cy="122.2" r="1.3" fill="#c00"/>
<circle cx="500.3" cy="122.2" r="1.3" fill="#c00"/>
<circle cx="502.7" cy="122.2" r="1.3" fill="#c00"/>
<circle cx="506.0" cy="122.2" r="1.3" fill="#c00"/>
<circle cx="509.2" cy="122.2" r="1.3" fill="#c00"/>
<circle cx="511.9" cy="122.2" r="1.3" fill="#c00"/>
<line x1="484" y1="122.2" x2="514" y2="122.2" stroke="#400" stroke-width="1" />
<circle cx="531.7" cy="121.6" r="1.4" fill="#000"/>
<circle cx="534.3" cy="122.0" r="1.4" fill="#000"/>
<circle cx="537.0" cy="120.0" r="1.4" fill="#000"/>
<circle cx="539.1" cy="119.8" r="1.4" fill="#000"/>
<circle cx="541.3" cy="121.0" r="1.4" fill="#000"/>
<circle cx="543.6" cy="120.7" r="1.4" fill="#000"/>
<circle cx="546.3" cy="120.0" r="1.4" fill="#000"/>
<circle cx="547.9" cy="119.7" r="1.4" fill="#000"/>
<circle cx="550.6" cy="120.1" r="1.4" fill="#000"/>
<circle cx="553.0" cy="121.0" r="1.4" fill="#000"/>
<circle cx="555.4" cy="119.8" r="1.4" fill="#000"/>
<circle cx="557.5" cy="120.1" r="1.4" fill="#000"/>
<circle cx="559.9" cy="121.0" r="1.4" fill="#000"/>
<circle cx="562.1" cy="121.8" r="1.4" fill="#000"/>
<circle cx="564.0" cy="120.8" r="1.4" fill="#000"/>
<path d="M454.8,52.6 L454.8,48.3 L498.5,48.3 L498.5,117.8" stroke="#666" stroke-width="1.2" fill="none" />
<path d="M454.8,42 L454.8,30.5 L542.4,30.5 L542.4,114.8" stroke="#666" stroke-width="1.2" fill="none" />
<text x="476.5" y="44.3" font-size="8.2" fill="#222" text-anchor="middle" font-weight="normal"  textLength="26" lengthAdjust="spacingAndGlyphs">&lt;0.0001</text>
<text x="498.7" y="26.2" font-size="8.2" fill="#222" text-anchor="middle" font-weight="normal"  textLength="26" lengthAdjust="spacingAndGlyphs">&lt;0.0001</text>
<text x="436" y="73.6" font-size="7" fill="#222" text-anchor="start" font-weight="normal"  textLength="11.2" lengthAdjust="spacingAndGlyphs">129</text>
<text x="466.6" y="78" font-size="8.7" fill="#222" text-anchor="start" font-weight="normal"  textLength="30" lengthAdjust="spacingAndGlyphs">disease</text>
<text x="466.6" y="88.5" font-size="8.7" fill="#222" text-anchor="start" font-weight="normal"  textLength="30.3" lengthAdjust="spacingAndGlyphs">causing</text>
<line x1="493.4" y1="93" x2="493.4" y2="99" stroke="#000" stroke-width="1.1" />
<path d="M491.3,98 L495.5,98 L493.4,103.5 Z" fill="#000"/>
<text x="492" y="114.5" font-size="8.3" fill="#e03030" text-anchor="middle" font-weight="normal" >10</text>
<text x="535.8" y="112.2" font-size="8.3" fill="#e03030" text-anchor="middle" font-weight="normal" >15</text>
<text x="0" y="0" font-size="6.5" fill="#000" text-anchor="end" font-weight="bold" transform="translate(456.8,132) rotate(-45)" >NaCT</text>
<text x="0" y="0" font-size="6.5" fill="#000" text-anchor="end" font-weight="bold" transform="translate(501.7,131.4) rotate(-45)" >L111R</text>
<text x="0" y="0" font-size="6.5" fill="#000" text-anchor="end" font-weight="bold" transform="translate(545.2,131.4) rotate(-45)" >L111A</text>
<text x="574.3" y="15.6" font-size="11.8" fill="#000" text-anchor="start" font-weight="normal"  textLength="13.6" lengthAdjust="spacingAndGlyphs">10</text>
<text x="589.5" y="15.6" font-size="11.8" fill="#000" text-anchor="start" font-weight="normal"  textLength="37.2" lengthAdjust="spacingAndGlyphs">citrate</text>
<rect x="574.8" y="18.3" width="55.9" height="2.9" fill="#000"/>
<path d="M556,29.6 C562,29 570,28 577.6,25.9 C580,26.5 582,27.3 584.2,27.6 C600,28.5 620,29 640,29.6 C650,29.4 660,29 667.9,28.8" stroke="#ee1c1c" stroke-width="1.5" fill="none" />
<path d="M582,30 C590,31 600,31.3 610,31.5 C620,31.7 630,31.5 640,31" stroke="#ee1c1c" stroke-width="0.8" fill="none" />
<path d="M556,30.2 C565,29.5 572,29 578,28.6 C580,30 582,31.2 585,31.8 C595,32.8 610,33.2 625,33.5 C632,34.2 637,35 642,34.5 C648,33.5 653,31 657,30.2" stroke="#8e1414" stroke-width="2.2" fill="none" />
<path d="M556,30 C559,31 561,29 564,30 C567,31 569,29 572,29.5 C575,30 576,28.5 578.2,28.9 C579.3,29 579.8,29.6 580.2,30.3" stroke="#000" stroke-width="2.4" fill="none" />
<path d="M580.2,30.3 C580.4,31.2 580.8,33.3 581.2,36.0 C581.6,38.7 582.0,41.3 582.6,46.7 C583.2,52.1 584.1,62.9 584.8,68.5 C585.5,74.1 586.1,77.2 587.0,80.4 C587.9,83.7 589.2,86.4 590.2,88.0 C591.2,89.6 592.5,89.7 593.0,90.0" stroke="#000" stroke-width="1" fill="none" />
<path d="M590.2,88.0 C591.1,88.5 592.8,90.3 595.7,90.7 C598.6,91.1 603.1,90.7 607.6,90.6 C612.1,90.5 618.6,90.2 622.8,90.0 C627.0,89.8 630.5,89.8 632.6,89.3 C634.7,88.8 634.8,87.9 635.5,87.0 C636.2,86.1 636.2,86.1 637.0,83.7 C637.8,81.3 638.9,76.8 640.2,72.8 C641.5,68.8 643.0,63.8 644.6,59.8 C646.2,55.8 647.8,52.0 650.0,48.9 C652.2,45.8 654.5,43.3 657.6,41.3 C660.7,39.3 663.9,38.3 668.5,37.0 C673.1,35.7 682.2,34.1 685.0,33.5" stroke="#000" stroke-width="2.2" fill="none" />
<text x="586.6" y="47.9" font-size="12.5" fill="#74481c" text-anchor="start" font-weight="normal"  textLength="35" lengthAdjust="spacingAndGlyphs">L111A</text>
<text x="640.2" y="26" font-size="12.8" fill="#ee1c1c" text-anchor="start" font-weight="normal"  textLength="35.5" lengthAdjust="spacingAndGlyphs">L111R</text>
<text x="593.3" y="80.5" font-size="13" fill="#000" text-anchor="start" font-weight="normal"  textLength="34.2" lengthAdjust="spacingAndGlyphs">NaCT</text>
<path d="M557.3,77.8 L557.3,93.5 L579.7,93.5" stroke="#666" stroke-width="1" fill="none" />
<text x="556.2" y="105.4" font-size="9.3" fill="#000" text-anchor="start" font-weight="normal"  textLength="26" lengthAdjust="spacingAndGlyphs">25 sec</text>
<text x="0" y="0" font-size="9.5" fill="#000" text-anchor="middle" font-weight="normal" transform="translate(552.2,84.5) rotate(-90)" >0.2 μA</text>
<text x="201.7" y="263.9" font-size="8" fill="#333" text-anchor="end" font-weight="normal"  textLength="19.5" lengthAdjust="spacingAndGlyphs">Biotin</text>
<text x="201.7" y="280.9" font-size="8" fill="#333" text-anchor="end" font-weight="normal"  textLength="18" lengthAdjust="spacingAndGlyphs">Input</text>
<defs><linearGradient id="bl" x1="0" y1="0" x2="0" y2="1"><stop offset="0" stop-color="#c4c4c4"/><stop offset="1" stop-color="#d0d0d0"/></linearGradient></defs>
<rect x="204.1" y="254.4" width="84.5" height="14.3" fill="url(#bl)" stroke="#444" stroke-width="1"/>
<rect x="204.1" y="271.6" width="84.5" height="14.4" fill="#cecece" stroke="#444" stroke-width="1"/>
<rect x="229.1" y="255" width="9" height="6" fill="#888" opacity="0.18"/>
<rect x="252.7" y="255" width="9" height="6" fill="#888" opacity="0.25"/>
<rect x="263.4" y="255" width="9" height="6" fill="#888" opacity="0.12"/>
<ellipse cx="221.9" cy="261.4" rx="3.6" ry="1.3" fill="#1a1a1a" opacity="0.75"/>
<ellipse cx="233.6" cy="261.4" rx="3.8" ry="1.3" fill="#1a1a1a" opacity="0.65"/>
<ellipse cx="246" cy="261.4" rx="4.6" ry="1.3" fill="#1a1a1a" opacity="0.8"/>
<ellipse cx="257.2" cy="261.4" rx="4.5" ry="1.3" fill="#1a1a1a" opacity="1.0"/>
<ellipse cx="267.9" cy="261.4" rx="4.6" ry="1.3" fill="#1a1a1a" opacity="0.6"/>
<ellipse cx="278.8" cy="261.4" rx="3.5" ry="1.3" fill="#1a1a1a" opacity="0.1"/>
<ellipse cx="219" cy="278.3" rx="4.6" ry="1.4" fill="#1a1a1a" opacity="0.6"/>
<ellipse cx="230.7" cy="278.5" rx="4.2" ry="1.4" fill="#1a1a1a" opacity="0.55"/>
<ellipse cx="242.3" cy="279.3" rx="4.8" ry="1.4" fill="#1a1a1a" opacity="0.75"/>
<ellipse cx="254" cy="278.8" rx="4.3" ry="1.4" fill="#1a1a1a" opacity="0.7"/>
<ellipse cx="266.4" cy="279" rx="4.3" ry="1.4" fill="#1a1a1a" opacity="0.4"/>
<ellipse cx="279.6" cy="279.2" rx="3.6" ry="1.4" fill="#1a1a1a" opacity="0.25"/>
<line x1="289.7" y1="259.7" x2="299" y2="259.7" stroke="#111" stroke-width="1.6" />
<text x="304.2" y="261.2" font-size="8.6" fill="#222" text-anchor="start" font-weight="normal"  textLength="9.2" lengthAdjust="spacingAndGlyphs">48</text>
<text x="315.1" y="261.2" font-size="8.6" fill="#222" text-anchor="start" font-weight="normal"  textLength="15.6" lengthAdjust="spacingAndGlyphs">KDa</text>
<line x1="289.7" y1="268.5" x2="299" y2="268.5" stroke="#111" stroke-width="1.6" />
<text x="304.2" y="270.5" font-size="8.6" fill="#222" text-anchor="start" font-weight="normal"  textLength="9.2" lengthAdjust="spacingAndGlyphs">35</text>
<text x="315.1" y="270.5" font-size="8.6" fill="#222" text-anchor="start" font-weight="normal"  textLength="15.6" lengthAdjust="spacingAndGlyphs">KDa</text>
<line x1="289.7" y1="273.8" x2="299" y2="273.8" stroke="#111" stroke-width="1.6" />
<text x="304.2" y="277.9" font-size="8.6" fill="#222" text-anchor="start" font-weight="normal"  textLength="9.2" lengthAdjust="spacingAndGlyphs">48</text>
<text x="315.1" y="277.9" font-size="8.6" fill="#222" text-anchor="start" font-weight="normal"  textLength="15.6" lengthAdjust="spacingAndGlyphs">KDa</text>
<line x1="289.7" y1="282.3" x2="299" y2="282.3" stroke="#111" stroke-width="1.6" />
<text x="304.2" y="285" font-size="8.6" fill="#222" text-anchor="start" font-weight="normal"  textLength="9.2" lengthAdjust="spacingAndGlyphs">35</text>
<text x="315.1" y="285" font-size="8.6" fill="#222" text-anchor="start" font-weight="normal"  textLength="15.6" lengthAdjust="spacingAndGlyphs">KDa</text>
<text x="0" y="0" font-size="8" fill="#222" text-anchor="start" font-weight="normal" transform="translate(210.9,249.7) rotate(-55)" textLength="22.6" lengthAdjust="spacingAndGlyphs">control</text>
<text x="0" y="0" font-size="8" fill="#222" text-anchor="start" font-weight="normal" transform="translate(223.8,249.7) rotate(-55)" textLength="37.4" lengthAdjust="spacingAndGlyphs">NaCT (WT)</text>
<text x="0" y="0" font-size="8" fill="#222" text-anchor="start" font-weight="normal" transform="translate(231.8,250.5) rotate(-55)" textLength="46.2" lengthAdjust="spacingAndGlyphs">NaCT(R102A)</text>
<text x="0" y="0" font-size="8" fill="#222" text-anchor="start" font-weight="normal" transform="translate(244.7,249.7) rotate(-55)" textLength="47.7" lengthAdjust="spacingAndGlyphs">NaCT(W103A)</text>
<text x="0" y="0" font-size="8" fill="#222" text-anchor="start" font-weight="normal" transform="translate(255.9,250.5) rotate(-55)" textLength="42.3" lengthAdjust="spacingAndGlyphs">NaCT(I104A)</text>
<text x="0" y="0" font-size="8" fill="#222" text-anchor="start" font-weight="bold" transform="translate(267.1,249.7) rotate(-55)" textLength="46.7" lengthAdjust="spacingAndGlyphs">NaCT(H106R)</text>
<text x="0" y="0" font-size="8" fill="#222" text-anchor="start" font-weight="bold" transform="translate(279.2,249.7) rotate(-55)" textLength="43" lengthAdjust="spacingAndGlyphs">NaCT(L111R)</text>
<text x="442.2" y="181.4" font-size="7.5" fill="#000" text-anchor="middle" font-weight="bold" >1 citrate</text>
<rect x="365.2" y="186.6" width="155.6" height="3.6" fill="#000"/>
<text x="414.4" y="199" font-size="7.5" fill="#000" text-anchor="middle" font-weight="bold" >2.5</text>
<text x="415.7" y="208.2" font-size="7.5" fill="#000" text-anchor="middle" font-weight="bold" >glucose</text>
<text x="459.8" y="200.3" font-size="7.5" fill="#000" text-anchor="middle" font-weight="bold" >oligo.</text>
<text x="494" y="201.6" font-size="7.5" fill="#000" text-anchor="middle" font-weight="bold" >2-DG</text>
<rect x="391.2" y="212" width="44.1" height="107.4" fill="#b8c8e8" stroke="#44559a" stroke-width="0.8"/>
<rect x="435.3" y="212" width="43.3" height="107.4" fill="#ff9f9f" stroke="#44559a" stroke-width="0.8"/>
<line x1="357" y1="319.4" x2="543" y2="319.4" stroke="#000" stroke-width="1" />
<line x1="404.5" y1="319.4" x2="404.5" y2="322" stroke="#000" stroke-width="1" />
<text x="404.5" y="332.1" font-size="10.3" fill="#000" text-anchor="middle" font-weight="normal" >20</text>
<line x1="450.5" y1="319.4" x2="450.5" y2="322" stroke="#000" stroke-width="1" />
<text x="450.5" y="332.1" font-size="10.3" fill="#000" text-anchor="middle" font-weight="normal" >40</text>
<line x1="496.5" y1="319.4" x2="496.5" y2="322" stroke="#000" stroke-width="1" />
<text x="496.5" y="332.1" font-size="10.3" fill="#000" text-anchor="middle" font-weight="normal" >60</text>
<line x1="542.5" y1="319.4" x2="542.5" y2="322" stroke="#000" stroke-width="1" />
<text x="542.5" y="332.1" font-size="10.3" fill="#000" text-anchor="middle" font-weight="normal" >80</text>
<text x="450.5" y="342.6" font-size="10.5" fill="#000" text-anchor="middle" font-weight="normal"  textLength="45" lengthAdjust="spacingAndGlyphs">Time (min)</text>
<line x1="371.8" y1="255.5" x2="371.8" y2="290.3" stroke="#000" stroke-width="1" />
<text x="0" y="0" font-size="7" fill="#000" text-anchor="middle" font-weight="normal" transform="translate(369.2,278.5) rotate(-90)"  textLength="53" lengthAdjust="spacingAndGlyphs">20 mpH/min/cell</text>
<polyline points="360.5,319.4 375.3,320 390.5,321 405.5,279.5 420.3,273.4 435.2,271.4 450.5,260.2 465.4,267.3 479.7,270.4 493,330 509.6,334 524.8,337" fill="none" stroke="#000" stroke-width="1" />
<circle cx="360.5" cy="319.4" r="1.9" fill="#000"/>
<circle cx="375.3" cy="320" r="1.9" fill="#000"/>
<circle cx="390.5" cy="321" r="1.9" fill="#000"/>
<circle cx="405.5" cy="279.5" r="1.9" fill="#000"/>
<line x1="405.5" y1="275.9" x2="405.5" y2="283.1" stroke="#000" stroke-width="0.8" />
<line x1="404.1" y1="275.9" x2="406.9" y2="275.9" stroke="#000" stroke-width="0.8" />
<line x1="404.1" y1="283.1" x2="406.9" y2="283.1" stroke="#000" stroke-width="0.8" />
<circle cx="420.3" cy="273.4" r="1.9" fill="#000"/>
<line x1="420.3" y1="269.79999999999995" x2="420.3" y2="277.0" stroke="#000" stroke-width="0.8" />
<line x1="418.90000000000003" y1="269.79999999999995" x2="421.7" y2="269.79999999999995" stroke="#000" stroke-width="0.8" />
<line x1="418.90000000000003" y1="277.0" x2="421.7" y2="277.0" stroke="#000" stroke-width="0.8" />
<circle cx="435.2" cy="271.4" r="1.9" fill="#000"/>
<line x1="435.2" y1="267.79999999999995" x2="435.2" y2="275.0" stroke="#000" stroke-width="0.8" />
<line x1="433.8" y1="267.79999999999995" x2="436.59999999999997" y2="267.79999999999995" stroke="#000" stroke-width="0.8" />
<line x1="433.8" y1="275.0" x2="436.59999999999997" y2="275.0" stroke="#000" stroke-width="0.8" />
<circle cx="450.5" cy="260.2" r="1.9" fill="#000"/>
<line x1="450.5" y1="256.59999999999997" x2="450.5" y2="263.8" stroke="#000" stroke-width="0.8" />
<line x1="449.1" y1="256.59999999999997" x2="451.9" y2="256.59999999999997" stroke="#000" stroke-width="0.8" />
<line x1="449.1" y1="263.8" x2="451.9" y2="263.8" stroke="#000" stroke-width="0.8" />
<circle cx="465.4" cy="267.3" r="1.9" fill="#000"/>
<line x1="465.4" y1="263.7" x2="465.4" y2="270.90000000000003" stroke="#000" stroke-width="0.8" />
<line x1="464.0" y1="263.7" x2="466.79999999999995" y2="263.7" stroke="#000" stroke-width="0.8" />
<line x1="464.0" y1="270.90000000000003" x2="466.79999999999995" y2="270.90000000000003" stroke="#000" stroke-width="0.8" />
<circle cx="479.7" cy="270.4" r="1.9" fill="#000"/>
<line x1="479.7" y1="266.79999999999995" x2="479.7" y2="274.0" stroke="#000" stroke-width="0.8" />
<line x1="478.3" y1="266.79999999999995" x2="481.09999999999997" y2="266.79999999999995" stroke="#000" stroke-width="0.8" />
<line x1="478.3" y1="274.0" x2="481.09999999999997" y2="274.0" stroke="#000" stroke-width="0.8" />
<circle cx="493" cy="330" r="1.9" fill="#000"/>
<circle cx="509.6" cy="334" r="1.9" fill="#000"/>
<circle cx="524.8" cy="337" r="1.9" fill="#000"/>
<polyline points="360.5,319.4 375.3,320.5 390.5,322 405.5,258.1 420.3,243.8 435.2,240.8 450.5,231 465.4,237.7 479.7,241.8 493,334 509.6,338.6 524.8,341.4" fill="none" stroke="#2222ee" stroke-width="1" />
<circle cx="360.5" cy="319.4" r="1.9" fill="#2222ee"/>
<circle cx="375.3" cy="320.5" r="1.9" fill="#2222ee"/>
<circle cx="390.5" cy="322" r="1.9" fill="#2222ee"/>
<circle cx="405.5" cy="258.1" r="1.9" fill="#2222ee"/>
<line x1="405.5" y1="254.50000000000003" x2="405.5" y2="261.70000000000005" stroke="#2222ee" stroke-width="0.8" />
<line x1="404.1" y1="254.50000000000003" x2="406.9" y2="254.50000000000003" stroke="#2222ee" stroke-width="0.8" />
<line x1="404.1" y1="261.70000000000005" x2="406.9" y2="261.70000000000005" stroke="#2222ee" stroke-width="0.8" />
<circle cx="420.3" cy="243.8" r="1.9" fill="#2222ee"/>
<line x1="420.3" y1="240.20000000000002" x2="420.3" y2="247.4" stroke="#2222ee" stroke-width="0.8" />
<line x1="418.90000000000003" y1="240.20000000000002" x2="421.7" y2="240.20000000000002" stroke="#2222ee" stroke-width="0.8" />
<line x1="418.90000000000003" y1="247.4" x2="421.7" y2="247.4" stroke="#2222ee" stroke-width="0.8" />
<circle cx="435.2" cy="240.8" r="1.9" fill="#2222ee"/>
<line x1="435.2" y1="237.20000000000002" x2="435.2" y2="244.4" stroke="#2222ee" stroke-width="0.8" />
<line x1="433.8" y1="237.20000000000002" x2="436.59999999999997" y2="237.20000000000002" stroke="#2222ee" stroke-width="0.8" />
<line x1="433.8" y1="244.4" x2="436.59999999999997" y2="244.4" stroke="#2222ee" stroke-width="0.8" />
<circle cx="450.5" cy="231" r="1.9" fill="#2222ee"/>
<line x1="450.5" y1="227.4" x2="450.5" y2="234.6" stroke="#2222ee" stroke-width="0.8" />
<line x1="449.1" y1="227.4" x2="451.9" y2="227.4" stroke="#2222ee" stroke-width="0.8" />
<line x1="449.1" y1="234.6" x2="451.9" y2="234.6" stroke="#2222ee" stroke-width="0.8" />
<circle cx="465.4" cy="237.7" r="1.9" fill="#2222ee"/>
<line x1="465.4" y1="234.1" x2="465.4" y2="241.29999999999998" stroke="#2222ee" stroke-width="0.8" />
<line x1="464.0" y1="234.1" x2="466.79999999999995" y2="234.1" stroke="#2222ee" stroke-width="0.8" />
<line x1="464.0" y1="241.29999999999998" x2="466.79999999999995" y2="241.29999999999998" stroke="#2222ee" stroke-width="0.8" />
<circle cx="479.7" cy="241.8" r="1.9" fill="#2222ee"/>
<line x1="479.7" y1="238.20000000000002" x2="479.7" y2="245.4" stroke="#2222ee" stroke-width="0.8" />
<line x1="478.3" y1="238.20000000000002" x2="481.09999999999997" y2="238.20000000000002" stroke="#2222ee" stroke-width="0.8" />
<line x1="478.3" y1="245.4" x2="481.09999999999997" y2="245.4" stroke="#2222ee" stroke-width="0.8" />
<circle cx="493" cy="334" r="1.9" fill="#2222ee"/>
<circle cx="509.6" cy="338.6" r="1.9" fill="#2222ee"/>
<circle cx="524.8" cy="341.4" r="1.9" fill="#2222ee"/>
<polyline points="360.5,319.4 375.3,319.5 390.5,320.5 405.5,265.3 420.3,253 435.2,251 450.5,244.9 465.4,253.6 479.7,258.5 493,328.4 509.6,332.6 524.8,335.3" fill="none" stroke="#ee2222" stroke-width="1" stroke-dasharray="3,2"/>
<rect x="358.8" y="317.7" width="3.4" height="3.4" fill="#ee2222"/>
<rect x="373.6" y="317.8" width="3.4" height="3.4" fill="#ee2222"/>
<rect x="388.8" y="318.8" width="3.4" height="3.4" fill="#ee2222"/>
<rect x="403.8" y="263.6" width="3.4" height="3.4" fill="#ee2222"/>
<line x1="405.5" y1="261.7" x2="405.5" y2="268.90000000000003" stroke="#ee2222" stroke-width="0.8" />
<line x1="404.1" y1="261.7" x2="406.9" y2="261.7" stroke="#ee2222" stroke-width="0.8" />
<line x1="404.1" y1="268.90000000000003" x2="406.9" y2="268.90000000000003" stroke="#ee2222" stroke-width="0.8" />
<rect x="418.6" y="251.3" width="3.4" height="3.4" fill="#ee2222"/>
<line x1="420.3" y1="249.4" x2="420.3" y2="256.6" stroke="#ee2222" stroke-width="0.8" />
<line x1="418.90000000000003" y1="249.4" x2="421.7" y2="249.4" stroke="#ee2222" stroke-width="0.8" />
<line x1="418.90000000000003" y1="256.6" x2="421.7" y2="256.6" stroke="#ee2222" stroke-width="0.8" />
<rect x="433.5" y="249.3" width="3.4" height="3.4" fill="#ee2222"/>
<line x1="435.2" y1="247.4" x2="435.2" y2="254.6" stroke="#ee2222" stroke-width="0.8" />
<line x1="433.8" y1="247.4" x2="436.59999999999997" y2="247.4" stroke="#ee2222" stroke-width="0.8" />
<line x1="433.8" y1="254.6" x2="436.59999999999997" y2="254.6" stroke="#ee2222" stroke-width="0.8" />
<rect x="448.8" y="243.20000000000002" width="3.4" height="3.4" fill="#ee2222"/>
<line x1="450.5" y1="241.3" x2="450.5" y2="248.5" stroke="#ee2222" stroke-width="0.8" />
<line x1="449.1" y1="241.3" x2="451.9" y2="241.3" stroke="#ee2222" stroke-width="0.8" />
<line x1="449.1" y1="248.5" x2="451.9" y2="248.5" stroke="#ee2222" stroke-width="0.8" />
<rect x="463.7" y="251.9" width="3.4" height="3.4" fill="#ee2222"/>
<line x1="465.4" y1="250.0" x2="465.4" y2="257.2" stroke="#ee2222" stroke-width="0.8" />
<line x1="464.0" y1="250.0" x2="466.79999999999995" y2="250.0" stroke="#ee2222" stroke-width="0.8" />
<line x1="464.0" y1="257.2" x2="466.79999999999995" y2="257.2" stroke="#ee2222" stroke-width="0.8" />
<rect x="478.0" y="256.8" width="3.4" height="3.4" fill="#ee2222"/>
<line x1="479.7" y1="254.9" x2="479.7" y2="262.1" stroke="#ee2222" stroke-width="0.8" />
<line x1="478.3" y1="254.9" x2="481.09999999999997" y2="254.9" stroke="#ee2222" stroke-width="0.8" />
<line x1="478.3" y1="262.1" x2="481.09999999999997" y2="262.1" stroke="#ee2222" stroke-width="0.8" />
<rect x="491.3" y="326.7" width="3.4" height="3.4" fill="#ee2222"/>
<rect x="507.90000000000003" y="330.90000000000003" width="3.4" height="3.4" fill="#ee2222"/>
<rect x="523.0999999999999" y="333.6" width="3.4" height="3.4" fill="#ee2222"/>
<polyline points="360.5,319.4 375.3,320.2 390.5,321 405.5,272.9 420.3,264.9 435.2,263.9 450.5,264.3 465.4,271.4 479.7,274 493,331 509.6,336 524.8,339" fill="none" stroke="#ee2288" stroke-width="1" />
<circle cx="360.5" cy="319.4" r="1.9" fill="#ee2288"/>
<circle cx="375.3" cy="320.2" r="1.9" fill="#ee2288"/>
<circle cx="390.5" cy="321" r="1.9" fill="#ee2288"/>
<circle cx="405.5" cy="272.9" r="1.9" fill="#ee2288"/>
<line x1="405.5" y1="269.29999999999995" x2="405.5" y2="276.5" stroke="#ee2288" stroke-width="0.8" />
<line x1="404.1" y1="269.29999999999995" x2="406.9" y2="269.29999999999995" stroke="#ee2288" stroke-width="0.8" />
<line x1="404.1" y1="276.5" x2="406.9" y2="276.5" stroke="#ee2288" stroke-width="0.8" />
<circle cx="420.3" cy="264.9" r="1.9" fill="#ee2288"/>
<line x1="420.3" y1="261.29999999999995" x2="420.3" y2="268.5" stroke="#ee2288" stroke-width="0.8" />
<line x1="418.90000000000003" y1="261.29999999999995" x2="421.7" y2="261.29999999999995" stroke="#ee2288" stroke-width="0.8" />
<line x1="418.90000000000003" y1="268.5" x2="421.7" y2="268.5" stroke="#ee2288" stroke-width="0.8" />
<circle cx="435.2" cy="263.9" r="1.9" fill="#ee2288"/>
<line x1="435.2" y1="260.29999999999995" x2="435.2" y2="267.5" stroke="#ee2288" stroke-width="0.8" />
<line x1="433.8" y1="260.29999999999995" x2="436.59999999999997" y2="260.29999999999995" stroke="#ee2288" stroke-width="0.8" />
<line x1="433.8" y1="267.5" x2="436.59999999999997" y2="267.5" stroke="#ee2288" stroke-width="0.8" />
<circle cx="450.5" cy="264.3" r="1.9" fill="#ee2288"/>
<line x1="450.5" y1="260.7" x2="450.5" y2="267.90000000000003" stroke="#ee2288" stroke-width="0.8" />
<line x1="449.1" y1="260.7" x2="451.9" y2="260.7" stroke="#ee2288" stroke-width="0.8" />
<line x1="449.1" y1="267.90000000000003" x2="451.9" y2="267.90000000000003" stroke="#ee2288" stroke-width="0.8" />
<circle cx="465.4" cy="271.4" r="1.9" fill="#ee2288"/>
<line x1="465.4" y1="267.79999999999995" x2="465.4" y2="275.0" stroke="#ee2288" stroke-width="0.8" />
<line x1="464.0" y1="267.79999999999995" x2="466.79999999999995" y2="267.79999999999995" stroke="#ee2288" stroke-width="0.8" />
<line x1="464.0" y1="275.0" x2="466.79999999999995" y2="275.0" stroke="#ee2288" stroke-width="0.8" />
<circle cx="479.7" cy="274" r="1.9" fill="#ee2288"/>
<line x1="479.7" y1="270.4" x2="479.7" y2="277.6" stroke="#ee2288" stroke-width="0.8" />
<line x1="478.3" y1="270.4" x2="481.09999999999997" y2="270.4" stroke="#ee2288" stroke-width="0.8" />
<line x1="478.3" y1="277.6" x2="481.09999999999997" y2="277.6" stroke="#ee2288" stroke-width="0.8" />
<circle cx="493" cy="331" r="1.9" fill="#ee2288"/>
<circle cx="509.6" cy="336" r="1.9" fill="#ee2288"/>
<circle cx="524.8" cy="339" r="1.9" fill="#ee2288"/>
<text x="469.8" y="232.8" font-size="12.5" fill="#2b2b80" text-anchor="start" font-weight="bold"  textLength="39.5" lengthAdjust="spacingAndGlyphs">control</text>
<text x="482.2" y="259.2" font-size="11.5" fill="#8b1010" text-anchor="start" font-weight="bold" >L111R</text>
<text x="485.3" y="272.4" font-size="11.5" fill="#000" text-anchor="start" font-weight="bold" >NaCT</text>
<text x="484.9" y="287.2" font-size="11.5" fill="#a0308a" text-anchor="start" font-weight="bold" >H106R</text>
</svg></body></html>
